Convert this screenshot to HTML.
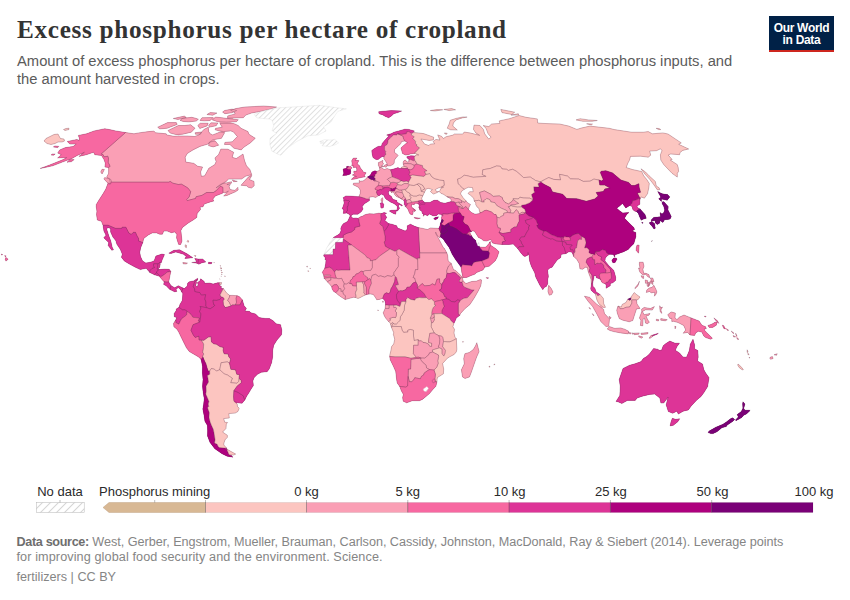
<!DOCTYPE html>
<html><head><meta charset="utf-8">
<style>
html,body{margin:0;padding:0;background:#fff;}
body{width:850px;height:600px;overflow:hidden;position:relative;font-family:"Liberation Sans",sans-serif;}
.title{position:absolute;left:17px;top:16.4px;font-family:"Liberation Serif",serif;font-weight:bold;font-size:25.2px;color:#333;letter-spacing:0.7px;white-space:nowrap;}
.sub{position:absolute;left:17px;top:52px;font-size:14.75px;line-height:18px;color:#5b5b5b;white-space:nowrap;}
.logo{position:absolute;left:769px;top:16px;width:65px;height:36px;background:#002147;border-bottom:2.8px solid #ce261e;box-sizing:border-box;color:#fff;font-weight:bold;font-size:12px;line-height:12.2px;text-align:center;padding-top:5.5px;letter-spacing:-0.3px;}
.lg{position:absolute;font-size:13px;color:#2a2a2a;white-space:nowrap;top:484px;transform:translateX(-50%);}
.foot{position:absolute;left:16.5px;font-size:12.65px;color:#858585;white-space:nowrap;}
.foot b{color:#6e6e6e;}
svg{position:absolute;left:0;top:0;}
</style></head><body>
<div class="title">Excess phosphorus per hectare of cropland</div>
<div class="sub">Amount of excess phosphorus per hectare of cropland. This is the difference between phosphorus inputs, and<br>the amount harvested in crops.</div>
<div class="logo">Our World<br>in Data</div>
<svg width="850" height="600" viewBox="0 0 850 600">
<defs><pattern id="hatch" width="3.75" height="3.75" patternUnits="userSpaceOnUse" patternTransform="rotate(45)"><rect width="3.75" height="3.75" fill="#fff"/><line x1="0.5" y1="0" x2="0.5" y2="3.75" stroke="#dcdcdc" stroke-width="0.9"/></pattern><pattern id="hatch2" width="5.66" height="5.66" patternUnits="userSpaceOnUse" patternTransform="rotate(45)"><rect width="5.66" height="5.66" fill="#fff"/><line x1="0.5" y1="0" x2="0.5" y2="5.66" stroke="#d6d6d6" stroke-width="1"/></pattern></defs>
<defs><clipPath id="land"><path clip-rule="evenodd" d="M777.2,353.7L774.0,354.8L776.6,355.3ZM772.4,356.6L770.2,357.2L769.8,358.5L770.8,359.3L773.1,358.5ZM717.0,431.8L721.9,427.7L726.3,426.6L727.0,425.3L732.6,421.4L734.7,419.6L732.6,417.8L730.5,418.8L726.7,421.7L722.9,424.3L715.8,427.2L709.1,431.1L708.1,432.6L710.7,433.6L713.2,433.6ZM735.5,419.9L736.0,420.7L741.8,417.5L743.7,415.2L746.4,414.1L750.2,410.4L748.9,410.2L744.8,410.2L743.8,408.3L744.9,404.1L743.0,401.7L742.6,403.8L742.9,408.3L741.3,411.5L737.2,414.6L738.3,417.0ZM747.2,349.8L747.1,352.4L747.8,352.2L748.1,352.1ZM747.8,353.2L748.0,354.8L748.5,354.7L749.2,354.5ZM749.3,357.2L749.1,358.0L750.0,358.0ZM739.3,367.7L742.2,369.8L743.4,369.6L740.8,366.4L738.0,364.0L737.7,365.1ZM722.3,325.2L723.8,328.4L727.1,329.7L727.5,330.5L728.7,330.3L724.5,327.2L723.9,325.8ZM731.8,331.8L733.1,333.4L734.0,333.2L731.2,331.0ZM735.6,333.2L735.9,334.6L736.4,337.2L736.3,337.1L737.7,339.5L738.9,339.2L738.2,338.8L737.8,337.9L737.6,337.4L737.2,336.6ZM733.1,335.5L733.8,337.1L735.7,336.8ZM709.2,327.4L712.7,327.4L716.3,325.2L717.2,322.3L715.3,322.1L711.7,324.2L707.9,325.5ZM717.6,322.4L718.7,323.4L717.7,321.0L713.9,317.9L715.4,320.0L717.7,322.4ZM656.3,319.2L656.3,320.5L658.4,321.0L658.9,319.7ZM660.8,318.6L660.7,319.6L660.7,320.1L660.7,320.2L665.3,320.8L667.3,319.7ZM669.9,318.4L671.7,318.4L671.8,321.6L673.5,321.3L678.1,322.6L683.7,325.5L685.7,330.0L683.2,333.2L687.6,332.4L690.0,335.0L694.6,335.5L695.7,332.9L698.4,331.3L701.8,332.1L703.8,336.1L705.7,337.6L710.8,339.2L712.4,338.2L709.2,335.0L706.5,332.4L704.8,330.5L704.2,328.9L706.3,328.7L705.7,326.8L701.9,325.2L699.1,321.0L691.1,317.9L684.0,315.0L679.5,317.1L676.8,319.7L675.0,317.6L675.4,313.1L671.2,311.9L667.7,314.7ZM621.8,403.6L627.4,400.4L635.2,400.4L637.2,398.0L642.4,396.2L649.7,394.4L654.7,394.1L659.8,398.0L660.9,403.1L663.7,403.1L667.9,397.4L666.2,404.9L667.2,408.1L668.3,411.5L672.7,413.3L676.9,411.2L678.3,414.1L683.2,411.2L688.4,409.9L691.2,406.0L696.6,400.2L701.0,396.5L703.8,392.8L707.7,386.4L708.3,382.2L709.1,377.7L705.7,373.0L703.9,369.8L702.5,364.0L697.5,360.9L698.2,357.2L697.9,350.6L694.5,348.7L694.6,344.8L693.0,339.2L690.3,344.2L689.3,350.6L686.5,357.2L682.9,356.9L679.5,352.9L675.3,350.3L677.0,346.6L679.5,343.2L675.1,343.2L669.8,341.1L665.6,343.7L663.2,345.8L661.5,350.3L659.2,350.3L657.7,349.2L653.6,348.5L649.4,354.0L646.6,356.6L643.3,358.5L641.1,361.6L635.0,363.8L629.5,365.3L623.0,368.5L621.0,374.3L619.2,379.6L620.2,386.2L620.0,391.4L619.8,395.4L616.0,401.5L617.9,401.7ZM706.1,316.3L704.2,316.3L705.6,317.1ZM343.1,169.0L343.8,173.3L342.7,175.6L346.7,175.3L350.4,174.0L350.7,171.3L350.4,169.3L352.0,168.0L350.7,166.4L350.7,166.4L348.5,166.9L348.5,166.3L346.6,166.5L346.7,168.3ZM351.8,166.0L353.4,165.5L353.2,167.5L356.3,167.3L356.8,169.8L356.6,171.3L353.8,171.3L353.8,172.5L354.0,172.8L354.9,172.5L355.3,173.4L354.5,173.8L352.3,175.1L355.2,175.8L351.2,179.4L355.6,178.9L358.7,178.1L359.7,177.8L365.3,176.8L364.3,175.8L366.1,172.8L363.3,172.0L362.5,170.5L360.4,168.0L359.6,165.8L357.9,164.5L357.3,163.5L358.9,160.6L355.3,160.3L356.9,158.1L353.3,158.1L351.7,160.8L352.1,163.5ZM367.7,176.8L366.6,178.1L365.9,178.9L363.1,180.9L360.5,181.2L359.1,180.4L359.4,182.9L353.5,183.2L353.1,184.7L358.4,187.3L360.4,190.4L360.2,193.5L358.9,196.7L354.7,196.4L350.5,196.1L345.9,195.9L343.1,197.7L343.8,199.0L343.8,200.6L344.1,202.9L343.6,205.0L342.2,208.7L343.7,209.7L343.3,213.4L346.6,212.9L348.7,213.9L350.2,215.7L349.1,218.2L347.7,221.2L345.9,222.4L343.9,223.2L342.1,225.3L340.8,228.2L341.0,230.8L339.8,233.5L337.8,235.0L333.7,237.3L333.0,238.0L332.2,239.8L330.2,241.6L328.9,244.3L326.6,248.2L325.6,250.6L323.9,254.6L323.7,256.1L325.4,257.7L324.9,259.6L326.0,259.8L325.7,263.5L324.7,268.5L322.3,272.2L323.9,275.7L323.9,276.2L323.9,276.3L323.9,276.4L324.1,278.4L325.0,279.3L325.9,280.1L327.7,282.2L328.9,283.3L330.9,285.7L331.8,287.1L332.0,288.8L333.7,291.5L336.0,292.8L337.6,294.4L341.1,297.0L345.2,299.5L348.7,298.6L353.4,297.3L355.5,297.5L358.0,298.5L360.4,297.5L362.7,296.2L365.5,294.9L366.4,294.6L369.0,294.1L370.6,294.1L373.2,294.4L375.3,297.3L376.7,299.7L379.5,299.4L382.7,298.3L383.4,299.1L383.9,299.7L384.3,298.8L384.8,300.7L385.3,301.2L385.0,301.2L385.5,303.1L385.5,304.9L385.1,308.4L384.4,310.2L383.2,312.8L384.4,316.0L386.0,318.6L388.5,321.4L390.2,323.1L390.6,324.2L391.1,326.4L391.3,327.1L393.8,332.9L393.3,334.2L394.7,339.2L393.7,344.0L391.6,346.6L390.8,351.1L389.9,354.5L389.7,356.5L390.2,359.8L393.3,366.1L395.7,371.4L396.6,379.6L397.2,383.0L399.7,386.4L401.4,390.9L403.4,394.4L402.6,397.5L403.2,401.2L406.7,402.8L412.3,400.7L419.4,400.7L422.4,399.4L425.4,397.0L429.5,393.6L432.8,389.6L435.9,386.2L437.0,381.8L437.1,379.3L437.5,377.5L443.4,373.8L443.7,369.0L442.6,363.5L443.6,362.4L447.4,358.2L450.1,356.6L454.1,354.5L456.3,351.9L456.9,349.2L456.6,344.0L456.4,338.7L455.0,337.4L454.0,332.9L454.5,329.2L452.9,326.8L453.9,323.4L454.9,321.6L456.3,318.1L459.6,315.5L460.6,313.4L465.2,308.4L469.8,304.7L474.4,297.8L478.4,290.7L480.6,286.2L481.2,283.6L481.5,279.9L480.3,279.6L476.2,281.2L471.6,281.5L465.9,283.6L463.0,280.7L462.4,277.7L462.6,277.7L460.4,275.1L457.8,272.5L454.9,269.9L453.7,269.9L452.4,266.7L451.3,263.5L448.2,260.9L447.7,255.6L446.9,253.0L444.1,248.0L443.4,247.7L437.2,235.7L437.3,235.6L439.8,237.8L440.0,236.8L443.2,238.9L445.1,241.9L449.1,247.4L452.2,254.3L455.5,259.6L460.6,266.4L461.2,267.7L461.7,272.0L462.9,277.7L466.8,277.4L470.6,275.7L475.2,274.1L476.0,272.8L483.0,269.9L484.9,267.1L489.2,266.2L492.0,263.8L495.0,261.1L495.2,260.9L497.2,257.2L499.0,251.7L495.9,248.8L490.6,245.2L490.2,243.5L490.4,241.6L489.6,242.1L489.6,242.2L489.6,242.2L489.2,243.2L486.4,246.5L485.3,247.2L482.2,247.2L479.9,247.0L478.9,246.1L479.6,244.3L478.7,242.2L477.2,244.6L476.3,243.2L475.8,240.6L473.1,238.2L471.5,235.8L470.3,233.5L469.8,231.9L471.3,232.0L471.9,230.8L474.5,231.3L476.7,234.8L478.4,237.4L481.2,238.7L483.3,240.6L486.5,241.1L488.6,240.3L490.6,239.6L490.7,239.6L490.7,239.3L490.8,239.5L494.0,238.4L494.4,239.1L491.5,241.0L492.4,242.9L496.3,244.0L502.3,244.5L508.9,244.5L513.3,244.0L514.7,245.6L517.7,248.5L518.6,249.8L520.5,252.4L523.6,256.1L525.0,256.4L528.9,254.8L529.6,260.9L531.3,266.2L534.7,272.8L535.7,277.0L539.7,284.9L542.8,289.7L544.2,287.5L546.3,286.5L547.8,283.8L547.7,283.8L547.7,279.9L548.4,276.4L547.6,270.1L549.9,268.0L552.1,267.2L554.1,264.3L557.4,259.8L560.6,257.7L561.3,254.3L563.8,254.0L566.0,253.5L568.9,251.7L572.0,252.2L573.7,256.4L576.9,259.6L579.2,263.5L579.9,268.8L582.5,269.3L585.5,267.2L587.4,267.5L588.1,271.4L589.6,275.4L591.0,279.3L591.4,284.6L590.7,288.6L591.1,290.2L593.5,292.5L595.4,294.0L596.0,296.5L596.9,299.9L600.4,306.9L596.5,303.9L589.5,297.3L584.4,296.2L588.5,301.8L592.6,306.5L596.6,313.6L600.8,321.6L606.0,326.6L608.8,326.3L609.5,319.5L609.8,319.2L604.5,313.6L603.6,309.4L601.7,307.9L605.5,307.3L603.7,303.6L603.3,298.3L600.1,294.5L597.5,292.8L596.0,291.7L594.9,288.3L593.1,286.5L592.7,283.6L593.3,279.9L594.0,277.0L593.8,275.7L595.9,275.7L596.4,277.8L599.5,278.8L601.0,280.3L601.6,282.0L602.9,283.0L604.9,283.6L606.2,284.9L606.0,288.3L610.3,285.7L610.3,283.6L612.8,282.8L615.6,280.4L615.7,277.2L615.0,274.6L613.8,270.6L611.9,268.5L608.7,265.6L607.3,263.8L605.0,260.9L605.3,258.2L606.6,256.4L608.4,255.1L609.4,254.2L613.4,254.6L614.8,257.5L614.8,254.8L617.6,254.0L621.5,252.4L623.2,251.9L628.2,249.5L630.8,246.6L633.8,243.7L635.9,236.6L635.8,232.4L632.0,231.1L634.6,229.5L633.8,227.4L630.1,224.0L624.5,218.2L626.7,214.5L629.0,212.4L622.7,212.9L619.6,210.8L616.7,208.2L619.6,206.1L622.5,203.4L625.8,207.9L629.8,205.5L632.1,206.6L632.7,209.2L634.3,211.0L636.4,211.4L638.4,213.4L639.2,216.0L640.3,218.2L641.2,220.3L643.0,219.2L646.3,218.2L645.0,214.5L640.3,209.2L637.4,207.6L637.0,206.1L639.9,204.2L639.8,202.9L639.9,199.5L641.1,196.9L644.4,198.2L647.5,193.8L648.8,187.8L649.3,183.5L646.8,179.6L643.7,175.8L641.7,171.5L632.4,169.5L626.2,167.5L627.8,163.3L629.5,160.1L630.5,156.4L640.6,156.2L648.2,157.2L650.7,155.2L649.7,151.1L656.5,150.7L660.5,148.8L662.0,150.7L660.4,154.7L660.8,160.1L663.7,164.5L672.0,173.3L677.3,177.1L677.3,173.3L678.6,171.5L678.2,167.5L677.2,164.5L670.3,160.1L672.2,159.6L668.2,155.0L670.7,154.0L679.6,154.7L680.0,152.6L682.7,150.4L688.7,149.0L678.7,144.3L681.3,142.9L668.0,134.0L662.9,132.9L652.4,133.8L648.2,131.6L643.3,132.2L631.6,132.2L614.4,129.6L609.3,128.3L589.9,126.1L581.1,128.1L576.9,129.4L568.8,126.1L559.7,124.0L552.2,123.8L543.0,123.4L537.7,123.0L537.3,118.9L526.0,117.3L519.1,115.5L509.3,118.7L499.2,120.9L499.9,123.4L491.6,124.0L488.8,126.6L483.1,125.5L486.0,128.3L488.1,133.8L491.1,137.2L488.7,139.0L484.7,133.8L483.4,129.4L479.9,125.5L474.0,125.1L473.5,129.4L476.7,134.6L470.8,133.1L464.2,132.0L462.8,134.0L454.3,134.0L453.1,135.1L446.1,136.7L443.4,138.5L441.6,136.3L437.7,134.9L439.9,140.1L435.9,139.4L435.6,139.7L433.3,141.4L433.1,141.5L434.7,143.8L430.3,144.1L428.9,145.5L424.6,144.1L420.9,139.0L429.2,140.4L433.4,139.9L433.7,137.2L423.6,133.6L418.3,132.9L413.2,132.5L414.4,130.9L409.0,129.4L404.8,129.2L398.6,130.9L393.8,132.2L392.3,133.1L386.6,135.1L389.0,135.7L387.7,137.2L384.6,140.6L382.2,143.4L381.4,146.2L378.0,146.4L374.5,148.5L371.8,150.4L372.0,153.5L373.0,157.6L376.0,159.6L378.2,159.4L380.6,157.6L382.6,156.4L384.1,157.2L383.8,158.4L384.3,159.2L384.4,159.4L385.4,160.8L387.2,164.1L384.4,165.3L384.3,166.4L382.6,166.0L381.1,166.6L383.3,167.0L383.7,166.3L386.1,167.3L387.1,166.1L390.4,165.8L393.3,164.3L394.2,163.0L394.4,160.1L396.4,157.4L398.2,155.5L397.5,154.7L394.4,152.3L394.6,149.5L397.8,146.6L400.6,143.8L401.7,141.5L405.0,141.0L407.3,142.5L403.1,145.9L400.9,148.0L401.6,150.2L402.5,153.5L405.5,155.0L408.3,154.7L410.9,153.8L414.2,153.4L416.7,153.6L415.1,156.1L410.9,155.7L410.9,155.7L406.8,156.7L407.0,157.9L409.0,158.9L408.8,160.0L409.1,161.6L407.1,162.1L405.6,160.2L404.0,160.6L403.1,162.1L403.3,164.3L404.1,166.4L401.6,167.1L401.0,168.4L399.1,168.5L398.2,167.5L394.4,168.8L390.6,169.8L387.1,168.5L384.3,169.5L384.1,169.6L384.2,169.5L379.2,166.4L379.3,166.3L380.8,166.6L381.7,165.7L383.7,163.8L382.7,163.0L382.8,160.3L380.8,161.6L378.4,162.6L378.4,165.5L379.4,167.3L379.8,169.5L379.4,170.5L376.9,171.3L374.9,170.8L372.0,172.0L370.7,174.5L369.5,176.1ZM467.8,202.9L465.8,200.7L463.1,197.7L460.5,193.8L461.6,191.2L464.6,189.1L468.3,187.3L472.5,187.6L473.2,191.7L469.6,191.7L468.0,193.5L470.3,195.1L473.7,198.2L474.2,201.0L475.9,202.9L475.6,204.2L477.1,207.1L478.8,208.2L480.1,213.4L475.0,214.2L471.4,212.4L468.5,209.7L469.1,207.1L470.5,204.5ZM425.0,202.5L422.2,200.3L421.7,198.2L422.9,195.7L424.6,192.0L426.3,188.9L428.5,188.4L432.4,189.6L430.4,191.5L433.3,194.1L436.7,192.8L438.9,191.5L436.7,191.7L435.3,189.6L438.1,188.1L441.4,187.1L439.5,191.4L439.1,191.4L440.9,193.3L443.4,194.3L447.0,196.7L450.3,198.5L451.3,200.0L451.1,201.6L445.0,203.2L440.6,202.4L437.5,200.3L433.9,200.3L429.9,202.4ZM350.7,215.9L353.1,214.2L357.9,214.2L358.6,213.7L361.2,211.8L363.1,208.9L362.1,206.8L364.4,203.7L367.2,202.1L369.5,200.6L369.3,199.3L369.2,197.2L372.8,196.7L375.8,197.4L378.5,195.6L379.7,195.4L381.1,194.1L382.1,194.5L384.1,195.4L384.7,195.6L384.3,196.0L384.9,197.7L386.2,199.3L388.7,200.8L390.4,202.1L392.6,202.9L394.2,203.7L396.2,205.3L397.4,206.8L397.1,208.9L396.8,210.0L391.5,210.3L389.6,210.8L389.6,211.3L393.9,213.7L395.6,214.2L396.3,210.7L397.6,211.0L398.4,209.7L399.6,208.2L398.4,206.3L399.1,204.2L402.0,206.1L402.4,205.3L396.8,201.9L396.9,200.6L392.8,199.3L391.4,196.4L388.7,194.6L388.3,191.7L390.4,190.4L391.8,193.0L392.5,191.7L393.8,192.5L394.6,194.6L396.4,196.4L399.7,198.0L403.3,200.1L403.9,200.6L404.3,202.1L404.3,204.5L404.3,204.5L404.3,204.5L406.8,207.7L406.8,207.8L407.4,208.7L408.4,210.0L408.7,211.3L410.0,213.9L411.1,214.5L412.5,214.7L413.2,212.6L412.6,211.0L414.8,211.6L414.8,211.1L415.8,210.3L413.6,208.8L413.0,208.2L411.4,206.8L411.7,204.2L414.2,204.7L414.9,203.2L418.3,203.4L419.2,205.5L418.8,207.4L418.7,207.4L419.8,209.4L419.6,210.0L421.7,211.0L422.2,213.4L422.8,213.7L423.5,216.3L424.6,214.4L427.6,215.8L429.4,213.9L432.9,215.8L436.4,215.8L438.3,213.9L441.7,214.5L442.0,216.6L441.4,217.6L441.8,219.6L440.4,223.7L440.1,225.3L438.9,228.4L433.9,228.2L430.6,227.9L427.4,229.5L422.8,228.4L418.3,227.6L414.2,226.1L410.5,224.2L407.3,225.8L407.3,229.2L405.2,231.1L399.7,228.7L397.7,228.2L396.7,225.8L391.9,224.2L388.3,223.6L386.8,222.1L384.9,220.5L386.8,217.1L385.9,216.6L384.9,214.2L386.7,213.3L384.1,212.5L381.4,213.5L378.8,213.2L377.7,213.4L373.8,213.9L369.2,213.7L364.9,214.7L362.9,216.0L360.5,216.8L357.9,218.4L356.1,217.9L352.8,218.2ZM518.6,115.1L518.3,113.7L512.7,114.8L511.8,114.9L511.1,115.1L511.1,115.1ZM511.8,114.5L514.7,112.2L500.8,109.4L502.0,112.6ZM591.4,124.9L592.5,124.0L586.6,123.8ZM642.2,170.4L643.2,171.8L643.3,171.9L645.3,174.5L649.9,179.6L653.8,184.7L657.4,189.9L659.9,189.6L659.1,187.8L656.3,186.0L655.3,181.4L649.1,175.8L645.5,172.0L641.0,168.8ZM657.7,191.5L660.9,197.2L658.7,198.7L661.4,201.6L661.5,199.0L667.2,200.3L669.8,196.9L667.6,194.6L662.2,193.8L659.0,192.2L659.0,192.1ZM662.1,202.4L662.2,203.7L663.6,206.1L664.7,210.0L663.8,212.4L662.0,213.9L660.0,212.6L660.6,216.8L657.4,217.1L653.6,217.4L651.2,220.0L651.6,221.3L654.7,220.5L655.4,222.9L657.3,224.5L659.5,223.2L660.5,220.7L662.8,222.6L664.2,220.5L664.1,219.7L667.9,219.5L670.1,218.9L671.3,216.8L669.8,213.4L668.0,210.0L668.2,206.6L664.1,201.9L662.9,201.6ZM651.7,221.5L651.7,221.6L649.5,222.6L649.8,224.0L651.7,225.8L654.0,229.0L655.3,228.2L654.5,223.4ZM610.0,318.9L611.2,317.6L608.9,316.3ZM609.5,326.6L607.2,328.9L609.9,330.5L613.6,331.6L620.5,332.9L628.3,333.9L628.6,332.3L628.6,332.3L628.7,331.3L624.7,329.2L620.3,327.9L614.9,328.4ZM628.6,332.4L630.1,334.2L631.4,332.9ZM632.1,332.9L632.1,332.9L632.2,333.0L632.9,334.5L633.7,333.2ZM633.9,333.2L634.3,334.7L638.7,334.2L639.1,333.3L639.3,332.9ZM640.9,333.2L641.3,334.5L647.8,333.9L648.1,332.6ZM638.8,335.8L638.7,336.8L641.4,338.2L642.9,337.1L641.9,336.8ZM548.7,285.2L548.2,288.6L547.9,291.2L549.2,295.2L551.5,294.6L553.0,292.0L551.3,288.6ZM383.4,301.2L382.5,301.2L383.0,302.6ZM614.8,258.2L613.3,258.2L611.8,260.4L612.9,262.7L615.1,262.5L616.9,259.3L616.5,258.2L615.1,258.2ZM670.1,425.9L673.4,425.3L677.8,421.7L679.7,418.8L675.5,419.3L672.3,418.3L670.9,422.2ZM674.8,326.3L675.1,328.9L676.0,326.6ZM660.2,311.8L661.9,313.4L660.9,309.9L662.5,307.0L660.9,307.8L659.7,305.7L659.8,308.4ZM656.1,128.3L658.6,129.6L660.8,129.6L659.0,128.5ZM652.8,335.0L650.9,335.5L649.1,338.2L650.2,338.2L652.5,336.6L652.6,336.1L657.3,334.2L658.3,333.2ZM638.2,284.1L635.2,287.5L634.9,288.8L637.9,285.9L639.5,281.2ZM641.6,276.8L642.2,278.0L643.6,278.6L643.6,276.2L641.0,275.7L641.3,276.2L641.5,276.6ZM643.6,275.6L643.6,275.0L645.7,274.3L647.8,276.7L649.8,277.8L648.9,274.6L646.0,273.3L643.7,273.3L642.9,269.3L644.0,266.2L643.1,262.2L639.4,262.2L639.4,264.8L640.0,268.3L638.5,268.0L639.8,272.0L641.2,273.5ZM650.3,278.0L650.9,279.1L650.5,280.0L650.3,280.6L649.2,283.4L647.7,281.2L647.8,280.7L645.2,279.9L645.5,283.3L647.8,283.3L646.8,284.9L648.3,287.2L651.2,282.1L651.9,284.1L653.1,284.4L652.5,281.5L653.9,281.7L652.8,278.0ZM653.3,285.8L652.2,287.3L648.9,288.1L649.0,288.2L646.8,289.9L646.3,292.5L649.5,291.5L651.2,292.8L654.9,292.3L654.4,296.2L655.9,294.4L656.9,292.0L656.0,289.4L653.8,285.2ZM621.3,307.0L618.0,306.0L616.7,310.2L617.4,313.4L619.3,318.6L622.8,320.2L629.2,321.8L632.8,320.5L634.1,316.3L636.5,308.9L640.0,308.4L637.0,303.9L636.4,299.9L638.0,299.7L640.0,297.0L636.4,294.4L634.2,292.5L631.2,296.8L631.0,297.8L628.1,298.9L628.0,298.9L627.9,299.0L627.9,299.0L625.8,302.6L622.2,304.4ZM641.6,309.2L641.8,311.3L640.6,314.7L639.4,318.1L640.9,320.2L640.4,325.5L642.8,325.8L643.2,315.5L644.0,315.4L645.5,323.1L647.3,323.7L649.4,322.3L647.7,319.7L646.0,316.0L649.0,315.2L650.0,313.4L644.1,314.7L642.5,311.5L645.6,309.8L652.3,310.1L654.4,306.6L650.4,308.5L644.1,307.4ZM651.4,241.9L651.9,241.1L652.3,240.3ZM643.1,222.6L641.5,222.6L642.8,223.4ZM638.5,253.2L639.0,249.0L639.1,245.1L637.0,245.1L636.3,247.7L636.1,250.3ZM597.3,120.5L588.5,119.9L580.2,118.7L576.0,119.9L582.9,121.3L592.4,121.3ZM589.1,307.3L589.6,308.6L590.8,309.2ZM592.4,313.6L593.1,315.2L594.0,315.7ZM494.9,364.3L494.0,364.0L494.2,365.1ZM489.1,366.1L489.2,367.2L490.2,366.7ZM486.2,277.5L487.0,278.6L488.8,277.9ZM462.5,376.9L465.0,378.5L469.5,376.9L471.5,371.7L476.1,358.5L477.2,355.8L479.1,351.6L476.8,342.7L475.5,345.8L473.3,349.5L469.4,352.4L464.9,353.7L463.7,358.5L464.3,363.8L461.4,369.8ZM463.1,116.9L456.5,118.3L450.2,120.3L449.2,124.0L447.6,127.2L447.4,128.3L450.6,129.8L457.3,130.0L452.8,126.1L453.4,123.0L456.1,119.9L462.4,117.9L467.1,117.1ZM463.4,341.9L462.8,341.1L462.9,342.4ZM430.3,110.5L435.0,111.0L444.3,109.5L449.1,110.6L455.6,109.8L451.7,108.6L441.1,109.7L436.9,109.6ZM444.5,132.9L445.0,134.0L446.8,134.2L447.2,133.3ZM382.6,197.7L380.9,199.3L381.2,201.1L382.3,201.9L382.9,200.0ZM435.1,217.6L433.6,218.7L435.3,219.7L437.4,218.7L438.5,216.8L435.1,217.6ZM420.4,218.2L414.2,217.4L414.3,218.0L417.6,218.9ZM382.3,202.4L380.2,203.2L380.7,204.7L380.8,207.6L381.9,208.2L383.4,207.6L383.7,204.2ZM391.5,110.6L383.0,111.2L378.7,111.7L379.0,113.7L382.9,114.9L385.4,116.5L388.7,117.7L391.4,115.9L393.8,113.7L397.9,112.6L401.7,111.0ZM378.4,310.2L377.8,309.9L378.0,310.9ZM40.1,168.5L45.0,167.5L52.7,165.8L62.4,162.1L70.3,159.1L70.4,159.1L69.6,159.8L77.2,155.5L81.4,153.6L81.8,154.3L78.9,156.4L86.4,154.7L93.6,152.3L94.8,154.7L101.5,155.5L104.0,159.6L105.3,163.3L104.9,167.0L108.6,167.5L108.6,173.3L106.3,178.0L104.7,177.6L103.8,178.9L107.9,183.2L105.8,189.1L103.0,193.8L98.8,200.3L96.3,204.5L96.2,206.8L96.9,211.3L96.5,214.5L97.3,220.0L101.4,221.3L103.0,225.3L103.9,231.1L106.0,235.3L103.8,237.7L105.0,239.0L108.7,242.4L108.2,245.6L111.8,250.3L113.5,249.8L112.2,247.2L110.8,241.1L108.8,235.8L106.7,229.2L107.6,227.4L110.6,228.4L110.6,231.9L112.9,237.1L115.7,240.6L116.9,244.3L120.4,249.5L122.3,254.3L121.4,257.2L124.3,260.9L128.9,263.8L134.9,267.0L140.3,269.6L146.2,268.3L149.9,272.6L154.5,274.7L159.2,276.2L162.4,279.9L164.1,281.7L163.7,284.6L166.2,285.7L168.8,288.6L170.1,289.6L174.5,291.7L176.8,291.5L176.0,289.4L178.2,287.5L180.4,289.4L181.7,292.0L182.8,293.6L182.3,300.4L179.9,304.4L179.1,307.3L176.3,308.9L176.1,310.7L174.2,313.6L174.3,316.8L176.8,317.6L175.7,320.0L173.5,323.4L173.9,326.8L177.0,329.2L178.7,332.1L181.3,337.4L184.0,342.9L186.4,347.7L189.3,351.6L198.6,356.9L201.1,359.4L202.5,366.4L202.4,373.0L203.0,379.6L202.5,386.2L203.0,391.4L204.2,398.8L203.6,404.6L202.8,409.1L204.0,415.2L204.9,421.2L207.4,425.6L207.6,430.8L207.5,436.0L210.0,442.4L214.8,448.7L222.0,453.7L227.1,456.2L232.8,457.2L231.1,454.9L233.4,455.1L235.7,454.1L226.7,449.1L226.7,448.2L223.8,444.9L223.9,443.1L225.1,439.8L227.4,437.3L227.3,435.2L222.6,432.1L226.0,428.5L226.3,424.0L227.6,422.5L224.7,422.2L223.7,418.6L229.3,418.0L228.8,413.6L235.2,413.1L237.9,411.5L239.2,408.3L237.5,406.5L237.0,402.4L239.2,403.1L242.1,403.2L244.8,399.9L246.8,395.9L248.6,393.3L250.8,389.6L253.4,385.6L252.9,380.9L254.0,377.7L257.5,374.3L261.4,372.2L267.1,371.7L269.2,369.0L271.6,362.7L272.6,357.2L272.7,350.6L273.7,345.3L277.0,340.0L281.5,334.7L281.8,330.0L280.6,324.7L276.1,323.7L273.1,320.8L269.5,318.5L264.9,318.4L259.1,317.6L255.5,313.9L250.9,312.8L249.7,311.5L245.0,311.0L246.4,308.4L244.1,305.7L242.4,299.9L239.6,296.8L237.1,295.7L232.7,295.4L229.7,295.4L226.7,293.1L223.4,288.6L221.1,288.6L221.4,286.5L218.1,284.4L221.2,284.4L221.6,282.5L219.2,282.8L217.4,282.8L213.1,284.1L209.7,283.0L204.6,283.3L204.2,281.5L200.7,278.8L199.9,280.9L197.5,282.5L198.0,284.6L197.4,287.0L195.7,285.7L196.5,282.5L196.1,281.2L197.6,279.9L197.7,278.3L193.6,280.9L189.4,281.7L187.7,283.0L187.3,285.9L184.4,288.6L183.0,288.1L178.3,285.7L174.7,287.8L171.1,285.7L168.7,282.0L169.5,278.0L170.8,271.4L169.2,269.3L164.6,269.1L157.2,269.8L159.5,267.5L160.2,264.8L160.1,262.2L161.1,263.0L162.3,259.6L164.5,254.6L161.9,254.0L155.9,256.1L154.1,260.9L150.5,262.2L145.8,263.0L142.6,260.9L140.5,256.4L139.8,252.2L140.7,247.7L142.8,242.6L143.7,238.5L148.3,235.0L152.2,232.9L156.7,232.9L159.7,234.2L162.4,234.2L163.8,231.1L167.2,231.1L171.3,232.7L174.8,231.9L176.9,234.5L176.5,237.7L177.8,241.9L178.7,244.5L180.7,244.5L182.0,241.1L181.6,237.1L180.9,230.6L182.5,227.4L188.0,223.2L193.2,220.0L196.8,217.4L197.2,213.4L200.5,209.5L200.1,207.1L203.0,206.8L204.3,204.0L210.3,201.9L213.7,201.1L212.9,199.0L215.4,195.9L222.5,193.3L222.9,192.2L226.4,193.2L223.7,196.1L227.1,195.4L235.6,191.7L238.2,189.9L237.9,187.3L234.9,190.4L230.0,189.4L229.0,186.0L230.5,184.7L227.6,184.5L227.6,184.3L231.4,183.2L231.5,181.7L224.9,183.2L228.4,179.1L231.4,179.1L231.6,179.1L241.5,179.1L245.5,176.3L250.1,175.0L241.0,185.3L246.6,185.8L248.2,187.3L251.5,188.1L254.2,185.8L254.0,181.4L249.5,179.6L252.0,175.2L249.9,169.5L246.5,165.8L244.6,160.8L243.0,154.0L240.2,155.9L236.2,158.6L232.2,157.2L233.7,152.3L228.0,149.2L220.9,149.0L218.5,154.7L214.9,157.9L216.1,161.6L214.9,164.5L208.8,168.3L204.7,175.8L201.4,176.3L200.6,172.0L202.6,167.0L197.7,166.3L193.7,163.3L185.8,162.1L185.2,157.2L187.3,153.5L193.0,149.9L200.0,146.4L208.9,143.8L208.6,145.7L213.2,146.9L218.7,145.2L214.1,139.6L221.5,138.3L225.3,131.4L230.9,130.9L233.5,132.0L237.3,136.5L232.4,141.7L224.9,142.4L224.5,144.5L229.9,144.5L234.0,148.3L241.3,149.9L243.4,147.6L250.3,142.9L255.3,138.3L248.9,134.2L248.0,131.6L241.1,128.3L238.2,125.5L230.3,122.0L236.5,121.7L238.3,119.7L233.1,119.1L233.2,117.9L243.3,117.7L245.8,115.1L251.6,113.0L257.6,111.9L257.9,113.0L254.0,114.3L256.9,117.9L269.8,119.1L272.1,120.3L273.8,125.5L272.0,130.5L276.5,133.3L270.0,138.3L269.9,144.8L271.9,151.1L279.0,154.7L280.9,155.2L284.7,151.1L288.8,147.1L296.7,141.5L307.9,135.8L318.4,134.9L326.0,130.9L323.6,126.8L331.1,121.9L333.7,117.3L336.0,113.9L338.1,111.2L346.4,108.8L334.8,107.5L321.7,105.6L319.1,105.3L300.5,106.5L275.5,108.0L275.4,107.4L276.6,107.0L263.7,106.0L244.7,107.0L235.6,108.6L233.1,109.4L232.1,109.1L224.6,110.5L222.6,112.1L224.9,113.7L231.9,112.8L234.1,111.8L235.1,113.9L227.7,115.9L227.5,118.5L225.8,118.3L221.9,117.7L215.7,117.1L215.3,117.4L202.0,117.7L201.4,118.5L200.4,120.1L200.4,120.1L200.0,120.5L204.3,120.9L210.2,120.5L211.2,119.4L218.5,122.1L218.8,121.6L219.3,122.4L220.1,122.7L220.0,123.0L219.7,123.0L222.2,127.2L215.6,128.3L215.1,129.8L221.4,131.5L212.7,134.9L210.2,133.8L208.7,131.6L208.3,127.4L216.2,125.7L217.9,123.0L211.0,122.8L208.7,125.1L208.8,125.3L210.5,124.7L211.0,125.9L209.1,126.9L207.9,127.4L206.2,128.3L203.9,129.4L201.6,132.0L195.1,132.7L195.4,134.2L200.0,134.2L200.1,134.6L194.4,136.5L187.9,136.0L178.4,136.0L178.4,136.0L174.0,136.3L166.7,134.9L166.2,133.8L155.5,132.7L153.9,131.1L148.4,131.6L138.4,132.9L134.0,133.8L125.5,132.5L115.8,130.9L110.7,129.8L104.8,128.7L94.1,130.9L86.5,133.8L78.3,135.4L79.4,138.3L79.0,140.6L77.0,139.4L67.2,141.5L70.0,144.1L76.2,144.1L73.2,146.4L65.4,147.6L59.7,149.9L57.7,153.1L61.3,154.7L57.6,157.9L66.7,157.6L63.2,159.6L49.6,165.0ZM233.3,181.3L233.6,181.7L237.3,181.4L232.2,179.9ZM198.4,119.3L195.8,118.3L191.8,117.3L186.7,117.8L184.4,116.1L173.2,118.5L178.0,119.5L182.5,118.4L182.6,118.4L180.0,120.3L183.1,121.5L188.9,121.9L196.2,121.1ZM208.2,123.2L200.2,123.2L197.8,125.5L199.8,128.5L207.1,125.9L207.1,125.9ZM178.6,135.2L191.3,132.2L195.0,128.3L192.3,126.1L190.6,124.7L184.9,125.5L178.2,125.5L178.2,125.6L168.0,130.5L170.2,133.1ZM177.2,124.4L176.3,122.6L167.6,122.6L157.7,127.2L159.8,128.9L167.1,128.3ZM64.0,139.0L60.5,138.5L59.0,136.0L58.0,134.0L54.0,134.5L46.0,138.5L44.0,141.0L47.0,143.5L51.0,144.5L55.0,143.5L58.0,142.0L62.0,142.0L64.5,141.0L64.5,140.9ZM55.2,154.0L52.3,154.0L51.1,155.0L53.6,155.2ZM69.6,159.8L67.0,162.3L71.6,161.6L74.2,159.6ZM319.6,141.7L323.3,141.9L323.3,142.2L320.2,143.1L323.6,144.1L322.0,145.7L325.9,146.2L329.4,146.6L336.0,144.5L338.6,142.9L337.2,141.7L334.8,139.4L331.2,140.1L324.3,139.7ZM309.9,268.3L310.2,268.9L310.4,268.3ZM308.7,271.2L308.1,270.6L308.0,271.7ZM307.5,266.2L306.6,266.4L307.2,267.2ZM224.7,275.9L224.9,276.7L225.4,276.2ZM220.3,266.2L220.8,265.9L220.1,265.6ZM220.9,267.8L220.4,267.7L220.8,268.5L220.9,269.3L221.8,268.0ZM221.0,269.9L221.1,270.9L221.6,270.4ZM221.2,271.8L221.5,273.5L222.4,272.5ZM221.6,274.1L221.8,274.9L222.0,274.3ZM221.2,276.0L221.0,275.9L221.2,276.4L221.4,276.2ZM220.1,279.1L219.7,278.8L219.9,279.3ZM210.2,112.6L206.9,114.5L212.6,115.3L217.0,113.0ZM179.5,249.8L173.8,250.3L168.8,253.2L171.1,253.5L175.8,251.9L183.5,254.3L186.2,256.4L184.8,258.5L192.9,257.7L187.0,253.8ZM195.4,256.7L195.9,255.6L194.3,255.6ZM197.5,258.9L196.5,258.8L194.7,258.5L195.9,260.4L196.4,261.9L191.7,262.5L195.6,263.0L198.1,263.4L198.7,264.3L202.0,262.7L205.8,261.9L202.6,259.0L198.5,259.0ZM187.5,263.1L182.8,262.5L183.1,263.8L186.1,264.0ZM208.5,262.3L208.4,263.7L211.4,263.7L212.1,262.6ZM213.8,262.5L213.8,262.6L213.9,262.7L214.0,262.9L214.4,262.6ZM187.8,240.3L187.1,241.4L188.1,242.4L188.8,241.1ZM185.2,244.8L185.1,246.9L186.4,247.7L186.5,245.3ZM100.7,172.0L102.1,174.0L104.4,169.5L102.0,169.3ZM66.0,128.5L63.5,129.5L65.0,130.5L69.0,129.5L69.0,128.2ZM54.6,145.9L53.4,147.1L57.7,147.6L58.9,146.4ZM-0.8,253.1L-0.5,252.7L-1.6,252.4L-1.2,253.5ZM1.4,254.0L1.6,255.1L2.3,254.7L2.7,254.6ZM4.7,255.6L5.3,256.9L6.2,256.1ZM5.4,257.1L5.7,257.8L5.2,259.3L5.9,261.1L8.2,259.3Z"/></clipPath></defs><g clip-path="url(#land)" stroke-linejoin="round"><path d="M125.5,132.5L101.1,154.0L103.1,154.7L104.1,156.9L107.8,156.2L108.5,158.6L108.1,162.3L109.5,165.0L110.0,166.3L108.6,167.8L108.6,173.3L106.7,177.1L110.9,179.6L111.6,182.2L111.6,182.2L168.9,182.2L170.1,181.4L172.8,183.2L178.3,184.5L181.5,184.2L187.6,187.8L188.7,189.1L190.7,191.7L189.0,197.2L186.6,199.5L187.3,200.6L195.5,198.5L196.2,196.7L201.9,195.4L206.7,192.5L213.4,192.5L216.0,190.9L220.3,186.3L222.8,187.3L222.9,192.2L224.8,192.8L228.5,190.9L223.7,196.1L227.1,195.4L235.6,191.7L238.2,189.9L237.9,187.3L234.9,190.4L230.0,189.4L229.0,186.0L230.5,184.7L226.9,184.5L231.4,183.2L231.5,181.7L222.7,183.7L216.1,187.8L220.3,184.5L226.6,181.2L228.4,179.1L241.5,179.1L245.5,176.3L251.7,174.5L249.9,169.5L246.5,165.8L244.6,160.8L243.0,154.0L240.2,155.9L236.2,158.6L232.2,157.2L233.7,152.3L228.0,149.2L220.9,149.0L218.5,154.7L214.9,157.9L216.1,161.6L214.9,164.5L208.8,168.3L204.7,175.8L201.4,176.3L200.6,172.0L202.6,167.0L197.7,166.3L193.7,163.3L185.8,162.1L185.2,157.2L187.3,153.5L193.0,149.9L200.0,146.4L207.9,144.1L212.6,139.9L221.5,138.3L224.6,132.7L220.0,132.0L212.7,134.9L210.2,133.8L208.7,131.6L208.3,127.2L203.9,129.4L199.1,134.9L194.4,136.5L187.9,136.0L177.6,136.0L174.0,136.3L166.7,134.9L166.2,133.8L155.5,132.7L153.9,131.1L148.4,131.6L138.4,132.9L134.0,133.8L125.5,132.5ZM104.7,177.6L109.5,178.9L110.4,183.5L107.7,182.9L103.8,178.9ZM241.0,185.3L248.3,177.1L251.8,175.6L249.5,179.6L254.0,181.4L254.2,185.8L251.5,188.1L248.2,187.3L246.6,185.8ZM219.9,123.4L233.5,123.4L238.2,125.5L241.1,128.3L248.0,131.6L248.9,134.2L255.3,138.3L250.3,142.9L243.4,147.6L241.3,149.9L234.0,148.3L229.9,144.5L224.5,144.5L224.9,142.4L232.4,141.7L237.3,136.5L233.5,132.0L230.9,130.9L223.7,131.6L219.2,130.9L215.1,129.8L215.6,128.3L222.2,127.2L219.9,123.4ZM209.2,142.2L215.3,141.0L218.7,145.2L213.2,146.9L208.6,145.7L209.2,142.2ZM168.0,130.5L178.4,125.5L184.9,125.5L190.6,124.7L192.3,126.1L195.0,128.3L191.3,132.2L182.7,134.2L175.7,134.5L170.2,133.1L168.0,130.5ZM157.7,127.2L167.6,122.6L176.3,122.6L177.2,124.4L167.1,128.3L159.8,128.9L157.7,127.2ZM200.2,123.2L208.2,123.2L207.1,125.9L199.8,128.5L197.8,125.5ZM211.0,122.8L217.9,123.0L216.2,125.7L209.2,127.2L208.7,125.1ZM195.1,132.7L201.6,132.0L200.5,134.2L195.4,134.2ZM182.7,118.3L191.8,117.3L195.8,118.3L198.4,119.3L196.2,121.1L188.9,121.9L183.1,121.5L180.0,120.3ZM202.0,117.7L212.9,117.5L210.2,120.5L204.3,120.9L200.0,120.5ZM215.7,117.1L221.9,117.7L225.8,118.3L238.3,119.7L236.5,121.7L226.6,122.1L217.6,121.7L212.4,119.9ZM235.6,108.6L244.7,107.0L263.7,106.0L276.6,107.0L270.4,109.1L261.4,111.2L251.6,113.0L245.8,115.1L243.3,117.7L227.6,118.1L227.7,115.9L235.1,113.9L234.3,112.1L230.6,110.3ZM224.6,110.5L232.1,109.1L236.7,110.6L231.9,112.8L224.9,113.7L222.6,112.1ZM173.2,118.5L184.4,116.1L186.2,117.5L178.0,119.5ZM210.2,112.6L217.0,113.0L212.6,115.3L206.9,114.5ZM232.2,179.9L237.3,181.4L233.6,181.7ZM102.0,169.3L104.4,169.5L102.1,174.0L100.7,172.0Z" fill="#fa9fb5" stroke="#fa9fb5" stroke-width="2"/><path d="M107.8,183.7L110.3,184.2L111.6,182.2L111.6,182.2L168.9,182.2L170.1,181.4L172.8,183.2L178.3,184.5L181.5,184.2L187.6,187.8L188.7,189.1L190.7,191.7L189.0,197.2L186.6,199.5L187.3,200.6L195.5,198.5L196.2,196.7L201.9,195.4L206.7,192.5L213.4,192.5L216.0,190.9L220.3,186.3L222.8,187.3L222.9,192.2L222.5,193.3L215.4,195.9L212.9,199.0L213.7,201.1L210.3,201.9L204.3,204.0L203.0,206.8L200.1,207.1L200.5,209.5L197.2,213.4L196.8,217.4L193.2,220.0L188.0,223.2L182.5,227.4L180.9,230.6L181.6,237.1L182.0,241.1L180.7,244.5L178.7,244.5L177.8,241.9L176.5,237.7L176.9,234.5L174.8,231.9L171.3,232.7L167.2,231.1L163.8,231.1L162.4,234.2L159.7,234.2L156.7,232.9L152.2,232.9L148.3,235.0L143.7,238.5L142.8,242.6L138.6,241.1L138.5,238.5L136.9,235.8L135.5,232.4L133.3,232.4L131.2,234.5L128.7,232.9L125.9,227.3L122.1,227.3L121.7,228.4L115.5,228.4L108.1,225.3L103.0,225.3L101.4,221.3L97.3,220.0L96.5,214.5L96.9,211.3L96.2,206.8L96.3,204.5L98.8,200.3L103.0,193.8L105.8,189.1ZM125.5,132.5L101.1,154.0L103.1,154.7L104.1,156.9L107.8,156.2L108.5,158.6L108.1,162.3L109.5,165.0L110.0,166.3L108.4,167.5L104.9,167.0L105.3,163.3L104.0,159.6L101.5,155.5L94.8,154.7L93.6,152.3L86.4,154.7L78.9,156.4L84.4,152.3L77.2,155.5L72.1,158.4L62.4,162.1L52.7,165.8L45.0,167.5L40.1,168.5L49.6,165.0L63.2,159.6L66.7,157.6L57.6,157.9L61.3,154.7L57.7,153.1L59.7,149.9L65.4,147.6L73.2,146.4L76.2,144.1L70.0,144.1L67.2,141.5L77.0,139.4L79.0,140.6L79.4,138.3L78.3,135.4L86.5,133.8L94.1,130.9L104.8,128.7L110.7,129.8L115.8,130.9L125.5,132.5ZM69.6,159.8L74.2,159.6L71.6,161.6L67.0,162.3ZM54.6,145.9L58.9,146.4L57.7,147.6L53.4,147.1ZM52.3,154.0L55.2,154.0L53.6,155.2L51.1,155.0ZM5.9,257.5L8.2,259.3L5.9,261.1L5.2,259.3ZM4.7,255.6L6.2,256.1L5.3,256.9ZM1.4,254.0L2.7,254.6L1.6,255.1ZM-1.6,252.4L-0.5,252.7L-1.2,253.5Z" fill="#f768a1" stroke="#f768a1" stroke-width="2"/><path d="M103.0,225.3L108.1,225.3L115.5,228.4L121.7,228.4L122.1,227.3L125.9,227.3L128.7,232.9L131.2,234.5L133.3,232.4L135.5,232.4L136.9,235.8L138.5,238.5L138.6,241.1L142.8,242.6L140.7,247.7L139.8,252.2L140.5,256.4L142.6,260.9L145.8,263.0L150.5,262.2L154.1,260.9L155.9,256.1L161.9,254.0L164.5,254.6L162.3,259.6L161.1,263.0L160.1,262.2L158.1,263.8L153.7,263.8L153.5,265.5L154.6,267.7L152.0,268.5L150.1,270.6L149.9,272.6L146.2,268.3L140.3,269.6L134.9,267.0L128.9,263.8L124.3,260.9L121.4,257.2L122.3,254.3L120.4,249.5L116.9,244.3L115.7,240.6L112.9,237.1L110.6,231.9L110.6,228.4L107.6,227.4L106.7,229.2L108.8,235.8L110.8,241.1L112.2,247.2L113.5,249.8L111.8,250.3L108.2,245.6L108.7,242.4L105.0,239.0L103.8,237.7L106.0,235.3L103.9,231.1Z" fill="#dd3497" stroke="#dd3497" stroke-width="2"/><path d="M149.9,272.6L150.1,270.6L152.0,268.5L154.6,267.7L153.5,265.5L153.7,263.8L158.1,263.8L157.2,269.1L159.2,269.6L156.9,271.4L156.5,273.0L154.5,274.7Z" fill="#dd3497" stroke="#dd3497" stroke-width="2"/><path d="M158.1,263.8L160.1,262.2L160.2,264.8L159.5,267.5L157.9,269.1L157.2,269.1Z" fill="#dd3497" stroke="#dd3497" stroke-width="2"/><path d="M156.5,273.0L156.9,271.4L159.2,269.6L164.6,269.1L169.2,269.3L170.8,271.4L167.0,272.2L164.7,274.3L162.3,275.9L160.8,276.7L159.8,275.7L158.3,274.3Z" fill="#dd3497" stroke="#dd3497" stroke-width="2"/><path d="M154.5,274.7L156.5,273.0L158.3,274.3L159.8,275.7L159.5,276.3Z" fill="#dd3497" stroke="#dd3497" stroke-width="2"/><path d="M160.8,276.7L162.3,275.9L164.7,274.3L167.0,272.2L170.8,271.4L169.5,278.0L168.7,282.0L166.0,282.0L164.1,281.7L162.4,279.9L159.9,277.0Z" fill="#f768a1" stroke="#f768a1" stroke-width="2"/><path d="M164.1,281.7L166.0,282.0L168.7,282.0L171.1,285.7L170.1,289.6L168.8,288.6L166.2,285.7L163.7,284.6Z" fill="#dd3497" stroke="#dd3497" stroke-width="2"/><path d="M171.1,285.7L174.7,287.8L178.3,285.7L183.0,288.1L181.7,292.0L180.4,289.4L178.2,287.5L176.0,289.4L176.8,291.5L174.5,291.7L170.1,289.6Z" fill="#dd3497" stroke="#dd3497" stroke-width="2"/><path d="M168.8,253.2L173.8,250.3L179.5,249.8L187.0,253.8L192.9,257.7L184.8,258.5L186.2,256.4L183.5,254.3L175.8,251.9L171.1,253.5Z" fill="#dd3497" stroke="#dd3497" stroke-width="2"/><path d="M191.7,262.5L195.6,263.0L198.1,263.4L198.5,259.0L194.7,258.5L195.9,260.4L196.4,261.9Z" fill="#dd3497" stroke="#dd3497" stroke-width="2"/><path d="M198.1,263.4L198.5,259.0L202.6,259.0L205.8,261.9L202.0,262.7L198.7,264.3Z" fill="#dd3497" stroke="#dd3497" stroke-width="2"/><path d="M182.8,262.5L187.5,263.1L186.1,264.0L183.1,263.8Z" fill="#fa9fb5" stroke="#fa9fb5" stroke-width="2"/><path d="M208.5,262.3L212.1,262.6L211.4,263.7L208.4,263.7Z" fill="#dd3497" stroke="#dd3497" stroke-width="2"/><path d="M185.2,244.8L186.5,245.3L186.4,247.7L185.1,246.9ZM187.8,240.3L188.8,241.1L188.1,242.4L187.1,241.4ZM194.3,255.6L195.9,255.6L195.4,256.7Z" fill="#fcc5c0" stroke="#fcc5c0" stroke-width="2"/><path d="M219.2,282.8L221.6,282.5L221.2,284.4L219.1,284.4ZM220.4,267.7L221.8,268.0L221.0,269.1ZM221.0,269.9L221.6,270.4L221.1,270.9ZM221.5,272.0L222.4,272.5L221.9,273.0ZM221.6,274.1L222.0,274.3L221.8,274.9ZM221.0,275.9L221.4,276.2L221.2,276.4ZM224.7,275.9L225.4,276.2L224.9,276.7ZM219.7,278.8L220.1,279.1L219.9,279.3ZM220.1,265.6L220.8,265.9L220.3,266.2ZM213.8,262.5L214.4,262.6L214.0,262.9Z" fill="#fcc5c0" stroke="#fcc5c0" stroke-width="2"/><path d="M183.0,288.1L184.4,288.6L187.3,285.9L187.7,283.0L189.4,281.7L193.6,280.9L197.7,278.3L197.6,279.9L194.7,281.7L193.3,286.5L194.6,288.8L194.9,291.5L199.8,292.5L201.3,294.9L205.7,294.6L204.9,299.1L206.0,302.0L205.9,305.7L206.8,307.8L200.1,306.5L201.0,308.1L199.6,311.5L201.0,313.9L199.9,322.1L198.1,321.0L199.4,318.1L192.9,317.3L191.0,314.4L187.2,311.3L184.9,309.9L182.4,309.9L179.1,307.3L179.9,304.4L182.3,300.4L182.8,293.6L181.7,292.0Z" fill="#dd3497" stroke="#dd3497" stroke-width="2"/><path d="M197.6,279.9L196.1,281.2L196.5,282.5L195.7,285.7L197.4,287.0L198.0,284.6L197.5,282.5L199.9,280.9L200.7,278.8L204.2,281.5L204.6,283.3L209.7,283.0L213.1,284.1L217.4,282.8L219.2,282.8L218.9,284.9L221.4,286.5L221.1,288.6L223.4,288.6L219.9,295.2L220.6,295.4L221.5,297.3L219.6,299.7L216.5,300.4L213.0,300.2L213.6,304.4L215.0,305.2L213.4,306.8L210.1,308.9L206.8,307.8L205.9,305.7L206.0,302.0L204.9,299.1L205.7,294.6L201.3,294.9L199.8,292.5L194.9,291.5L194.6,288.8L193.3,286.5L194.7,281.7Z" fill="#dd3497" stroke="#dd3497" stroke-width="2"/><path d="M223.4,288.6L226.7,293.1L229.7,295.4L229.4,297.3L227.7,300.4L229.3,302.3L231.1,306.0L227.6,307.0L225.2,307.6L223.4,304.9L223.0,300.7L224.2,299.1L222.9,297.3L221.5,297.3L220.6,295.4L219.9,295.2Z" fill="#fcc5c0" stroke="#fcc5c0" stroke-width="2"/><path d="M229.7,295.4L232.7,295.4L237.1,295.7L236.1,298.1L236.5,302.3L235.5,304.9L232.3,304.9L231.1,306.0L229.3,302.3L227.7,300.4L229.4,297.3Z" fill="#fa9fb5" stroke="#fa9fb5" stroke-width="2"/><path d="M237.1,295.7L239.6,296.8L242.4,299.9L240.0,304.9L235.5,304.9L236.5,302.3L236.1,298.1Z" fill="#f768a1" stroke="#f768a1" stroke-width="2"/><path d="M179.1,307.3L182.4,309.9L184.9,309.9L187.2,311.3L186.6,315.0L181.5,318.9L180.2,321.3L178.9,324.2L175.8,322.6L175.7,320.0L176.8,317.6L174.3,316.8L174.2,313.6L176.1,310.7L176.3,308.9Z" fill="#dd3497" stroke="#dd3497" stroke-width="2"/><path d="M175.7,320.0L175.8,322.6L178.9,324.2L180.2,321.3L181.5,318.9L186.6,315.0L187.2,311.3L191.0,314.4L192.9,317.3L199.4,318.1L198.1,321.0L199.9,322.1L193.1,324.7L191.0,330.3L193.5,335.3L195.2,337.4L198.9,336.1L199.1,340.0L201.4,340.0L203.7,344.0L203.4,349.2L202.7,352.1L203.8,354.0L202.7,356.6L203.0,357.2L201.1,359.4L198.6,356.9L189.3,351.6L186.4,347.7L184.0,342.9L181.3,337.4L178.7,332.1L177.0,329.2L173.9,326.8L173.5,323.4Z" fill="#f768a1" stroke="#f768a1" stroke-width="2"/><path d="M201.4,340.0L203.7,344.0L203.4,349.2L202.7,352.1L203.8,354.0L202.7,356.6L203.0,357.2L204.5,361.1L205.9,363.8L207.0,367.7L208.1,371.1L209.7,371.1L211.4,368.5L214.5,369.3L216.3,371.1L219.8,369.8L220.4,366.4L221.2,362.7L227.3,361.9L229.5,363.2L230.2,361.1L230.7,359.0L228.7,356.6L228.2,354.0L224.1,353.7L223.2,350.8L223.4,347.4L219.9,346.6L216.5,344.2L213.7,343.7L211.5,341.9L211.0,336.6L208.2,337.1L203.8,340.3L201.4,340.0Z" fill="#fcc5c0" stroke="#fcc5c0" stroke-width="2"/><path d="M219.8,369.8L220.4,366.4L221.2,362.7L227.3,361.9L229.5,363.2L230.9,369.3L235.5,369.8L236.8,374.3L239.4,374.6L239.1,378.5L238.9,381.2L236.9,383.3L230.6,382.7L232.3,378.3L227.6,375.1L224.1,373.8Z" fill="#fcc5c0" stroke="#fcc5c0" stroke-width="2"/><path d="M201.1,359.4L203.0,357.2L204.5,361.1L205.9,363.8L207.0,367.7L208.1,371.1L209.7,371.1L209.8,374.3L207.5,375.6L208.6,382.0L206.1,386.2L206.3,391.2L205.8,394.1L207.9,398.8L209.0,401.5L208.3,404.1L208.8,406.5L207.6,407.8L209.4,412.8L209.0,417.3L210.2,422.0L211.6,425.6L213.4,429.5L214.5,435.5L215.1,439.8L214.6,443.1L217.2,444.2L218.3,446.7L219.4,447.5L226.7,448.2L226.7,449.1L229.1,454.7L231.7,455.7L232.8,457.2L227.1,456.2L222.0,453.7L214.8,448.7L210.0,442.4L207.5,436.0L207.6,430.8L207.4,425.6L204.9,421.2L204.0,415.2L202.8,409.1L203.6,404.6L204.2,398.8L203.0,391.4L202.5,386.2L203.0,379.6L202.4,373.0L202.5,366.4Z" fill="#ae017e" stroke="#ae017e" stroke-width="2"/><path d="M226.7,448.2L219.4,447.5L218.3,446.7L217.2,444.2L214.6,443.1L215.1,439.8L214.5,435.5L213.4,429.5L211.6,425.6L210.2,422.0L209.0,417.3L209.4,412.8L207.6,407.8L208.8,406.5L208.3,404.1L209.0,401.5L207.9,398.8L205.8,394.1L206.3,391.2L206.1,386.2L208.6,382.0L207.5,375.6L209.8,374.3L209.7,371.1L211.4,368.5L214.5,369.3L216.3,371.1L219.8,369.8L224.1,373.8L227.6,375.1L232.3,378.3L230.6,382.7L236.9,383.3L238.9,381.2L239.1,378.5L241.3,380.4L241.4,382.7L237.3,385.9L233.9,390.7L233.6,396.7L233.9,400.4L234.1,401.5L237.2,404.1L237.5,406.5L239.2,408.3L237.9,411.5L235.2,413.1L228.8,413.6L229.3,418.0L223.7,418.6L224.7,422.2L227.6,422.5L226.3,424.0L226.0,428.5L222.6,432.1L227.3,435.2L227.4,437.3L225.1,439.8L223.9,443.1L223.8,444.9ZM226.7,449.1L235.7,454.1L233.4,455.1L229.1,454.7Z" fill="#fcc5c0" stroke="#fcc5c0" stroke-width="2"/><path d="M233.9,400.4L233.6,396.7L233.9,390.7L237.8,392.2L243.2,395.7L244.8,399.9L242.1,403.2L239.2,403.1L235.5,402.0Z" fill="#dd3497" stroke="#dd3497" stroke-width="2"/><path d="M242.4,299.9L244.1,305.7L246.4,308.4L245.0,311.0L249.7,311.5L250.9,312.8L255.5,313.9L259.1,317.6L264.9,318.4L269.5,318.5L273.1,320.8L276.1,323.7L280.6,324.7L281.8,330.0L281.5,334.7L277.0,340.0L273.7,345.3L272.7,350.6L272.6,357.2L271.6,362.7L269.2,369.0L267.1,371.7L261.4,372.2L257.5,374.3L254.0,377.7L252.9,380.9L253.4,385.6L250.8,389.6L248.6,393.3L246.8,395.9L244.8,399.9L243.2,395.7L237.8,392.2L233.9,390.7L237.3,385.9L241.4,382.7L241.3,380.4L239.1,378.5L239.4,374.6L236.8,374.3L235.5,369.8L230.9,369.3L229.5,363.2L230.2,361.1L230.7,359.0L228.7,356.6L228.2,354.0L224.1,353.7L223.2,350.8L223.4,347.4L219.9,346.6L216.5,344.2L213.7,343.7L211.5,341.9L211.0,336.6L208.2,337.1L203.8,340.3L201.4,340.0L199.1,340.0L198.9,336.1L195.2,337.4L193.5,335.3L191.0,330.3L193.1,324.7L199.9,322.1L201.0,313.9L199.6,311.5L201.0,308.1L200.1,306.5L206.8,307.8L210.1,308.9L213.4,306.8L215.0,305.2L213.6,304.4L213.0,300.2L216.5,300.4L219.6,299.7L221.5,297.3L222.9,297.3L224.2,299.1L223.0,300.7L223.4,304.9L225.2,307.6L227.6,307.0L231.1,306.0L232.3,304.9L235.5,304.9L240.0,304.9Z" fill="#dd3497" stroke="#dd3497" stroke-width="2"/><path d="M254.0,114.3L256.9,117.9L269.8,119.1L272.1,120.3L273.8,125.5L272.0,130.5L276.5,133.3L270.0,138.3L269.9,144.8L271.9,151.1L279.0,154.7L280.9,155.2L284.7,151.1L288.8,147.1L296.7,141.5L307.9,135.8L318.4,134.9L326.0,130.9L323.6,126.8L331.1,121.9L333.7,117.3L336.0,113.9L338.1,111.2L346.4,108.8L334.8,107.5L321.7,105.6L319.1,105.3L300.5,106.5L278.7,107.8L264.6,110.8Z" fill="#fff" stroke="#fff" stroke-width="2"/><path d="M319.6,141.7L324.3,139.7L331.2,140.1L334.8,139.4L337.2,141.7L338.6,142.9L336.0,144.5L329.4,146.6L325.9,146.2L322.0,145.7L323.6,144.1L320.2,143.1L323.9,142.0Z" fill="#fff" stroke="#fff" stroke-width="2"/><path d="M342.7,175.6L343.8,173.3L343.1,169.0L346.7,168.3L346.6,166.5L348.5,166.3L348.5,166.9L346.9,168.5L348.4,169.3L350.4,169.3L350.7,171.3L350.4,174.0L346.7,175.3Z" fill="#ae017e" stroke="#ae017e" stroke-width="2"/><path d="M351.2,179.4L355.6,178.9L359.7,177.8L365.3,176.8L364.3,175.8L366.1,172.8L363.3,172.0L362.5,170.5L360.4,168.0L359.6,165.8L357.9,164.5L357.3,163.5L358.9,160.6L356.0,160.3L355.1,160.6L356.9,158.1L353.3,158.1L351.7,160.8L352.1,163.5L351.8,166.0L353.4,165.5L353.2,167.5L356.3,167.3L356.8,169.8L356.6,171.3L353.8,171.3L353.8,172.5L354.5,173.8L352.3,175.1L356.1,176.1L356.7,176.6L354.1,176.8ZM348.5,166.9L350.7,166.4L352.0,168.0L350.4,169.3L348.4,169.3L346.9,168.5Z" fill="#f768a1" stroke="#f768a1" stroke-width="2"/><path d="M358.9,196.7L360.2,193.5L360.4,190.4L358.4,187.3L353.1,184.7L353.5,183.2L359.4,182.9L359.1,180.4L360.5,181.2L363.1,180.9L365.9,178.9L367.7,176.8L368.5,177.8L371.2,179.6L372.4,179.4L374.5,180.9L375.3,180.9L375.7,180.9L379.4,182.2L378.3,185.8L376.9,186.5L375.3,188.4L375.3,189.4L376.8,189.9L377.2,190.2L376.5,192.2L377.4,194.6L378.5,195.6L375.8,197.4L372.8,196.7L369.2,197.2L369.3,199.3L365.9,199.0L364.2,198.2ZM380.9,199.3L382.6,197.7L382.9,200.0L382.3,201.9L381.2,201.1Z" fill="#fa9fb5" stroke="#fa9fb5" stroke-width="2"/><path d="M358.9,196.7L364.2,198.2L365.9,199.0L369.3,199.3L369.5,200.6L367.2,202.1L364.4,203.7L362.1,206.8L363.1,208.9L361.2,211.8L358.6,213.7L357.9,214.2L353.1,214.2L350.5,216.0L348.7,213.9L346.6,212.9L346.4,211.8L347.5,210.3L347.0,206.8L347.9,206.3L348.2,202.9L349.5,201.3L348.7,200.6L345.3,200.3L343.8,200.6L343.8,199.0L343.1,197.7L345.9,195.9L350.5,196.1L354.7,196.4Z" fill="#dd3497" stroke="#dd3497" stroke-width="2"/><path d="M343.8,200.6L345.3,200.3L348.7,200.6L349.5,201.3L348.2,202.9L347.9,206.3L347.0,206.8L347.5,210.3L346.4,211.8L346.6,212.9L343.3,213.4L343.7,209.7L342.2,208.7L343.6,205.0L344.1,202.9Z" fill="#dd3497" stroke="#dd3497" stroke-width="2"/><path d="M367.7,176.8L369.5,176.1L371.3,176.1L372.7,175.8L374.5,176.8L374.2,177.6L375.4,178.4L375.0,179.4L374.5,180.9L372.4,179.4L371.2,179.6L368.5,177.8Z" fill="#7a0177" stroke="#7a0177" stroke-width="2"/><path d="M369.5,176.1L370.7,174.5L372.0,172.0L374.9,170.8L376.9,171.3L376.6,173.5L374.9,174.8L375.1,176.1L374.5,176.8L372.7,175.8L371.3,176.1Z" fill="#ae017e" stroke="#ae017e" stroke-width="2"/><path d="M374.5,180.9L375.0,179.4L375.9,180.1L375.7,180.9L375.3,180.9Z" fill="#fa9fb5" stroke="#fa9fb5" stroke-width="2"/><path d="M376.9,171.3L379.4,170.5L379.8,169.5L379.4,167.3L381.2,167.5L382.2,168.3L384.3,169.5L387.1,168.5L390.6,169.8L391.1,171.3L391.7,173.0L392.0,175.1L392.8,177.1L391.4,177.1L387.9,178.9L387.4,179.4L390.8,182.7L389.4,186.0L387.8,185.8L384.3,186.0L382.4,186.0L380.4,185.5L378.3,185.8L379.4,182.2L375.7,180.9L375.9,180.1L375.0,179.4L375.4,178.4L374.2,177.6L374.5,176.8L375.1,176.1L374.9,174.8L376.6,173.5Z" fill="#fa9fb5" stroke="#fa9fb5" stroke-width="2"/><path d="M375.3,189.4L375.3,188.4L376.9,186.5L378.3,185.8L380.4,185.5L382.4,186.0L382.3,187.1L384.2,187.6L384.0,188.6L382.0,188.9L381.4,190.2L380.1,189.1L379.1,190.2L377.2,190.2L376.8,189.9Z" fill="#f768a1" stroke="#f768a1" stroke-width="2"/><path d="M382.4,186.0L384.3,186.0L387.8,185.8L389.4,186.0L390.8,182.7L393.2,182.2L397.2,182.9L397.7,184.7L396.6,186.0L395.9,187.6L392.7,188.9L391.0,188.6L387.9,187.3L384.2,187.6L382.3,187.1Z" fill="#f768a1" stroke="#f768a1" stroke-width="2"/><path d="M378.5,195.6L377.4,194.6L376.5,192.2L377.2,190.2L379.1,190.2L380.1,189.1L381.4,190.2L382.0,188.9L384.0,188.6L384.2,187.6L387.9,187.3L391.0,188.6L391.0,190.4L391.4,190.9L389.9,190.7L388.3,191.7L388.7,194.6L391.4,196.4L392.8,199.3L396.9,200.6L396.8,201.9L402.4,205.3L402.0,206.1L399.1,204.2L398.4,206.3L399.6,208.2L398.4,209.7L397.6,211.0L396.6,210.8L397.1,208.9L397.4,206.8L396.2,205.3L394.2,203.7L392.6,202.9L390.4,202.1L388.7,200.8L386.2,199.3L384.9,197.7L384.1,195.4L381.1,194.1L379.7,195.4ZM389.6,210.8L391.5,210.3L396.5,210.0L395.6,214.2L393.9,213.7L389.6,211.3ZM380.2,203.2L382.3,202.4L383.7,204.2L383.4,207.6L381.9,208.2L380.8,207.6L380.7,204.7Z" fill="#dd3497" stroke="#dd3497" stroke-width="2"/><path d="M379.4,167.3L378.4,165.5L378.4,162.6L380.8,161.6L382.8,160.3L382.7,163.0L383.7,163.8L382.4,165.0L381.5,166.3L381.2,167.5ZM384.4,165.3L386.8,164.3L387.1,166.0L386.1,167.3L384.3,166.5ZM381.9,165.8L383.7,166.3L383.3,167.0L381.9,166.8Z" fill="#fa9fb5" stroke="#fa9fb5" stroke-width="2"/><path d="M376.0,159.6L373.0,157.6L372.0,153.5L371.8,150.4L374.5,148.5L378.0,146.4L381.4,146.2L382.2,143.4L384.6,140.6L387.7,137.2L389.9,134.7L393.8,132.2L398.6,130.9L404.8,129.2L409.0,129.4L414.4,130.9L413.2,132.5L411.8,133.6L411.8,133.6L408.7,131.6L406.4,132.2L406.4,133.8L401.0,134.5L397.6,133.7L397.6,133.7L396.8,135.1L393.7,134.9L390.4,137.8L388.1,140.4L387.8,142.9L387.1,144.5L384.6,146.2L384.6,149.9L385.9,151.6L385.4,152.6L385.9,154.5L384.7,155.5L384.1,157.2L382.6,156.4L380.6,157.6L378.2,159.4ZM378.7,111.7L383.0,111.2L391.5,110.6L401.7,111.0L397.9,112.6L393.8,113.7L391.4,115.9L388.7,117.7L385.4,116.5L382.9,114.9L379.0,113.7ZM386.6,135.1L389.8,134.0L388.7,135.6Z" fill="#dd3497" stroke="#dd3497" stroke-width="2"/><path d="M384.1,157.2L384.7,155.5L385.9,154.5L385.4,152.6L385.9,151.6L384.6,149.9L384.6,146.2L387.1,144.5L387.8,142.9L388.1,140.4L390.4,137.8L393.7,134.9L396.8,135.1L397.6,133.7L397.6,133.7L403.2,136.3L403.4,138.3L405.0,141.0L401.7,141.5L400.6,143.8L397.8,146.6L394.6,149.5L394.4,152.3L397.5,154.7L398.2,155.5L396.4,157.4L394.4,160.1L394.2,163.0L393.3,164.3L390.4,165.8L387.7,166.0L387.2,164.0L385.4,160.8L383.8,158.4Z" fill="#fa9fb5" stroke="#fa9fb5" stroke-width="2"/><path d="M397.6,133.7L401.0,134.5L406.4,133.8L406.4,132.2L408.7,131.6L411.8,133.6L411.8,133.6L411.3,134.9L414.3,136.7L413.0,138.5L415.6,141.3L415.4,143.4L417.1,144.8L416.5,145.9L419.7,147.8L416.0,151.9L414.2,153.4L410.9,153.8L408.3,154.7L405.5,155.0L402.5,153.5L401.6,150.2L400.9,148.0L403.1,145.9L406.5,143.1L407.6,142.7L405.0,141.0L403.4,138.3L403.2,136.3Z" fill="#f768a1" stroke="#f768a1" stroke-width="2"/><path d="M406.8,156.7L410.9,155.7L415.1,156.1L414.3,157.6L414.8,160.6L413.2,160.8L410.7,159.6L408.8,160.0L409.0,158.9L407.0,157.9Z" fill="#dd3497" stroke="#dd3497" stroke-width="2"/><path d="M403.3,164.3L403.1,162.1L404.0,160.6L405.6,160.2L407.1,162.1L409.1,161.6L408.8,160.0L410.7,159.6L413.2,160.8L414.8,160.6L415.7,161.3L417.0,164.0L414.1,165.3L410.8,163.8L405.2,163.5Z" fill="#fa9fb5" stroke="#fa9fb5" stroke-width="2"/><path d="M403.3,164.3L405.2,163.5L410.8,163.8L414.1,165.3L414.2,166.8L413.0,168.8L410.6,169.8L408.8,169.6L407.3,168.5L407.1,167.3L404.1,166.4Z" fill="#fa9fb5" stroke="#fa9fb5" stroke-width="2"/><path d="M401.0,168.4L401.6,167.1L404.1,166.4L407.1,167.3L407.3,168.5Z" fill="#fcc5c0" stroke="#fcc5c0" stroke-width="2"/><path d="M390.6,169.8L394.4,168.8L398.2,167.5L399.1,168.5L401.0,168.4L407.3,168.5L408.8,169.6L410.1,172.8L408.9,174.0L409.9,175.8L411.2,177.6L408.6,182.0L406.4,181.2L403.4,181.7L401.7,180.9L400.9,180.9L399.1,179.6L396.8,178.6L395.3,178.1L392.8,177.1L392.0,175.1L391.7,173.0L391.1,171.3Z" fill="#dd3497" stroke="#dd3497" stroke-width="2"/><path d="M387.4,179.4L387.9,178.9L391.4,177.1L392.8,177.1L395.3,178.1L396.8,178.6L399.1,179.6L400.9,180.9L399.4,182.4L397.2,182.9L393.2,182.2L390.8,182.7Z" fill="#fa9fb5" stroke="#fa9fb5" stroke-width="2"/><path d="M397.2,182.9L399.4,182.4L400.9,180.9L401.7,180.9L403.4,181.7L406.4,181.2L408.6,182.0L408.1,183.7L404.6,183.5L401.3,185.3L397.7,184.7Z" fill="#fcc5c0" stroke="#fcc5c0" stroke-width="2"/><path d="M395.9,187.6L396.6,186.0L397.7,184.7L401.3,185.3L404.6,183.5L408.1,183.7L409.6,184.7L406.6,189.1L404.8,189.6L401.7,190.2L399.0,190.2L396.8,188.6Z" fill="#fa9fb5" stroke="#fa9fb5" stroke-width="2"/><path d="M391.0,188.6L392.7,188.9L395.9,187.6L396.8,188.6L395.2,189.4L394.6,191.2L391.0,191.2L391.0,190.4Z" fill="#ae017e" stroke="#ae017e" stroke-width="2"/><path d="M391.0,191.2L394.6,191.2L395.2,189.4L396.8,188.6L399.0,190.2L401.7,190.2L402.5,192.0L402.4,192.8L397.9,192.0L395.7,192.0L395.8,193.3L396.7,194.6L399.9,197.7L401.9,199.3L399.7,198.0L396.4,196.4L394.6,194.6L393.8,192.5L392.5,191.7L391.8,193.0L390.8,191.2Z" fill="#fa9fb5" stroke="#fa9fb5" stroke-width="2"/><path d="M395.7,192.0L397.9,192.0L402.4,192.8L403.4,194.6L403.8,196.1L401.9,198.7L399.9,197.7L396.7,194.6L395.8,193.3Z" fill="#fa9fb5" stroke="#fa9fb5" stroke-width="2"/><path d="M401.9,199.0L401.9,198.7L403.8,196.1L405.6,198.2L405.3,198.7L403.9,200.6Z" fill="#fa9fb5" stroke="#fa9fb5" stroke-width="2"/><path d="M402.4,192.8L402.5,192.0L401.7,190.2L404.8,189.6L407.5,192.0L409.8,193.3L410.3,194.6L409.9,196.4L411.3,197.4L410.2,199.5L408.5,199.7L406.5,200.6L405.3,198.7L405.6,198.2L403.8,196.1L403.4,194.6Z" fill="#fcc5c0" stroke="#fcc5c0" stroke-width="2"/><path d="M403.9,200.6L405.3,198.7L406.5,200.6L406.4,202.4L407.6,203.4L407.1,205.3L405.7,206.3L404.3,204.5L404.3,202.1Z" fill="#dd3497" stroke="#dd3497" stroke-width="2"/><path d="M406.5,200.6L408.5,199.7L410.2,199.5L411.7,201.9L411.4,202.7L407.6,203.4L406.4,202.4Z" fill="#fa9fb5" stroke="#fa9fb5" stroke-width="2"/><path d="M405.7,206.3L407.1,205.3L407.6,203.4L411.4,202.7L411.7,201.9L414.9,201.6L418.2,201.1L419.4,202.1L418.3,203.4L414.9,203.2L414.2,204.7L411.7,204.2L411.4,206.8L413.0,208.2L414.9,210.3L414.8,211.6L412.6,211.0L413.2,212.6L412.5,214.7L411.1,214.5L410.0,213.9L408.7,211.3L408.4,210.0L407.4,208.7ZM414.2,217.4L420.4,218.2L417.6,218.9L414.3,218.0ZM423.2,215.0L424.3,215.0L423.5,216.3ZM418.7,207.4L420.1,207.9L419.3,208.4ZM413.0,208.4L415.8,210.3L415.2,210.8ZM405.0,206.1L405.8,206.8L405.6,207.1Z" fill="#f768a1" stroke="#f768a1" stroke-width="2"/><path d="M410.3,194.6L413.2,195.9L416.4,196.0L419.4,194.8L422.9,195.7L421.7,198.2L422.2,200.3L418.2,201.1L414.9,201.6L411.7,201.9L410.2,199.5L411.3,197.4L409.9,196.4Z" fill="#fcc5c0" stroke="#fcc5c0" stroke-width="2"/><path d="M404.8,189.6L406.6,189.1L409.6,184.7L413.8,185.5L417.1,184.1L418.5,185.3L420.7,187.8L421.4,191.3L424.6,192.0L422.9,195.7L419.4,194.8L416.4,196.0L413.2,195.9L410.3,194.6L409.8,193.3L407.5,192.0Z" fill="#fcc5c0" stroke="#fcc5c0" stroke-width="2"/><path d="M417.1,184.1L418.9,183.5L422.4,185.0L425.0,188.9L422.7,189.9L421.4,191.3L420.7,187.8L418.5,185.3Z" fill="#fcc5c0" stroke="#fcc5c0" stroke-width="2"/><path d="M408.1,183.7L408.6,182.0L411.2,177.6L409.9,175.8L412.6,174.8L417.7,175.6L423.8,176.3L426.0,174.3L426.0,174.3L429.8,173.5L431.7,176.6L434.5,178.6L439.6,179.9L444.0,180.6L444.4,185.3L441.4,187.1L438.1,188.1L435.3,189.6L436.7,191.7L438.9,191.5L436.7,192.8L433.3,194.1L430.4,191.5L432.4,189.6L428.5,188.4L426.3,188.9L424.6,192.0L421.4,191.3L422.7,189.9L425.0,188.9L422.4,185.0L418.9,183.5L417.1,184.1L413.8,185.5L409.6,184.7Z" fill="#fcc5c0" stroke="#fcc5c0" stroke-width="2"/><path d="M408.8,169.6L410.6,169.8L413.0,168.8L414.2,166.8L414.1,165.3L417.0,164.0L422.5,165.5L422.7,167.5L427.1,170.8L424.7,171.5L426.0,174.3L423.8,176.3L417.7,175.6L412.6,174.8L409.9,175.8L408.9,174.0L410.1,172.8Z" fill="#f768a1" stroke="#f768a1" stroke-width="2"/><path d="M418.2,201.1L422.2,200.3L424.8,202.4L421.5,203.0L418.9,204.7L418.3,203.4L419.4,202.1ZM419.2,205.5L421.6,204.5L424.8,204.2L425.2,202.5L429.9,202.4L433.9,200.3L437.5,200.3L440.6,202.4L445.0,203.2L451.1,201.6L453.9,201.6L455.6,202.7L456.5,205.3L459.0,206.3L458.3,207.1L458.5,210.8L460.2,212.9L455.0,213.2L451.5,213.2L447.3,214.2L442.7,213.9L442.9,215.5L442.0,216.6L441.7,214.5L438.3,213.9L436.4,215.8L432.9,215.8L429.4,213.9L427.6,215.8L424.2,214.2L422.2,213.4L421.7,211.0L419.6,210.0L420.2,207.4L418.9,206.8Z" fill="#dd3497" stroke="#dd3497" stroke-width="2"/><path d="M433.6,218.7L435.1,217.6L438.5,216.8L437.4,218.7L435.3,219.7Z" fill="#ae017e" stroke="#ae017e" stroke-width="2"/><path d="M418.3,227.6L422.8,228.4L427.4,229.5L430.6,227.9L433.9,228.2L438.9,228.4L440.9,233.2L439.8,237.8L437.3,235.6L435.6,232.0L435.8,233.7L438.6,238.5L443.4,247.7L444.1,248.0L446.9,253.0L419.7,253.0Z" fill="#fa9fb5" stroke="#fa9fb5" stroke-width="2"/><path d="M418.3,227.6L419.7,253.0L419.9,258.2L417.6,258.2L417.7,259.6L399.1,249.1L396.8,250.3L395.1,251.4L389.9,249.0L385.4,246.4L384.0,241.9L385.1,241.1L385.0,236.4L383.9,231.3L385.7,229.5L388.2,225.5L388.3,223.6L391.9,224.2L396.7,225.8L397.7,228.2L399.7,228.7L405.2,231.1L407.3,229.2L407.3,225.8L410.5,224.2L414.2,226.1Z" fill="#dd3497" stroke="#dd3497" stroke-width="2"/><path d="M388.3,223.6L388.2,225.5L385.7,229.5L383.9,231.3L382.7,226.3L381.1,225.3L379.5,223.4L381.0,219.7L380.6,214.7L381.4,213.5L384.1,212.5L386.7,213.3L384.9,214.2L385.9,216.6L386.8,217.1L384.9,220.5L386.8,222.1Z" fill="#dd3497" stroke="#dd3497" stroke-width="2"/><path d="M381.4,213.5L380.6,214.7L381.0,219.7L379.5,223.4L381.1,225.3L382.7,226.3L383.9,231.3L383.9,231.3L385.0,236.4L385.1,241.1L384.0,241.9L385.4,246.4L389.9,249.0L379.8,255.9L376.0,259.7L372.4,260.5L370.3,260.9L370.0,258.8L366.8,257.5L365.4,255.3L351.7,245.1L343.2,239.0L343.2,238.0L343.2,235.3L347.0,233.2L351.5,231.9L354.7,229.5L354.7,227.4L360.0,226.1L358.9,221.8L358.7,219.5L357.9,218.4L360.5,216.8L362.9,216.0L364.9,214.7L369.2,213.7L373.8,213.9L377.7,213.4L378.8,213.2Z" fill="#f768a1" stroke="#f768a1" stroke-width="2"/><path d="M357.9,218.4L358.7,219.5L358.9,221.8L360.0,226.1L354.7,227.4L354.7,229.5L351.5,231.9L347.0,233.2L343.2,235.3L343.2,238.0L333.0,238.0L333.7,237.3L337.8,235.0L339.8,233.5L341.0,230.8L340.8,228.2L342.1,225.3L343.9,223.2L345.9,222.4L347.7,221.2L349.1,218.2L349.8,216.6L351.1,216.3L352.8,218.2L356.1,217.9Z" fill="#dd3497" stroke="#dd3497" stroke-width="2"/><path d="M343.2,238.0L343.2,239.0L343.1,242.4L335.6,242.4L335.4,249.1L333.1,249.1L333.0,254.7L324.0,254.7L323.7,256.1L323.9,254.6L325.6,250.6L326.6,248.2L328.9,244.3L330.2,241.6L332.2,239.8L333.0,238.0Z" fill="#fff" stroke="#fff" stroke-width="2"/><path d="M323.7,256.1L324.0,254.7L333.0,254.7L333.1,249.1L335.4,249.1L335.6,242.4L343.1,242.4L343.2,239.0L351.7,245.1L348.0,245.1L350.0,270.1L341.3,270.1L338.0,270.4L336.2,269.9L334.6,272.0L331.8,268.5L329.3,267.2L324.7,268.5L325.7,263.5L326.0,259.8L324.9,259.6L325.4,257.7Z" fill="#dd3497" stroke="#dd3497" stroke-width="2"/><path d="M334.6,272.0L336.2,269.9L338.0,270.4L341.3,270.1L350.0,270.1L348.0,245.1L351.7,245.1L365.4,255.3L366.8,257.5L370.0,258.8L370.3,260.9L372.4,260.5L372.4,267.7L370.8,270.4L365.7,270.6L363.2,271.6L361.1,271.2L358.1,273.5L356.0,274.1L354.8,276.2L353.0,276.7L352.5,278.6L350.4,280.4L349.9,283.6L348.3,282.8L346.7,284.1L344.2,284.1L343.5,282.0L342.6,280.7L341.6,278.3L338.9,278.8L336.3,278.3L335.0,274.6Z" fill="#fa9fb5" stroke="#fa9fb5" stroke-width="2"/><path d="M324.7,268.5L329.3,267.2L331.8,268.5L334.6,272.0L335.0,274.6L336.3,278.3L334.0,278.3L331.0,277.6L324.1,278.4L323.9,276.4L323.9,275.7L322.3,272.2Z" fill="#f768a1" stroke="#f768a1" stroke-width="2"/><path d="M323.9,275.3L327.8,274.6L330.8,275.3L330.8,276.1L327.6,275.7L323.9,276.3Z" fill="#fa9fb5" stroke="#fa9fb5" stroke-width="2"/><path d="M324.1,278.4L331.0,277.6L331.0,280.1L328.7,280.7L327.7,282.2L325.9,280.1L325.0,279.3Z" fill="#fa9fb5" stroke="#fa9fb5" stroke-width="2"/><path d="M327.7,282.2L328.9,283.3L330.9,285.7L331.8,287.1L333.7,284.9L336.7,284.6L338.1,286.5L338.8,288.6L340.9,288.8L340.9,291.5L342.9,291.1L344.8,288.8L343.7,286.2L344.2,284.1L343.5,282.0L342.6,280.7L341.6,278.3L338.9,278.8L336.3,278.3L334.0,278.3L331.0,277.6L331.0,280.1L328.7,280.7Z" fill="#fa9fb5" stroke="#fa9fb5" stroke-width="2"/><path d="M331.8,287.1L332.0,288.8L333.7,291.5L336.0,292.8L338.1,290.4L338.8,288.6L338.1,286.5L336.7,284.6L333.7,284.9L331.8,287.1Z" fill="#f768a1" stroke="#f768a1" stroke-width="2"/><path d="M336.0,292.8L337.6,294.4L341.1,297.0L345.2,299.5L345.5,295.7L343.4,294.1L342.9,291.1L342.9,291.1L340.9,291.5L340.9,288.8L338.8,288.6L338.1,290.4Z" fill="#fa9fb5" stroke="#fa9fb5" stroke-width="2"/><path d="M345.2,299.5L348.7,298.6L353.4,297.3L355.5,297.5L356.2,296.2L355.3,293.1L356.9,289.4L356.4,285.9L352.7,285.7L351.8,283.6L349.9,283.6L348.3,282.8L346.7,284.1L344.2,284.1L344.2,284.1L343.7,286.2L344.8,288.8L342.9,291.1L343.4,294.1L345.5,295.7L345.2,299.5Z" fill="#fa9fb5" stroke="#fa9fb5" stroke-width="2"/><path d="M355.5,297.5L358.0,298.5L360.4,297.5L362.7,296.2L365.5,294.9L363.9,292.8L364.1,291.2L363.9,288.6L363.6,284.6L362.7,283.0L362.4,281.7L356.2,282.0L356.4,285.9L356.9,289.4L355.3,293.1L356.2,296.2L355.5,297.5Z" fill="#fcc5c0" stroke="#fcc5c0" stroke-width="2"/><path d="M349.9,283.6L350.4,280.4L352.5,278.6L353.0,276.7L354.8,276.2L356.0,274.1L358.1,273.5L361.1,271.2L363.2,271.6L363.6,274.1L365.0,275.7L367.6,277.5L368.3,279.6L365.9,280.9L364.8,282.0L362.4,281.7L356.2,282.0L356.4,285.9L352.7,285.7L351.8,283.6Z" fill="#f768a1" stroke="#f768a1" stroke-width="2"/><path d="M365.5,294.9L363.9,292.8L364.1,291.2L363.9,288.6L363.6,284.6L362.7,283.0L362.4,281.7L364.8,282.0L364.8,282.0L364.6,283.6L365.9,285.9L366.4,287.3L366.4,294.6Z" fill="#fa9fb5" stroke="#fa9fb5" stroke-width="2"/><path d="M366.4,294.6L366.4,287.3L365.9,285.9L364.6,283.6L364.8,282.0L365.9,280.9L368.3,279.6L369.2,278.3L371.0,280.1L371.0,280.1L371.5,283.3L369.9,287.0L369.0,289.9L369.0,294.1Z" fill="#f768a1" stroke="#f768a1" stroke-width="2"/><path d="M394.1,274.9L393.9,272.8L398.4,266.4L398.4,258.5L399.3,257.2L397.0,254.8L396.8,250.3L395.1,251.4L389.9,249.0L379.8,255.9L376.0,259.7L372.4,260.5L372.4,267.7L370.8,270.4L365.7,270.6L363.2,271.6L363.6,274.1L365.0,275.7L367.6,277.5L368.3,279.6L369.2,278.3L371.0,280.1L371.3,278.0L372.2,275.4L375.4,274.3L378.4,276.4L380.7,275.9L384.7,277.2L387.4,275.7L391.6,276.4L394.1,274.9Z" fill="#fa9fb5" stroke="#fa9fb5" stroke-width="2"/><path d="M369.0,294.1L369.0,289.9L369.9,287.0L371.5,283.3L371.0,280.1L371.3,278.0L372.2,275.4L375.4,274.3L378.4,276.4L380.7,275.9L384.7,277.2L387.4,275.7L391.6,276.4L394.1,274.9L395.3,276.6L394.7,281.5L392.6,286.2L391.0,288.8L390.1,292.5L388.5,293.6L386.4,292.8L384.3,294.1L382.7,298.3L379.5,299.4L376.7,299.7L375.3,297.3L373.2,294.4L370.6,294.1Z" fill="#fa9fb5" stroke="#fa9fb5" stroke-width="2"/><path d="M385.5,304.9L389.0,305.2L393.7,305.2L396.5,305.2L400.0,306.5L400.4,305.2L399.7,303.1L397.6,300.7L396.7,297.8L396.4,294.9L398.7,291.2L395.2,285.4L398.6,284.6L397.4,280.7L396.5,277.5L395.3,276.6L394.7,281.5L392.6,286.2L391.0,288.8L390.1,292.5L388.5,293.6L386.4,292.8L384.3,294.1L382.7,298.3L383.4,299.1L384.8,300.7L385.5,303.1Z" fill="#dd3497" stroke="#dd3497" stroke-width="2"/><path d="M394.1,274.9L393.9,272.8L398.4,266.4L398.4,258.5L399.3,257.2L397.0,254.8L396.8,250.3L399.1,249.1L417.7,259.6L418.0,269.6L415.5,269.6L414.7,273.8L413.1,277.5L414.8,278.0L415.8,282.0L413.0,283.0L410.0,287.0L407.0,287.3L405.9,289.6L402.2,291.0L400.8,290.7L398.7,291.2L395.2,285.4L398.6,284.6L397.4,280.7L396.5,277.5L395.3,276.6Z" fill="#fa9fb5" stroke="#fa9fb5" stroke-width="2"/><path d="M419.7,253.0L446.9,253.0L447.7,255.6L448.2,260.9L451.3,263.5L448.7,265.9L447.7,268.0L446.7,271.2L447.0,273.3L446.2,277.5L444.0,279.9L443.6,282.2L442.2,283.0L441.8,285.9L441.3,284.1L439.7,282.8L439.5,278.8L437.0,279.3L435.1,285.2L432.3,283.8L430.0,285.4L424.4,285.9L422.5,283.6L420.2,285.2L417.3,288.1L417.4,284.9L415.8,282.0L414.8,278.0L413.1,277.5L414.7,273.8L415.5,269.6L418.0,269.6L417.7,259.6L417.6,258.2L419.9,258.2Z" fill="#fa9fb5" stroke="#fa9fb5" stroke-width="2"/><path d="M398.7,291.2L400.8,290.7L402.2,291.0L405.9,289.6L407.0,287.3L410.0,287.0L413.0,283.0L415.8,282.0L417.4,284.9L417.3,288.1L418.9,289.1L421.2,290.7L424.1,293.6L426.6,297.7L421.6,297.8L419.5,297.5L416.0,298.3L414.8,300.2L410.6,299.4L407.8,297.5L406.0,299.7L406.0,301.8L403.4,301.5L401.3,301.8L400.4,305.2L399.7,303.1L397.6,300.7L396.7,297.8L396.4,294.9L398.7,291.2Z" fill="#dd3497" stroke="#dd3497" stroke-width="2"/><path d="M441.8,285.9L441.3,284.1L439.7,282.8L439.5,278.8L437.0,279.3L435.1,285.2L432.3,283.8L430.0,285.4L424.4,285.9L422.5,283.6L420.2,285.2L417.3,288.1L418.9,289.1L421.2,290.7L424.1,293.6L426.6,297.7L428.8,299.7L431.4,298.9L434.4,301.8L436.7,301.2L439.5,300.7L441.8,299.9L446.2,298.9L446.2,297.0L444.8,296.8L443.4,293.3L439.4,290.2L441.4,288.8L441.8,285.9Z" fill="#f768a1" stroke="#f768a1" stroke-width="2"/><path d="M451.3,263.5L448.7,265.9L447.7,268.0L446.7,271.2L447.0,273.3L449.5,273.5L451.3,273.0L452.9,272.5L455.3,272.8L457.9,275.4L460.8,278.0L462.4,277.5L460.4,275.1L457.8,272.5L454.9,269.9L453.7,269.9L452.4,266.7Z" fill="#fa9fb5" stroke="#fa9fb5" stroke-width="2"/><path d="M447.0,273.3L449.5,273.5L451.3,273.0L452.9,272.5L455.3,272.8L457.9,275.4L460.8,278.0L459.5,280.4L459.6,282.0L462.1,282.1L463.2,285.7L464.8,287.3L471.9,289.9L474.2,289.9L467.4,297.8L463.9,298.3L460.5,300.2L460.2,300.6L457.7,299.9L454.7,302.0L451.4,301.5L448.6,299.4L446.2,298.9L446.2,297.0L444.8,296.8L443.4,293.3L439.4,290.2L441.4,288.8L441.8,285.9L442.2,283.0L443.6,282.2L444.0,279.9L446.2,277.5L447.0,273.3Z" fill="#dd3497" stroke="#dd3497" stroke-width="2"/><path d="M460.8,278.0L459.5,280.4L459.6,282.0L462.1,282.1L463.0,280.7L462.4,277.5Z" fill="#fa9fb5" stroke="#fa9fb5" stroke-width="2"/><path d="M463.0,280.7L465.9,283.6L471.6,281.5L476.2,281.2L480.3,279.6L481.5,279.9L481.2,283.6L480.6,286.2L478.4,290.7L474.4,297.8L469.8,304.7L465.2,308.4L460.6,313.4L459.6,315.5L458.2,313.4L458.2,303.6L460.2,300.6L460.2,300.6L460.5,300.2L463.9,298.3L467.4,297.8L474.2,289.9L471.9,289.9L464.8,287.3L463.2,285.7L462.1,282.1Z" fill="#fa9fb5" stroke="#fa9fb5" stroke-width="2"/><path d="M459.6,315.5L458.2,313.4L458.2,303.6L460.2,300.6L457.7,299.9L454.7,302.0L451.4,301.5L448.6,299.4L446.2,298.9L441.8,299.9L442.8,301.2L443.0,302.8L444.2,306.5L443.1,308.1L441.9,310.5L441.7,313.6L450.3,318.9L450.5,320.2L453.9,323.4L454.9,321.6L456.3,318.1Z" fill="#dd3497" stroke="#dd3497" stroke-width="2"/><path d="M434.4,301.8L436.7,301.2L439.5,300.7L441.8,299.9L442.8,301.2L443.0,302.8L444.2,306.5L443.1,308.1L441.9,310.5L441.7,313.6L433.8,313.8L431.7,314.7L431.7,312.3L432.4,309.4L433.1,307.8L435.6,305.2L434.4,304.7L434.4,301.8Z" fill="#f768a1" stroke="#f768a1" stroke-width="2"/><path d="M441.7,313.6L450.3,318.9L450.5,320.2L453.9,323.4L452.9,326.8L454.5,329.2L454.0,332.9L455.0,337.4L456.4,338.7L451.9,341.1L449.5,341.9L447.2,341.9L444.9,341.6L443.5,341.6L442.7,337.4L441.6,336.1L439.0,335.8L435.1,333.7L434.2,332.9L431.1,326.8L431.4,322.6L432.8,322.6L434.4,319.7L433.7,317.3L434.4,317.3L433.8,313.8Z" fill="#fcc5c0" stroke="#fcc5c0" stroke-width="2"/><path d="M430.2,318.1L431.7,314.7L433.8,313.8L434.4,317.3L433.7,317.3L432.3,318.4Z" fill="#fa9fb5" stroke="#fa9fb5" stroke-width="2"/><path d="M430.2,318.1L432.3,318.4L433.7,317.3L434.4,319.7L432.8,322.6L431.4,322.6L430.7,319.7Z" fill="#fa9fb5" stroke="#fa9fb5" stroke-width="2"/><path d="M391.3,327.1L393.4,326.4L401.3,326.6L402.0,330.0L403.6,332.4L407.8,332.1L407.8,330.3L410.3,329.5L413.4,330.3L413.5,336.1L414.1,340.5L418.1,339.8L418.3,339.8L419.2,341.1L421.3,340.8L422.9,342.4L425.2,342.7L428.4,344.0L429.7,346.3L431.6,346.5L431.7,343.2L428.5,342.4L428.8,339.2L429.3,336.8L429.8,333.4L434.2,332.9L431.1,326.8L431.4,322.6L430.7,319.7L430.2,318.1L431.7,314.7L431.7,312.3L432.4,309.4L433.1,307.8L435.6,305.2L434.4,304.7L434.4,301.8L431.4,298.9L428.8,299.7L426.6,297.7L421.6,297.8L419.5,297.5L416.0,298.3L414.8,300.2L410.6,299.4L407.8,297.5L406.0,299.7L406.0,301.8L404.6,304.9L404.2,310.2L402.3,313.9L400.4,316.8L400.0,320.2L398.1,322.3L396.4,323.9L393.9,323.9L393.2,323.1L392.5,324.2L391.8,326.0L391.1,326.4Z" fill="#fcc5c0" stroke="#fcc5c0" stroke-width="2"/><path d="M388.5,321.4L390.2,323.1L390.6,324.2L392.5,322.6L393.2,323.1L393.9,323.9L396.4,323.9L398.1,322.3L400.0,320.2L400.4,316.8L402.3,313.9L404.2,310.2L404.6,304.9L406.0,301.8L403.4,301.5L401.3,301.8L400.4,305.2L400.0,306.5L396.5,305.2L393.7,305.2L393.7,307.6L395.8,307.3L396.5,308.6L395.1,311.0L396.5,312.6L396.2,316.0L395.5,317.6L393.0,317.3L389.7,318.4L390.4,320.2L388.5,321.4Z" fill="#fcc5c0" stroke="#fcc5c0" stroke-width="2"/><path d="M388.5,321.4L386.0,318.6L384.4,316.0L383.2,312.8L384.4,310.2L385.1,308.4L389.0,308.4L389.0,305.2L393.7,305.2L393.7,307.6L395.8,307.3L396.5,308.6L395.1,311.0L396.5,312.6L396.2,316.0L395.5,317.6L393.0,317.3L389.7,318.4L390.4,320.2L388.5,321.4Z" fill="#fa9fb5" stroke="#fa9fb5" stroke-width="2"/><path d="M385.1,308.4L389.0,308.4L389.0,305.2L385.5,304.9ZM382.5,301.2L383.4,301.2L383.0,302.6Z" fill="#fa9fb5" stroke="#fa9fb5" stroke-width="2"/><path d="M390.6,324.2L392.5,322.6L393.2,323.1L392.5,324.2L391.8,326.0L391.1,326.4Z" fill="#fcc5c0" stroke="#fcc5c0" stroke-width="2"/><path d="M391.3,327.1L393.8,332.9L393.3,334.2L394.7,339.2L393.7,344.0L391.6,346.6L390.8,351.1L389.9,354.5L389.7,356.5L394.9,356.9L405.0,356.9L410.9,358.3L416.5,357.4L413.4,353.7L413.6,345.3L418.2,345.3L418.3,339.8L418.1,339.8L414.1,340.5L413.5,336.1L413.4,330.3L410.3,329.5L407.8,330.3L407.8,332.1L403.6,332.4L402.0,330.0L401.3,326.6L393.4,326.4L391.3,327.1Z" fill="#fcc5c0" stroke="#fcc5c0" stroke-width="2"/><path d="M416.5,357.4L413.4,353.7L413.6,345.3L418.2,345.3L418.3,339.8L419.2,341.1L421.3,340.8L422.9,342.4L425.2,342.7L428.4,344.0L429.7,346.3L431.6,346.5L431.7,343.2L428.5,342.4L428.8,339.2L429.3,336.8L429.8,333.4L434.2,332.9L435.1,333.7L439.0,335.8L439.9,339.5L439.5,344.0L438.3,346.9L439.4,347.9L432.4,350.0L432.8,352.1L429.5,352.9L429.0,354.5L424.7,358.2L420.8,358.0L418.3,357.2Z" fill="#fa9fb5" stroke="#fa9fb5" stroke-width="2"/><path d="M439.0,335.8L441.6,336.1L442.7,337.4L443.5,341.6L442.7,346.6L445.5,350.3L445.2,353.2L443.9,356.1L441.9,353.7L441.9,349.0L439.4,347.9L438.3,346.9L439.5,344.0L439.9,339.5L439.0,335.8Z" fill="#fa9fb5" stroke="#fa9fb5" stroke-width="2"/><path d="M456.4,338.7L456.6,344.0L456.9,349.2L456.3,351.9L454.1,354.5L450.1,356.6L447.4,358.2L443.6,362.4L442.6,363.5L443.7,369.0L443.4,373.8L437.5,377.5L437.1,379.3L437.0,381.8L435.1,381.8L435.1,379.6L434.9,379.3L435.4,374.3L434.0,370.1L436.7,367.2L438.2,363.2L437.7,360.9L438.6,356.6L438.4,355.0L434.8,353.2L432.8,352.1L432.4,350.0L439.4,347.9L441.9,349.0L441.9,353.7L443.9,356.1L445.2,353.2L445.5,350.3L442.7,346.6L443.5,341.6L444.9,341.6L447.2,341.9L449.5,341.9L451.9,341.1L456.4,338.7Z" fill="#fcc5c0" stroke="#fcc5c0" stroke-width="2"/><path d="M420.8,358.0L424.7,358.2L429.0,354.5L429.5,352.9L432.8,352.1L434.8,353.2L438.4,355.0L438.6,356.6L437.7,360.9L438.2,363.2L436.7,367.2L434.0,370.1L429.6,369.6L426.6,368.0L426.0,365.1L422.7,362.4L420.7,359.8L420.8,358.0Z" fill="#fa9fb5" stroke="#fa9fb5" stroke-width="2"/><path d="M420.8,358.0L420.7,359.8L422.7,362.4L426.0,365.1L426.6,368.0L429.6,369.6L427.2,370.9L424.1,373.2L423.6,375.1L421.5,376.2L420.4,378.8L414.8,377.7L413.8,379.8L411.7,381.7L409.4,381.7L408.1,376.4L408.3,369.0L410.6,369.0L410.9,359.3L416.2,358.5L418.3,358.5L420.8,358.0Z" fill="#fa9fb5" stroke="#fa9fb5" stroke-width="2"/><path d="M389.7,356.5L394.9,356.9L405.0,356.9L410.9,358.3L416.5,357.4L418.3,357.2L420.8,358.0L418.3,358.5L416.2,358.5L410.9,359.3L410.6,369.0L408.3,369.0L408.1,376.4L407.7,385.9L405.8,387.2L401.8,386.7L399.7,386.4L397.2,383.0L396.6,379.6L395.7,371.4L393.3,366.1L390.2,359.8Z" fill="#f768a1" stroke="#f768a1" stroke-width="2"/><path d="M399.7,386.4L401.8,386.7L405.8,387.2L407.7,385.9L408.1,376.4L409.4,381.7L411.7,381.7L413.8,379.8L414.8,377.7L420.4,378.8L421.5,376.2L423.6,375.1L424.1,373.2L427.2,370.9L429.6,369.6L434.0,370.1L435.4,374.3L434.9,379.3L435.1,379.6L435.1,381.8L437.0,381.8L435.9,386.2L432.8,389.6L429.5,393.6L425.4,397.0L422.4,399.4L419.4,400.7L412.3,400.7L406.7,402.8L403.2,401.2L402.6,397.5L403.4,394.4L401.4,390.9Z" fill="#f768a1" stroke="#f768a1" stroke-width="2"/><path d="M432.3,380.4L433.8,378.8L435.1,379.6L435.1,381.8L433.3,383.0L432.4,381.7Z" fill="#f768a1" stroke="#f768a1" stroke-width="2"/><path d="M423.2,389.1L426.9,386.4L428.6,388.5L426.1,391.7L423.9,390.9Z" fill="#fff" stroke="#fff" stroke-width="2"/><path d="M476.8,342.7L479.1,351.6L477.2,355.8L476.1,358.5L471.5,371.7L469.5,376.9L465.0,378.5L462.5,376.9L461.4,369.8L464.3,363.8L463.7,358.5L464.9,353.7L469.4,352.4L473.3,349.5L475.5,345.8Z" fill="#fa9fb5" stroke="#fa9fb5" stroke-width="2"/><path d="M306.6,266.4L307.5,266.2L307.2,267.2ZM308.1,270.6L308.7,271.2L308.0,271.7ZM309.9,268.3L310.4,268.3L310.2,268.9ZM377.8,309.9L378.4,310.2L378.0,310.9ZM462.8,341.1L463.4,341.9L462.9,342.4ZM494.0,364.0L494.9,364.3L494.2,365.1ZM489.1,366.1L490.2,366.7L489.2,367.2Z" fill="#fcc5c0" stroke="#fcc5c0" stroke-width="2"/><path d="M413.2,132.5L418.3,132.9L423.6,133.6L433.7,137.2L433.4,139.9L429.2,140.4L420.9,139.0L424.6,144.1L428.9,145.5L430.3,144.1L434.7,143.8L433.1,141.5L435.9,139.4L439.9,140.1L437.7,134.9L441.6,136.3L443.4,138.5L446.1,136.7L453.1,135.1L454.3,134.0L462.8,134.0L464.2,132.0L470.8,133.1L479.7,135.4L475.6,132.7L473.5,129.4L474.0,125.1L479.9,125.5L483.4,129.4L484.7,133.8L488.7,139.0L491.1,137.2L488.1,133.8L486.0,128.3L483.1,125.5L488.8,126.6L491.6,124.0L499.9,123.4L499.2,120.9L509.3,118.7L519.1,115.5L526.0,117.3L537.3,118.9L537.7,123.0L543.0,123.4L552.2,123.8L559.7,124.0L568.8,126.1L576.9,129.4L581.1,128.1L589.9,126.1L609.3,128.3L614.4,129.6L631.6,132.2L643.3,132.2L648.2,131.6L652.4,133.8L662.9,132.9L668.0,134.0L681.3,142.9L678.7,144.3L688.7,149.0L682.7,150.4L680.0,152.6L679.6,154.7L670.7,154.0L668.2,155.0L672.2,159.6L670.3,160.1L677.2,164.5L678.2,167.5L678.6,171.5L677.3,173.3L677.3,177.1L672.0,173.3L663.7,164.5L660.8,160.1L660.4,154.7L662.0,150.7L660.5,148.8L656.5,150.7L649.7,151.1L650.7,155.2L648.2,157.2L640.6,156.2L630.5,156.4L629.5,160.1L627.8,163.3L626.2,167.5L632.4,169.5L641.7,171.5L643.7,175.8L646.8,179.6L649.3,183.5L648.8,187.8L647.5,193.8L644.4,198.2L641.1,196.9L639.9,199.5L639.9,199.5L639.7,197.7L637.2,193.0L640.5,192.2L639.1,187.3L638.9,183.7L634.8,185.5L631.5,185.5L628.6,182.4L620.9,180.1L612.6,173.0L605.9,170.8L601.2,171.3L600.4,172.5L603.3,179.6L601.7,180.9L599.0,180.1L599.0,180.1L593.9,179.1L590.1,181.2L583.2,181.4L578.8,179.1L570.5,178.9L567.5,176.1L559.6,174.3L560.6,179.9L553.7,179.4L548.7,177.6L544.7,179.6L540.5,181.9L540.5,181.9L535.7,180.6L530.3,177.1L523.6,177.6L516.4,171.3L512.6,169.3L508.3,170.5L506.6,169.3L502.1,169.0L500.3,166.3L496.5,166.0L490.2,168.5L484.3,169.5L482.8,169.8L482.3,174.5L486.1,176.3L480.3,176.8L473.2,177.3L466.6,175.6L464.2,175.3L460.6,178.1L457.6,179.1L458.3,183.5L459.8,185.3L463.0,188.4L464.6,189.1L461.6,191.2L460.5,193.8L463.1,197.7L465.8,200.7L464.7,202.4L461.3,200.6L459.1,199.0L456.9,198.5L455.5,198.7L452.4,197.2L450.3,197.2L447.0,196.7L443.4,194.3L440.9,193.3L439.4,191.7L440.9,188.4L443.7,187.1L441.4,187.1L444.4,185.3L444.0,180.6L439.6,179.9L434.5,178.6L431.7,176.6L429.8,173.5L426.0,174.3L424.7,171.5L427.1,170.8L422.7,167.5L422.5,165.5L417.0,164.0L415.7,161.3L414.8,160.6L414.3,157.6L415.1,156.1L415.8,155.0L418.9,155.0L415.5,153.5L414.2,153.4L416.0,151.9L419.7,147.8L416.5,145.9L417.1,144.8L415.4,143.4L415.6,141.3L413.0,138.5L414.3,136.7L411.3,134.9L411.8,133.6ZM641.0,168.8L645.5,172.0L649.1,175.8L655.3,181.4L656.3,186.0L659.1,187.8L659.9,189.6L657.4,189.9L653.8,184.7L649.9,179.6L645.3,174.5ZM447.4,128.3L450.6,129.8L457.3,130.0L452.8,126.1L453.4,123.0L456.1,119.9L462.4,117.9L467.1,117.1L463.1,116.9L456.5,118.3L450.2,120.3L449.2,124.0L447.6,127.2ZM502.0,112.6L500.8,109.4L514.7,112.2L511.8,114.5ZM511.1,115.1L518.3,113.7L518.6,115.1ZM576.0,119.9L580.2,118.7L588.5,119.9L597.3,120.5L592.4,121.3L582.9,121.3ZM586.6,123.8L592.5,124.0L591.4,124.9ZM430.3,110.5L436.9,109.6L442.7,109.8L435.0,111.0ZM443.9,109.4L451.7,108.6L455.6,109.8L449.1,110.6ZM444.5,132.9L447.2,133.3L446.8,134.2L445.0,134.0ZM656.1,128.3L659.0,128.5L660.8,129.6L658.6,129.6ZM44.0,141.0L46.0,138.5L50.0,136.5L54.0,134.5L58.0,134.0L59.0,136.0L60.5,138.5L64.0,139.0L64.5,141.0L62.0,142.0L58.0,142.0L55.0,143.5L51.0,144.5L47.0,143.5ZM63.5,129.5L66.0,128.5L69.0,128.2L69.0,129.5L65.0,130.5Z" fill="#fcc5c0" stroke="#fcc5c0" stroke-width="2"/><path d="M540.5,181.9L544.7,179.6L548.7,177.6L553.7,179.4L560.6,179.9L559.6,174.3L567.5,176.1L570.5,178.9L578.8,179.1L583.2,181.4L590.1,181.2L593.9,179.1L599.0,180.1L599.0,180.1L599.8,185.0L604.7,185.0L610.1,188.1L604.9,188.9L603.3,191.5L596.2,192.5L598.2,195.9L594.7,199.0L586.3,201.3L576.6,198.7L566.7,198.5L562.7,194.3L552.5,192.0L550.3,187.6L543.9,184.2L540.5,181.9Z" fill="#fcc5c0" stroke="#fcc5c0" stroke-width="2"/><path d="M629.8,205.5L625.8,207.9L622.5,203.4L619.6,206.1L616.7,208.2L619.6,210.8L622.7,212.9L629.0,212.4L626.7,214.5L624.5,218.2L630.1,224.0L633.8,227.4L634.6,229.5L632.0,231.1L635.8,232.4L635.9,236.6L633.8,243.7L630.8,246.6L628.2,249.5L623.2,251.9L621.5,252.4L617.6,254.0L614.8,254.8L614.8,257.5L613.4,254.6L609.4,254.2L606.8,253.2L605.6,250.6L602.3,249.5L599.4,251.4L595.5,251.8L595.0,255.1L593.6,254.2L590.9,254.0L588.9,252.7L589.2,250.1L586.9,247.7L584.5,248.0L586.0,242.7L584.8,238.2L581.6,236.5L578.5,233.5L575.7,234.0L572.7,235.3L569.8,237.7L568.8,237.1L566.3,236.9L564.2,236.6L563.1,239.0L562.5,237.0L561.0,237.4L557.3,237.1L554.1,235.6L551.7,234.8L545.9,231.1L543.8,231.3L539.3,229.2L537.9,227.9L536.6,225.3L538.4,224.7L537.1,222.9L536.2,220.3L533.2,217.4L528.9,216.0L526.0,213.4L525.6,212.8L524.9,209.5L521.4,207.0L521.5,205.3L525.6,204.5L529.7,202.7L532.9,199.8L532.4,197.7L531.4,194.6L534.8,192.0L534.0,191.2L533.7,186.8L539.0,187.1L537.9,183.7L540.5,181.9L543.9,184.2L550.3,187.6L552.5,192.0L562.7,194.3L566.7,198.5L576.6,198.7L586.3,201.3L594.7,199.0L598.2,195.9L596.2,192.5L603.3,191.5L604.9,188.9L610.1,188.1L604.7,185.0L599.8,185.0L599.0,180.1L601.7,180.9L603.3,179.6L600.4,172.5L601.2,171.3L605.9,170.8L612.6,173.0L620.9,180.1L628.6,182.4L631.5,185.5L634.8,185.5L638.9,183.7L639.1,187.3L640.5,192.2L637.2,193.0L639.7,197.7L639.9,199.5L639.9,199.5L639.6,199.3L637.9,198.0L637.7,199.3L634.9,200.3L632.6,200.8L632.0,203.2L629.8,205.5ZM611.8,260.4L613.3,258.2L616.5,258.2L616.9,259.3L615.1,262.5L612.9,262.7Z" fill="#ae017e" stroke="#ae017e" stroke-width="2"/><path d="M637.0,245.1L639.1,245.1L639.0,249.0L638.5,253.2L636.1,250.3L636.3,247.7Z" fill="#f768a1" stroke="#f768a1" stroke-width="2"/><path d="M629.8,205.5L632.0,203.2L632.6,200.8L634.9,200.3L637.7,199.3L637.9,198.0L639.6,199.3L639.9,199.5L639.8,202.9L639.9,204.2L637.0,206.1L637.4,207.6L640.3,209.2L637.7,210.0L636.4,211.4L634.3,211.0L632.7,209.2L632.1,206.6Z" fill="#dd3497" stroke="#dd3497" stroke-width="2"/><path d="M641.2,220.3L643.0,219.2L646.3,218.2L645.0,214.5L640.3,209.2L637.7,210.0L636.4,211.4L638.4,213.4L639.2,216.0L640.3,218.2ZM641.5,222.6L643.1,222.6L642.8,223.4Z" fill="#7a0177" stroke="#7a0177" stroke-width="2"/><path d="M661.4,201.6L658.7,198.7L660.9,197.2L657.7,191.5L662.2,193.8L667.6,194.6L669.8,196.9L667.2,200.3L661.5,199.0ZM662.9,201.6L664.1,201.9L668.2,206.6L668.0,210.0L669.8,213.4L671.3,216.8L670.1,218.9L667.9,219.5L664.1,219.7L664.2,220.5L662.8,222.6L660.3,220.5L657.5,219.7L654.6,220.5L651.6,221.3L651.2,220.0L653.6,217.4L657.4,217.1L660.6,216.8L660.0,212.6L662.0,213.9L663.8,212.4L664.7,210.0L663.6,206.1L662.2,203.7L662.1,202.4ZM655.0,221.6L658.3,220.5L660.0,221.8L659.5,223.2L657.3,224.5L655.4,222.9ZM649.5,222.6L651.7,221.6L654.5,223.4L655.3,228.2L654.0,229.0L651.7,225.8L649.8,224.0ZM651.4,241.9L652.3,240.3L651.9,241.1Z" fill="#7a0177" stroke="#7a0177" stroke-width="2"/><path d="M464.6,189.1L463.0,188.4L459.8,185.3L458.3,183.5L457.6,179.1L460.6,178.1L464.2,175.3L466.6,175.6L473.2,177.3L480.3,176.8L486.1,176.3L482.3,174.5L482.8,169.8L484.3,169.5L490.2,168.5L496.5,166.0L500.3,166.3L502.1,169.0L506.6,169.3L508.3,170.5L512.6,169.3L516.4,171.3L523.6,177.6L530.3,177.1L535.7,180.6L540.5,181.9L540.5,181.9L537.9,183.7L539.0,187.1L533.7,186.8L534.0,191.2L534.8,192.0L531.4,194.6L532.4,197.7L532.9,199.8L532.9,199.8L529.8,198.2L523.4,198.0L519.9,197.2L518.4,199.0L513.1,198.7L513.3,199.5L513.3,199.5L512.2,201.3L508.5,204.0L505.0,202.4L502.6,199.3L502.4,197.7L499.3,195.9L493.3,196.4L490.5,194.1L484.4,190.9L479.6,192.5L482.1,202.1L478.9,200.3L474.2,201.0L473.7,198.2L470.3,195.1L468.0,193.5L469.6,191.7L473.2,191.7L472.5,187.6L468.3,187.3Z" fill="#fcc5c0" stroke="#fcc5c0" stroke-width="2"/><path d="M479.6,192.5L484.4,190.9L490.5,194.1L493.3,196.4L499.3,195.9L502.4,197.7L502.6,199.3L505.0,202.4L508.5,204.0L512.2,201.3L513.3,199.5L518.8,203.4L514.1,205.0L510.7,205.0L509.9,206.8L508.4,206.6L510.9,210.3L510.2,212.9L507.3,212.5L507.1,210.8L501.2,208.2L496.7,205.5L494.9,202.7L490.8,201.9L490.0,199.8L486.7,198.5L485.4,199.8L483.7,200.6L484.3,202.1L482.1,202.1Z" fill="#fa9fb5" stroke="#fa9fb5" stroke-width="2"/><path d="M474.2,201.0L478.9,200.3L482.1,202.1L482.1,202.1L484.3,202.1L483.7,200.6L485.4,199.8L486.7,198.5L490.0,199.8L490.8,201.9L494.9,202.7L496.7,205.5L501.2,208.2L507.1,210.8L507.3,212.5L503.8,213.2L503.6,215.3L500.8,216.6L499.4,217.9L496.8,217.1L496.0,214.5L494.3,214.5L491.6,212.1L486.8,210.3L484.7,210.5L481.8,212.4L479.9,212.5L478.8,208.2L477.1,207.1L475.6,204.2L475.9,202.9Z" fill="#fcc5c0" stroke="#fcc5c0" stroke-width="2"/><path d="M513.3,199.5L513.1,198.7L518.4,199.0L519.9,197.2L523.4,198.0L529.8,198.2L532.9,199.8L532.9,199.8L529.7,202.7L525.6,204.5L521.5,205.3L521.4,207.0L517.3,207.1L514.4,206.6L511.7,206.1L510.7,205.0L514.1,205.0L518.8,203.4Z" fill="#fcc5c0" stroke="#fcc5c0" stroke-width="2"/><path d="M510.2,212.9L510.9,210.3L508.4,206.6L509.9,206.8L510.7,205.0L511.7,206.1L514.4,206.6L517.3,207.1L521.4,207.0L524.9,209.5L525.6,212.8L522.0,212.2L519.1,214.2L517.8,211.0L516.1,209.7L513.6,213.2Z" fill="#fcc5c0" stroke="#fcc5c0" stroke-width="2"/><path d="M496.8,217.1L499.4,217.9L500.8,216.6L503.6,215.3L503.8,213.2L507.3,212.5L510.2,212.9L513.6,213.2L516.1,209.7L517.8,211.0L519.1,214.2L522.0,212.2L525.6,212.8L524.0,213.9L519.1,215.0L519.4,221.1L518.2,223.2L516.7,226.9L514.3,227.1L510.8,229.5L511.0,232.1L502.8,233.5L499.0,232.3L500.4,229.8L500.3,228.2L498.1,227.9L496.8,223.7L497.0,220.0L496.8,217.1Z" fill="#fa9fb5" stroke="#fa9fb5" stroke-width="2"/><path d="M459.0,206.3L460.7,208.2L462.2,208.4L463.1,208.4L465.9,206.3L468.5,209.7L471.4,212.4L475.0,214.2L480.1,213.4L479.9,212.5L481.8,212.4L484.7,210.5L486.8,210.3L491.6,212.1L494.3,214.5L496.0,214.5L496.8,217.1L497.0,220.0L496.8,223.7L498.1,227.9L500.3,228.2L500.4,229.8L499.0,232.3L501.7,235.6L503.9,236.6L504.3,239.3L505.7,240.8L502.4,241.9L502.3,244.5L496.3,244.0L492.4,242.9L490.8,239.5L486.5,241.1L483.3,240.6L481.2,238.7L478.4,237.4L476.7,234.8L474.5,231.3L471.9,230.8L471.3,232.0L469.7,229.2L468.7,226.9L467.6,225.3L464.8,224.0L462.8,221.3L464.1,216.6L462.0,216.0L460.2,212.9L458.5,210.8L458.3,207.1Z" fill="#f768a1" stroke="#f768a1" stroke-width="2"/><path d="M455.0,213.2L460.2,212.9L460.2,212.9L462.0,216.0L464.1,216.6L462.8,221.3L464.8,224.0L467.6,225.3L468.7,226.9L469.7,229.2L471.3,232.0L469.8,231.9L469.4,231.6L467.0,234.2L462.9,234.0L456.5,229.0L452.5,226.9L449.7,226.2L448.5,222.9L453.0,220.3L453.0,217.1L453.1,214.7Z" fill="#ae017e" stroke="#ae017e" stroke-width="2"/><path d="M442.0,216.6L442.9,215.5L442.7,213.9L447.3,214.2L451.5,213.2L455.0,213.2L453.1,214.7L453.0,217.1L453.0,220.3L448.5,222.9L444.4,225.8L441.8,224.7L441.4,223.3L442.1,222.9L443.4,220.8L442.8,219.7L441.8,219.6L441.4,217.6Z" fill="#f768a1" stroke="#f768a1" stroke-width="2"/><path d="M440.4,223.7L441.8,219.6L442.8,219.7L443.4,220.8L442.1,222.9L441.4,223.3Z" fill="#7a0177" stroke="#7a0177" stroke-width="2"/><path d="M438.9,228.4L440.9,233.2L441.7,228.2L441.6,225.5L441.8,224.7L441.4,223.3L440.4,223.7L440.1,225.3Z" fill="#ae017e" stroke="#ae017e" stroke-width="2"/><path d="M441.0,233.6L443.6,234.0L446.6,231.9L447.6,230.6L445.1,227.9L449.4,226.6L449.7,226.2L448.5,222.9L444.4,225.8L441.8,224.7L441.6,225.5L441.7,228.2L440.9,233.2Z" fill="#7a0177" stroke="#7a0177" stroke-width="2"/><path d="M441.0,233.6L443.6,234.0L446.6,231.9L447.6,230.6L445.1,227.9L449.4,226.6L449.7,226.2L449.7,226.2L452.5,226.9L456.5,229.0L462.9,234.0L467.0,234.2L469.2,234.5L469.9,235.8L471.5,235.8L473.1,238.2L475.8,240.6L476.3,243.2L477.9,245.7L478.9,246.1L479.9,247.0L479.9,247.4L482.5,250.6L488.4,251.1L489.7,253.0L488.6,258.2L481.9,260.9L475.3,261.9L473.3,263.0L471.9,265.9L470.1,265.4L465.0,265.1L462.4,264.8L461.2,267.7L460.6,266.4L455.5,259.6L452.2,254.3L449.1,247.4L445.1,241.9L443.2,238.9L440.6,237.1Z" fill="#7a0177" stroke="#7a0177" stroke-width="2"/><path d="M461.2,267.7L462.4,264.8L465.0,265.1L470.1,265.4L471.9,265.9L473.3,263.0L475.3,261.9L481.9,260.9L484.9,267.1L483.0,269.9L476.0,272.8L475.2,274.1L470.6,275.7L466.8,277.4L463.3,277.6L462.6,275.9L461.7,272.0ZM486.2,277.5L488.8,277.9L487.0,278.6Z" fill="#f768a1" stroke="#f768a1" stroke-width="2"/><path d="M484.9,267.1L481.9,260.9L488.6,258.2L489.7,253.0L488.4,251.1L489.4,247.2L490.6,245.2L495.9,248.8L499.0,251.7L497.2,257.2L495.2,260.9L495.0,261.1L492.0,263.8L489.2,266.2ZM489.6,242.2L490.4,241.6L490.2,243.5Z" fill="#f768a1" stroke="#f768a1" stroke-width="2"/><path d="M479.9,247.0L479.9,247.4L482.5,250.6L488.4,251.1L489.4,247.2L490.6,245.2L490.2,243.5L489.6,242.3L489.2,243.2L486.4,246.5L485.3,247.2L482.2,247.2Z" fill="#f768a1" stroke="#f768a1" stroke-width="2"/><path d="M477.9,245.7L478.9,246.1L479.6,244.3L478.7,242.2L477.7,243.7Z" fill="#fff" stroke="#fff" stroke-width="2"/><path d="M467.0,234.2L469.2,234.5L469.9,235.8L471.5,235.8L470.3,233.5L469.8,231.9L469.4,231.6Z" fill="#f768a1" stroke="#f768a1" stroke-width="2"/><path d="M447.0,196.7L450.3,197.2L452.4,197.2L455.5,198.7L456.9,198.5L459.1,199.0L461.3,200.6L462.0,202.7L458.7,202.1L455.6,202.7L453.9,201.6L451.1,201.6L451.3,200.0L450.3,198.5Z" fill="#fa9fb5" stroke="#fa9fb5" stroke-width="2"/><path d="M455.6,202.7L458.7,202.1L460.4,204.5L462.8,206.8L463.1,208.4L462.2,208.4L461.3,207.1L459.0,206.3L456.5,205.3Z" fill="#fa9fb5" stroke="#fa9fb5" stroke-width="2"/><path d="M458.7,202.1L462.0,202.7L461.3,200.6L464.7,202.4L465.8,200.7L467.8,202.9L470.5,204.5L469.1,207.1L468.5,209.7L465.9,206.3L463.1,208.4L462.8,206.8L460.4,204.5ZM459.0,206.3L461.3,207.1L462.2,208.4L460.7,208.2Z" fill="#fa9fb5" stroke="#fa9fb5" stroke-width="2"/><path d="M502.3,244.5L508.9,244.5L513.3,244.0L514.7,245.6L517.7,248.5L518.9,246.9L523.9,246.6L521.6,243.2L521.1,241.1L519.5,239.8L521.1,237.1L524.4,236.9L526.9,232.1L528.8,229.2L528.5,226.9L530.0,225.8L526.4,223.4L525.3,220.5L527.7,219.7L531.8,218.7L533.2,217.4L528.9,216.0L526.0,213.4L525.6,212.8L524.0,213.9L519.1,215.0L519.4,221.1L518.2,223.2L516.7,226.9L514.3,227.1L510.8,229.5L511.0,232.1L502.8,233.5L499.0,232.3L501.7,235.6L503.9,236.6L504.3,239.3L505.7,240.8L502.4,241.9L502.3,244.5Z" fill="#dd3497" stroke="#dd3497" stroke-width="2"/><path d="M517.7,248.5L518.6,249.8L520.5,252.4L523.6,256.1L525.0,256.4L527.6,255.3L528.0,252.4L529.0,255.6L529.6,260.9L531.3,266.2L534.7,272.8L535.7,277.0L539.7,284.9L542.8,289.7L544.2,287.5L546.3,286.5L547.7,283.8L547.7,279.9L548.4,276.4L547.6,270.1L549.9,268.0L552.1,267.2L554.1,264.3L557.4,259.8L560.6,257.7L561.3,254.3L563.8,254.0L566.0,253.5L564.1,247.2L562.5,245.3L562.4,241.4L565.8,242.4L566.1,244.3L572.2,245.1L569.9,247.4L570.7,250.1L572.7,249.8L573.9,253.0L575.1,252.2L575.0,248.5L576.5,248.0L577.2,244.3L577.7,240.8L579.6,239.3L581.7,239.5L581.6,236.5L578.5,233.5L575.7,234.0L572.7,235.3L569.8,237.7L570.6,240.2L565.5,240.6L563.1,239.0L562.5,237.0L561.0,237.4L561.8,241.4L556.5,240.8L552.5,238.7L550.5,238.9L546.8,237.4L542.5,235.0L543.8,231.3L539.3,229.2L537.9,227.9L536.6,225.3L538.4,224.7L537.1,222.9L536.2,220.3L533.2,217.4L531.8,218.7L527.7,219.7L525.3,220.5L526.4,223.4L530.0,225.8L528.5,226.9L528.8,229.2L526.9,232.1L524.4,236.9L521.1,237.1L519.5,239.8L521.1,241.1L521.6,243.2L523.9,246.6L518.9,246.9L517.7,248.5Z" fill="#dd3497" stroke="#dd3497" stroke-width="2"/><path d="M566.0,253.5L564.1,247.2L562.5,245.3L562.4,241.4L565.8,242.4L566.1,244.3L572.2,245.1L569.9,247.4L570.7,250.1L572.7,249.8L573.9,253.0L573.7,256.4L572.0,252.2L568.9,251.7Z" fill="#dd3497" stroke="#dd3497" stroke-width="2"/><path d="M542.5,235.0L543.8,231.3L545.9,231.1L551.7,234.8L554.1,235.6L557.3,237.1L561.0,237.4L561.8,241.4L556.5,240.8L552.5,238.7L550.5,238.9L546.8,237.4Z" fill="#dd3497" stroke="#dd3497" stroke-width="2"/><path d="M563.1,239.0L564.2,236.6L566.3,236.9L568.8,237.1L569.8,237.7L570.6,240.2L565.5,240.6Z" fill="#f768a1" stroke="#f768a1" stroke-width="2"/><path d="M548.7,285.2L551.3,288.6L553.0,292.0L551.5,294.6L549.2,295.2L547.9,291.2L548.2,288.6Z" fill="#fa9fb5" stroke="#fa9fb5" stroke-width="2"/><path d="M573.7,256.4L576.9,259.6L579.2,263.5L579.9,268.8L582.5,269.3L585.5,267.2L587.4,267.5L588.1,271.4L589.6,275.4L591.0,279.3L591.4,284.6L592.1,282.5L592.5,280.7L592.0,277.8L591.9,274.9L589.2,271.4L590.0,268.0L586.2,262.2L587.1,259.0L590.3,257.3L591.6,257.3L593.6,254.2L590.9,254.0L588.9,252.7L589.2,250.1L586.9,247.7L584.5,248.0L586.0,242.7L584.8,238.2L581.6,236.5L581.6,236.5L581.7,239.5L579.6,239.3L577.7,240.8L577.2,244.3L576.5,248.0L575.0,248.5L575.1,252.2L573.9,253.0Z" fill="#fa9fb5" stroke="#fa9fb5" stroke-width="2"/><path d="M591.4,284.6L590.7,288.6L591.1,290.2L593.5,292.5L595.4,294.0L595.9,293.3L597.9,296.0L600.1,294.5L597.5,292.8L596.0,291.7L594.9,288.3L593.1,286.5L592.7,283.6L593.3,279.9L594.0,277.0L593.8,275.7L595.9,275.7L596.4,277.8L599.5,278.8L601.0,280.3L599.8,277.5L599.3,275.1L600.5,273.3L603.9,273.0L605.6,273.1L606.1,270.1L604.0,267.7L603.6,265.1L601.2,262.7L599.2,263.5L597.1,263.0L595.0,264.8L594.7,259.6L592.9,259.6L592.8,257.7L591.6,257.3L591.6,257.3L590.3,257.3L587.1,259.0L586.2,262.2L590.0,268.0L589.2,271.4L591.9,274.9L592.0,277.8L592.5,280.7L592.1,282.5L591.4,284.6Z" fill="#dd3497" stroke="#dd3497" stroke-width="2"/><path d="M591.6,257.3L593.6,254.2L595.0,255.1L595.5,251.8L598.0,255.3L601.6,256.9L600.9,259.6L604.0,261.9L607.9,266.4L610.4,269.1L610.9,272.2L607.4,273.0L605.6,273.1L606.1,270.1L604.0,267.7L603.6,265.1L601.2,262.7L599.2,263.5L597.1,263.0L595.0,264.8L594.7,259.6L592.9,259.6L592.8,257.7L591.6,257.3Z" fill="#f768a1" stroke="#f768a1" stroke-width="2"/><path d="M609.4,254.2L606.8,253.2L605.6,250.6L602.3,249.5L599.4,251.4L595.5,251.8L598.0,255.3L601.6,256.9L600.9,259.6L604.0,261.9L607.9,266.4L610.4,269.1L610.9,272.2L611.4,278.3L609.1,279.9L608.1,282.0L606.3,282.2L604.9,283.6L606.2,284.9L606.0,288.3L610.3,285.7L610.3,283.6L612.8,282.8L615.6,280.4L615.7,277.2L615.0,274.6L613.8,270.6L611.9,268.5L608.7,265.6L607.3,263.8L605.0,260.9L605.3,258.2L606.6,256.4L608.4,255.1Z" fill="#dd3497" stroke="#dd3497" stroke-width="2"/><path d="M601.0,280.3L599.8,277.5L599.3,275.1L600.5,273.3L603.9,273.0L605.6,273.1L607.4,273.0L610.9,272.2L611.4,278.3L609.1,279.9L608.1,282.0L606.3,282.2L604.9,283.6L602.9,283.0L601.6,282.0Z" fill="#f768a1" stroke="#f768a1" stroke-width="2"/><path d="M595.4,294.0L595.9,293.3L597.9,296.0L600.1,294.5L603.3,298.3L603.7,303.6L605.5,307.3L603.8,307.6L600.3,304.9L598.6,303.4L596.9,299.9L596.0,296.5ZM618.0,306.0L621.3,307.0L622.2,304.4L625.8,302.6L628.0,298.9L629.2,300.2L630.6,299.7L631.0,297.8L631.2,296.8L634.2,292.5L636.4,294.4L640.0,297.0L638.0,299.7L636.4,299.9L631.8,299.9L631.9,303.1L629.7,307.0L626.0,307.3L623.2,308.6L620.2,308.8Z" fill="#fcc5c0" stroke="#fcc5c0" stroke-width="2"/><path d="M628.2,298.9L631.0,297.8L630.6,299.7L629.2,300.2Z" fill="#7a0177" stroke="#7a0177" stroke-width="2"/><path d="M584.4,296.2L589.5,297.3L596.5,303.9L603.6,309.4L604.5,313.6L609.5,318.9L608.8,326.3L606.0,326.6L600.8,321.6L596.6,313.6L592.6,306.5L588.5,301.8ZM607.2,328.9L609.5,326.6L614.9,328.4L620.3,327.9L624.7,329.2L628.7,331.3L628.3,333.9L620.5,332.9L613.6,331.6L609.9,330.5ZM628.6,332.4L631.4,332.9L630.1,334.2ZM632.1,332.9L633.7,333.2L632.9,334.5ZM633.9,333.2L639.3,332.9L638.7,334.2L634.3,334.7ZM640.9,333.2L648.1,332.6L647.8,333.9L641.3,334.5ZM638.8,335.8L642.9,337.1L641.4,338.2L638.7,336.8ZM649.1,338.2L650.9,335.5L652.8,335.0L652.5,336.6L650.2,338.2ZM618.0,306.0L616.7,310.2L617.4,313.4L619.3,318.6L622.8,320.2L629.2,321.8L632.8,320.5L634.1,316.3L636.5,308.9L640.0,308.4L637.0,303.9L636.4,299.9L631.8,299.9L631.9,303.1L629.7,307.0L626.0,307.3L623.2,308.6L620.2,308.8ZM641.6,309.2L644.1,307.4L650.4,308.5L654.4,306.6L652.3,310.1L645.6,309.8L642.5,311.5L644.1,314.7L650.0,313.4L649.0,315.2L646.0,316.0L647.7,319.7L649.4,322.3L647.3,323.7L645.5,323.1L644.5,318.1L643.1,318.9L642.8,325.8L640.4,325.5L640.9,320.2L639.4,318.1L640.6,314.7L641.8,311.3ZM659.7,305.7L660.9,307.8L662.5,307.0L660.9,309.9L661.9,313.4L660.2,311.8L659.8,308.4ZM660.8,318.6L667.3,319.7L665.3,320.8L660.7,320.2ZM656.3,319.2L658.9,319.7L658.4,321.0L656.3,320.5ZM667.7,314.7L671.2,311.9L675.4,313.1L675.0,317.6L676.8,319.7L679.5,317.1L684.0,315.0L691.1,317.9L690.0,335.0L687.6,332.4L683.2,333.2L685.7,330.0L683.7,325.5L678.1,322.6L673.5,321.3L671.8,321.6L671.7,318.4L669.9,318.4ZM674.8,326.3L676.0,326.6L675.1,328.9ZM608.9,316.3L611.2,317.6L610.0,318.9ZM589.1,307.3L590.8,309.2L589.6,308.6ZM592.4,313.6L594.0,315.7L593.1,315.2Z" fill="#fa9fb5" stroke="#fa9fb5" stroke-width="2"/><path d="M652.8,335.0L658.3,333.2L657.3,334.2L652.7,336.1Z" fill="#dd3497" stroke="#dd3497" stroke-width="2"/><path d="M639.4,262.2L643.1,262.2L644.0,266.2L642.9,269.3L643.7,273.3L646.0,273.3L648.9,274.6L649.8,277.8L647.8,276.7L645.7,274.3L643.0,275.1L641.2,273.5L639.8,272.0L638.5,268.0L640.0,268.3L639.4,264.8ZM641.0,275.7L643.6,276.2L643.6,278.6L642.2,278.0ZM634.9,288.8L637.9,285.9L639.5,281.2L638.2,284.1L635.2,287.5ZM645.2,279.9L647.8,280.7L647.4,283.3L645.5,283.3ZM646.8,284.9L648.4,282.2L649.0,283.0L648.2,287.0ZM650.3,278.0L652.8,278.0L653.9,281.7L652.3,281.5ZM650.8,280.9L652.6,282.0L653.1,284.4L651.9,284.1ZM646.3,292.5L646.8,289.9L649.2,288.1L652.2,287.3L653.8,285.2L656.0,289.4L656.9,292.0L655.9,294.4L654.4,296.2L654.9,292.3L651.2,292.8L649.5,291.5ZM648.9,284.4L650.0,281.5L650.2,283.8L649.0,285.9Z" fill="#fa9fb5" stroke="#fa9fb5" stroke-width="2"/><path d="M623.0,368.5L629.5,365.3L635.0,363.8L641.1,361.6L643.3,358.5L646.6,356.6L649.4,354.0L653.6,348.5L657.7,349.2L659.2,350.3L661.5,350.3L663.2,345.8L665.6,343.7L669.8,341.1L675.1,343.2L679.5,343.2L677.0,346.6L675.3,350.3L679.5,352.9L682.9,356.9L686.5,357.2L689.3,350.6L690.3,344.2L693.0,339.2L694.6,344.8L694.5,348.7L697.9,350.6L698.2,357.2L697.5,360.9L702.5,364.0L703.9,369.8L705.7,373.0L709.1,377.7L708.3,382.2L707.7,386.4L703.8,392.8L701.0,396.5L696.6,400.2L691.2,406.0L688.4,409.9L683.2,411.2L678.3,414.1L676.9,411.2L672.7,413.3L668.3,411.5L667.2,408.1L666.2,404.9L667.0,401.2L668.2,397.0L663.7,403.1L660.9,403.1L659.8,398.0L654.7,394.1L649.7,394.4L642.4,396.2L637.2,398.0L635.2,400.4L627.4,400.4L621.8,403.6L617.9,401.7L616.0,401.5L619.8,395.4L620.0,391.4L620.2,386.2L619.2,379.6L621.0,374.3ZM672.3,418.3L675.5,419.3L679.7,418.8L677.8,421.7L673.4,425.3L670.1,425.9L670.9,422.2Z" fill="#dd3497" stroke="#dd3497" stroke-width="2"/><path d="M743.0,401.7L744.9,404.1L743.8,408.3L744.8,410.2L748.9,410.2L750.2,410.4L746.4,414.1L743.7,415.2L741.8,417.5L736.0,420.7L735.5,419.9L738.3,417.0L737.2,414.6L741.3,411.5L742.9,408.3L742.6,403.8ZM732.6,417.8L734.7,419.6L732.6,421.4L727.0,425.3L726.3,426.6L721.9,427.7L717.0,431.8L713.2,433.6L710.7,433.6L708.1,432.6L709.1,431.1L715.8,427.2L722.9,424.3L726.7,421.7L730.5,418.8Z" fill="#7a0177" stroke="#7a0177" stroke-width="2"/><path d="M691.1,317.9L699.1,321.0L701.9,325.2L705.7,326.8L706.3,328.7L704.2,328.9L704.8,330.5L706.5,332.4L709.2,335.0L712.4,338.2L710.8,339.2L705.7,337.6L703.8,336.1L701.8,332.1L698.4,331.3L695.7,332.9L694.6,335.5L690.0,335.0ZM707.9,325.5L711.7,324.2L715.3,322.1L717.2,322.3L716.3,325.2L712.7,327.4L709.2,327.4ZM713.9,317.9L717.7,321.0L718.7,323.4L717.9,322.6L715.4,320.0ZM722.3,325.2L723.9,325.8L725.1,328.9L723.8,328.4ZM704.2,316.3L706.1,316.3L705.6,317.1Z" fill="#f768a1" stroke="#f768a1" stroke-width="2"/><path d="M726.5,328.7L728.7,330.3L727.5,330.5ZM731.2,331.0L734.0,333.2L733.1,333.4ZM733.1,335.5L735.7,336.8L733.8,337.1ZM735.6,333.2L737.0,336.1L736.1,335.5ZM736.7,337.9L738.9,339.2L737.7,339.5Z" fill="#fa9fb5" stroke="#fa9fb5" stroke-width="2"/><path d="M747.2,349.8L748.1,352.1L747.1,352.4ZM747.8,353.2L749.2,354.5L748.0,354.8ZM749.3,357.2L750.0,358.0L749.1,358.0Z" fill="#fcc5c0" stroke="#fcc5c0" stroke-width="2"/><path d="M738.0,364.0L740.8,366.4L743.4,369.6L742.2,369.8L739.3,367.7L737.7,365.1Z" fill="#fcc5c0" stroke="#fcc5c0" stroke-width="2"/><path d="M770.2,357.2L772.4,356.6L773.1,358.5L770.8,359.3L769.8,358.5ZM774.0,354.8L777.2,353.7L776.6,355.3Z" fill="#fa9fb5" stroke="#fa9fb5" stroke-width="2"/></g><g stroke-linejoin="round"><path d="M125.5,132.5L101.1,154.0L103.1,154.7L104.1,156.9L107.8,156.2L108.5,158.6L108.1,162.3L109.5,165.0L110.0,166.3L108.6,167.8L108.6,173.3L106.7,177.1L110.9,179.6L111.6,182.2L111.6,182.2L168.9,182.2L170.1,181.4L172.8,183.2L178.3,184.5L181.5,184.2L187.6,187.8L188.7,189.1L190.7,191.7L189.0,197.2L186.6,199.5L187.3,200.6L195.5,198.5L196.2,196.7L201.9,195.4L206.7,192.5L213.4,192.5L216.0,190.9L220.3,186.3L222.8,187.3L222.9,192.2L224.8,192.8L228.5,190.9L223.7,196.1L227.1,195.4L235.6,191.7L238.2,189.9L237.9,187.3L234.9,190.4L230.0,189.4L229.0,186.0L230.5,184.7L226.9,184.5L231.4,183.2L231.5,181.7L222.7,183.7L216.1,187.8L220.3,184.5L226.6,181.2L228.4,179.1L241.5,179.1L245.5,176.3L251.7,174.5L249.9,169.5L246.5,165.8L244.6,160.8L243.0,154.0L240.2,155.9L236.2,158.6L232.2,157.2L233.7,152.3L228.0,149.2L220.9,149.0L218.5,154.7L214.9,157.9L216.1,161.6L214.9,164.5L208.8,168.3L204.7,175.8L201.4,176.3L200.6,172.0L202.6,167.0L197.7,166.3L193.7,163.3L185.8,162.1L185.2,157.2L187.3,153.5L193.0,149.9L200.0,146.4L207.9,144.1L212.6,139.9L221.5,138.3L224.6,132.7L220.0,132.0L212.7,134.9L210.2,133.8L208.7,131.6L208.3,127.2L203.9,129.4L199.1,134.9L194.4,136.5L187.9,136.0L177.6,136.0L174.0,136.3L166.7,134.9L166.2,133.8L155.5,132.7L153.9,131.1L148.4,131.6L138.4,132.9L134.0,133.8L125.5,132.5ZM104.7,177.6L109.5,178.9L110.4,183.5L107.7,182.9L103.8,178.9ZM241.0,185.3L248.3,177.1L251.8,175.6L249.5,179.6L254.0,181.4L254.2,185.8L251.5,188.1L248.2,187.3L246.6,185.8ZM219.9,123.4L233.5,123.4L238.2,125.5L241.1,128.3L248.0,131.6L248.9,134.2L255.3,138.3L250.3,142.9L243.4,147.6L241.3,149.9L234.0,148.3L229.9,144.5L224.5,144.5L224.9,142.4L232.4,141.7L237.3,136.5L233.5,132.0L230.9,130.9L223.7,131.6L219.2,130.9L215.1,129.8L215.6,128.3L222.2,127.2L219.9,123.4ZM209.2,142.2L215.3,141.0L218.7,145.2L213.2,146.9L208.6,145.7L209.2,142.2ZM168.0,130.5L178.4,125.5L184.9,125.5L190.6,124.7L192.3,126.1L195.0,128.3L191.3,132.2L182.7,134.2L175.7,134.5L170.2,133.1L168.0,130.5ZM157.7,127.2L167.6,122.6L176.3,122.6L177.2,124.4L167.1,128.3L159.8,128.9L157.7,127.2ZM200.2,123.2L208.2,123.2L207.1,125.9L199.8,128.5L197.8,125.5ZM211.0,122.8L217.9,123.0L216.2,125.7L209.2,127.2L208.7,125.1ZM195.1,132.7L201.6,132.0L200.5,134.2L195.4,134.2ZM182.7,118.3L191.8,117.3L195.8,118.3L198.4,119.3L196.2,121.1L188.9,121.9L183.1,121.5L180.0,120.3ZM202.0,117.7L212.9,117.5L210.2,120.5L204.3,120.9L200.0,120.5ZM215.7,117.1L221.9,117.7L225.8,118.3L238.3,119.7L236.5,121.7L226.6,122.1L217.6,121.7L212.4,119.9ZM235.6,108.6L244.7,107.0L263.7,106.0L276.6,107.0L270.4,109.1L261.4,111.2L251.6,113.0L245.8,115.1L243.3,117.7L227.6,118.1L227.7,115.9L235.1,113.9L234.3,112.1L230.6,110.3ZM224.6,110.5L232.1,109.1L236.7,110.6L231.9,112.8L224.9,113.7L222.6,112.1ZM173.2,118.5L184.4,116.1L186.2,117.5L178.0,119.5ZM210.2,112.6L217.0,113.0L212.6,115.3L206.9,114.5ZM232.2,179.9L237.3,181.4L233.6,181.7ZM102.0,169.3L104.4,169.5L102.1,174.0L100.7,172.0Z" fill="#fa9fb5" stroke="#5a3048" stroke-width="0.35" stroke-opacity="0.8"/><path d="M107.8,183.7L110.3,184.2L111.6,182.2L111.6,182.2L168.9,182.2L170.1,181.4L172.8,183.2L178.3,184.5L181.5,184.2L187.6,187.8L188.7,189.1L190.7,191.7L189.0,197.2L186.6,199.5L187.3,200.6L195.5,198.5L196.2,196.7L201.9,195.4L206.7,192.5L213.4,192.5L216.0,190.9L220.3,186.3L222.8,187.3L222.9,192.2L222.5,193.3L215.4,195.9L212.9,199.0L213.7,201.1L210.3,201.9L204.3,204.0L203.0,206.8L200.1,207.1L200.5,209.5L197.2,213.4L196.8,217.4L193.2,220.0L188.0,223.2L182.5,227.4L180.9,230.6L181.6,237.1L182.0,241.1L180.7,244.5L178.7,244.5L177.8,241.9L176.5,237.7L176.9,234.5L174.8,231.9L171.3,232.7L167.2,231.1L163.8,231.1L162.4,234.2L159.7,234.2L156.7,232.9L152.2,232.9L148.3,235.0L143.7,238.5L142.8,242.6L138.6,241.1L138.5,238.5L136.9,235.8L135.5,232.4L133.3,232.4L131.2,234.5L128.7,232.9L125.9,227.3L122.1,227.3L121.7,228.4L115.5,228.4L108.1,225.3L103.0,225.3L101.4,221.3L97.3,220.0L96.5,214.5L96.9,211.3L96.2,206.8L96.3,204.5L98.8,200.3L103.0,193.8L105.8,189.1ZM125.5,132.5L101.1,154.0L103.1,154.7L104.1,156.9L107.8,156.2L108.5,158.6L108.1,162.3L109.5,165.0L110.0,166.3L108.4,167.5L104.9,167.0L105.3,163.3L104.0,159.6L101.5,155.5L94.8,154.7L93.6,152.3L86.4,154.7L78.9,156.4L84.4,152.3L77.2,155.5L72.1,158.4L62.4,162.1L52.7,165.8L45.0,167.5L40.1,168.5L49.6,165.0L63.2,159.6L66.7,157.6L57.6,157.9L61.3,154.7L57.7,153.1L59.7,149.9L65.4,147.6L73.2,146.4L76.2,144.1L70.0,144.1L67.2,141.5L77.0,139.4L79.0,140.6L79.4,138.3L78.3,135.4L86.5,133.8L94.1,130.9L104.8,128.7L110.7,129.8L115.8,130.9L125.5,132.5ZM69.6,159.8L74.2,159.6L71.6,161.6L67.0,162.3ZM54.6,145.9L58.9,146.4L57.7,147.6L53.4,147.1ZM52.3,154.0L55.2,154.0L53.6,155.2L51.1,155.0ZM5.9,257.5L8.2,259.3L5.9,261.1L5.2,259.3ZM4.7,255.6L6.2,256.1L5.3,256.9ZM1.4,254.0L2.7,254.6L1.6,255.1ZM-1.6,252.4L-0.5,252.7L-1.2,253.5Z" fill="#f768a1" stroke="#5a3048" stroke-width="0.35" stroke-opacity="0.8"/><path d="M103.0,225.3L108.1,225.3L115.5,228.4L121.7,228.4L122.1,227.3L125.9,227.3L128.7,232.9L131.2,234.5L133.3,232.4L135.5,232.4L136.9,235.8L138.5,238.5L138.6,241.1L142.8,242.6L140.7,247.7L139.8,252.2L140.5,256.4L142.6,260.9L145.8,263.0L150.5,262.2L154.1,260.9L155.9,256.1L161.9,254.0L164.5,254.6L162.3,259.6L161.1,263.0L160.1,262.2L158.1,263.8L153.7,263.8L153.5,265.5L154.6,267.7L152.0,268.5L150.1,270.6L149.9,272.6L146.2,268.3L140.3,269.6L134.9,267.0L128.9,263.8L124.3,260.9L121.4,257.2L122.3,254.3L120.4,249.5L116.9,244.3L115.7,240.6L112.9,237.1L110.6,231.9L110.6,228.4L107.6,227.4L106.7,229.2L108.8,235.8L110.8,241.1L112.2,247.2L113.5,249.8L111.8,250.3L108.2,245.6L108.7,242.4L105.0,239.0L103.8,237.7L106.0,235.3L103.9,231.1Z" fill="#dd3497" stroke="#5a3048" stroke-width="0.35" stroke-opacity="0.8"/><path d="M149.9,272.6L150.1,270.6L152.0,268.5L154.6,267.7L153.5,265.5L153.7,263.8L158.1,263.8L157.2,269.1L159.2,269.6L156.9,271.4L156.5,273.0L154.5,274.7Z" fill="#dd3497" stroke="#5a3048" stroke-width="0.35" stroke-opacity="0.8"/><path d="M158.1,263.8L160.1,262.2L160.2,264.8L159.5,267.5L157.9,269.1L157.2,269.1Z" fill="#dd3497" stroke="#5a3048" stroke-width="0.35" stroke-opacity="0.8"/><path d="M156.5,273.0L156.9,271.4L159.2,269.6L164.6,269.1L169.2,269.3L170.8,271.4L167.0,272.2L164.7,274.3L162.3,275.9L160.8,276.7L159.8,275.7L158.3,274.3Z" fill="#dd3497" stroke="#5a3048" stroke-width="0.35" stroke-opacity="0.8"/><path d="M154.5,274.7L156.5,273.0L158.3,274.3L159.8,275.7L159.5,276.3Z" fill="#dd3497" stroke="#5a3048" stroke-width="0.35" stroke-opacity="0.8"/><path d="M160.8,276.7L162.3,275.9L164.7,274.3L167.0,272.2L170.8,271.4L169.5,278.0L168.7,282.0L166.0,282.0L164.1,281.7L162.4,279.9L159.9,277.0Z" fill="#f768a1" stroke="#5a3048" stroke-width="0.35" stroke-opacity="0.8"/><path d="M164.1,281.7L166.0,282.0L168.7,282.0L171.1,285.7L170.1,289.6L168.8,288.6L166.2,285.7L163.7,284.6Z" fill="#dd3497" stroke="#5a3048" stroke-width="0.35" stroke-opacity="0.8"/><path d="M171.1,285.7L174.7,287.8L178.3,285.7L183.0,288.1L181.7,292.0L180.4,289.4L178.2,287.5L176.0,289.4L176.8,291.5L174.5,291.7L170.1,289.6Z" fill="#dd3497" stroke="#5a3048" stroke-width="0.35" stroke-opacity="0.8"/><path d="M168.8,253.2L173.8,250.3L179.5,249.8L187.0,253.8L192.9,257.7L184.8,258.5L186.2,256.4L183.5,254.3L175.8,251.9L171.1,253.5Z" fill="#dd3497" stroke="#5a3048" stroke-width="0.35" stroke-opacity="0.8"/><path d="M191.7,262.5L195.6,263.0L198.1,263.4L198.5,259.0L194.7,258.5L195.9,260.4L196.4,261.9Z" fill="#dd3497" stroke="#5a3048" stroke-width="0.35" stroke-opacity="0.8"/><path d="M198.1,263.4L198.5,259.0L202.6,259.0L205.8,261.9L202.0,262.7L198.7,264.3Z" fill="#dd3497" stroke="#5a3048" stroke-width="0.35" stroke-opacity="0.8"/><path d="M182.8,262.5L187.5,263.1L186.1,264.0L183.1,263.8Z" fill="#fa9fb5" stroke="#5a3048" stroke-width="0.35" stroke-opacity="0.8"/><path d="M208.5,262.3L212.1,262.6L211.4,263.7L208.4,263.7Z" fill="#dd3497" stroke="#5a3048" stroke-width="0.35" stroke-opacity="0.8"/><path d="M185.2,244.8L186.5,245.3L186.4,247.7L185.1,246.9ZM187.8,240.3L188.8,241.1L188.1,242.4L187.1,241.4ZM194.3,255.6L195.9,255.6L195.4,256.7Z" fill="#fcc5c0" stroke="#5a3048" stroke-width="0.35" stroke-opacity="0.8"/><path d="M219.2,282.8L221.6,282.5L221.2,284.4L219.1,284.4ZM220.4,267.7L221.8,268.0L221.0,269.1ZM221.0,269.9L221.6,270.4L221.1,270.9ZM221.5,272.0L222.4,272.5L221.9,273.0ZM221.6,274.1L222.0,274.3L221.8,274.9ZM221.0,275.9L221.4,276.2L221.2,276.4ZM224.7,275.9L225.4,276.2L224.9,276.7ZM219.7,278.8L220.1,279.1L219.9,279.3ZM220.1,265.6L220.8,265.9L220.3,266.2ZM213.8,262.5L214.4,262.6L214.0,262.9Z" fill="#fcc5c0" stroke="#5a3048" stroke-width="0.35" stroke-opacity="0.8"/><path d="M183.0,288.1L184.4,288.6L187.3,285.9L187.7,283.0L189.4,281.7L193.6,280.9L197.7,278.3L197.6,279.9L194.7,281.7L193.3,286.5L194.6,288.8L194.9,291.5L199.8,292.5L201.3,294.9L205.7,294.6L204.9,299.1L206.0,302.0L205.9,305.7L206.8,307.8L200.1,306.5L201.0,308.1L199.6,311.5L201.0,313.9L199.9,322.1L198.1,321.0L199.4,318.1L192.9,317.3L191.0,314.4L187.2,311.3L184.9,309.9L182.4,309.9L179.1,307.3L179.9,304.4L182.3,300.4L182.8,293.6L181.7,292.0Z" fill="#dd3497" stroke="#5a3048" stroke-width="0.35" stroke-opacity="0.8"/><path d="M197.6,279.9L196.1,281.2L196.5,282.5L195.7,285.7L197.4,287.0L198.0,284.6L197.5,282.5L199.9,280.9L200.7,278.8L204.2,281.5L204.6,283.3L209.7,283.0L213.1,284.1L217.4,282.8L219.2,282.8L218.9,284.9L221.4,286.5L221.1,288.6L223.4,288.6L219.9,295.2L220.6,295.4L221.5,297.3L219.6,299.7L216.5,300.4L213.0,300.2L213.6,304.4L215.0,305.2L213.4,306.8L210.1,308.9L206.8,307.8L205.9,305.7L206.0,302.0L204.9,299.1L205.7,294.6L201.3,294.9L199.8,292.5L194.9,291.5L194.6,288.8L193.3,286.5L194.7,281.7Z" fill="#dd3497" stroke="#5a3048" stroke-width="0.35" stroke-opacity="0.8"/><path d="M223.4,288.6L226.7,293.1L229.7,295.4L229.4,297.3L227.7,300.4L229.3,302.3L231.1,306.0L227.6,307.0L225.2,307.6L223.4,304.9L223.0,300.7L224.2,299.1L222.9,297.3L221.5,297.3L220.6,295.4L219.9,295.2Z" fill="#fcc5c0" stroke="#5a3048" stroke-width="0.35" stroke-opacity="0.8"/><path d="M229.7,295.4L232.7,295.4L237.1,295.7L236.1,298.1L236.5,302.3L235.5,304.9L232.3,304.9L231.1,306.0L229.3,302.3L227.7,300.4L229.4,297.3Z" fill="#fa9fb5" stroke="#5a3048" stroke-width="0.35" stroke-opacity="0.8"/><path d="M237.1,295.7L239.6,296.8L242.4,299.9L240.0,304.9L235.5,304.9L236.5,302.3L236.1,298.1Z" fill="#f768a1" stroke="#5a3048" stroke-width="0.35" stroke-opacity="0.8"/><path d="M179.1,307.3L182.4,309.9L184.9,309.9L187.2,311.3L186.6,315.0L181.5,318.9L180.2,321.3L178.9,324.2L175.8,322.6L175.7,320.0L176.8,317.6L174.3,316.8L174.2,313.6L176.1,310.7L176.3,308.9Z" fill="#dd3497" stroke="#5a3048" stroke-width="0.35" stroke-opacity="0.8"/><path d="M175.7,320.0L175.8,322.6L178.9,324.2L180.2,321.3L181.5,318.9L186.6,315.0L187.2,311.3L191.0,314.4L192.9,317.3L199.4,318.1L198.1,321.0L199.9,322.1L193.1,324.7L191.0,330.3L193.5,335.3L195.2,337.4L198.9,336.1L199.1,340.0L201.4,340.0L203.7,344.0L203.4,349.2L202.7,352.1L203.8,354.0L202.7,356.6L203.0,357.2L201.1,359.4L198.6,356.9L189.3,351.6L186.4,347.7L184.0,342.9L181.3,337.4L178.7,332.1L177.0,329.2L173.9,326.8L173.5,323.4Z" fill="#f768a1" stroke="#5a3048" stroke-width="0.35" stroke-opacity="0.8"/><path d="M201.4,340.0L203.7,344.0L203.4,349.2L202.7,352.1L203.8,354.0L202.7,356.6L203.0,357.2L204.5,361.1L205.9,363.8L207.0,367.7L208.1,371.1L209.7,371.1L211.4,368.5L214.5,369.3L216.3,371.1L219.8,369.8L220.4,366.4L221.2,362.7L227.3,361.9L229.5,363.2L230.2,361.1L230.7,359.0L228.7,356.6L228.2,354.0L224.1,353.7L223.2,350.8L223.4,347.4L219.9,346.6L216.5,344.2L213.7,343.7L211.5,341.9L211.0,336.6L208.2,337.1L203.8,340.3L201.4,340.0Z" fill="#fcc5c0" stroke="#5a3048" stroke-width="0.35" stroke-opacity="0.8"/><path d="M219.8,369.8L220.4,366.4L221.2,362.7L227.3,361.9L229.5,363.2L230.9,369.3L235.5,369.8L236.8,374.3L239.4,374.6L239.1,378.5L238.9,381.2L236.9,383.3L230.6,382.7L232.3,378.3L227.6,375.1L224.1,373.8Z" fill="#fcc5c0" stroke="#5a3048" stroke-width="0.35" stroke-opacity="0.8"/><path d="M201.1,359.4L203.0,357.2L204.5,361.1L205.9,363.8L207.0,367.7L208.1,371.1L209.7,371.1L209.8,374.3L207.5,375.6L208.6,382.0L206.1,386.2L206.3,391.2L205.8,394.1L207.9,398.8L209.0,401.5L208.3,404.1L208.8,406.5L207.6,407.8L209.4,412.8L209.0,417.3L210.2,422.0L211.6,425.6L213.4,429.5L214.5,435.5L215.1,439.8L214.6,443.1L217.2,444.2L218.3,446.7L219.4,447.5L226.7,448.2L226.7,449.1L229.1,454.7L231.7,455.7L232.8,457.2L227.1,456.2L222.0,453.7L214.8,448.7L210.0,442.4L207.5,436.0L207.6,430.8L207.4,425.6L204.9,421.2L204.0,415.2L202.8,409.1L203.6,404.6L204.2,398.8L203.0,391.4L202.5,386.2L203.0,379.6L202.4,373.0L202.5,366.4Z" fill="#ae017e" stroke="#5a3048" stroke-width="0.35" stroke-opacity="0.8"/><path d="M226.7,448.2L219.4,447.5L218.3,446.7L217.2,444.2L214.6,443.1L215.1,439.8L214.5,435.5L213.4,429.5L211.6,425.6L210.2,422.0L209.0,417.3L209.4,412.8L207.6,407.8L208.8,406.5L208.3,404.1L209.0,401.5L207.9,398.8L205.8,394.1L206.3,391.2L206.1,386.2L208.6,382.0L207.5,375.6L209.8,374.3L209.7,371.1L211.4,368.5L214.5,369.3L216.3,371.1L219.8,369.8L224.1,373.8L227.6,375.1L232.3,378.3L230.6,382.7L236.9,383.3L238.9,381.2L239.1,378.5L241.3,380.4L241.4,382.7L237.3,385.9L233.9,390.7L233.6,396.7L233.9,400.4L234.1,401.5L237.2,404.1L237.5,406.5L239.2,408.3L237.9,411.5L235.2,413.1L228.8,413.6L229.3,418.0L223.7,418.6L224.7,422.2L227.6,422.5L226.3,424.0L226.0,428.5L222.6,432.1L227.3,435.2L227.4,437.3L225.1,439.8L223.9,443.1L223.8,444.9ZM226.7,449.1L235.7,454.1L233.4,455.1L229.1,454.7Z" fill="#fcc5c0" stroke="#5a3048" stroke-width="0.35" stroke-opacity="0.8"/><path d="M233.9,400.4L233.6,396.7L233.9,390.7L237.8,392.2L243.2,395.7L244.8,399.9L242.1,403.2L239.2,403.1L235.5,402.0Z" fill="#dd3497" stroke="#5a3048" stroke-width="0.35" stroke-opacity="0.8"/><path d="M242.4,299.9L244.1,305.7L246.4,308.4L245.0,311.0L249.7,311.5L250.9,312.8L255.5,313.9L259.1,317.6L264.9,318.4L269.5,318.5L273.1,320.8L276.1,323.7L280.6,324.7L281.8,330.0L281.5,334.7L277.0,340.0L273.7,345.3L272.7,350.6L272.6,357.2L271.6,362.7L269.2,369.0L267.1,371.7L261.4,372.2L257.5,374.3L254.0,377.7L252.9,380.9L253.4,385.6L250.8,389.6L248.6,393.3L246.8,395.9L244.8,399.9L243.2,395.7L237.8,392.2L233.9,390.7L237.3,385.9L241.4,382.7L241.3,380.4L239.1,378.5L239.4,374.6L236.8,374.3L235.5,369.8L230.9,369.3L229.5,363.2L230.2,361.1L230.7,359.0L228.7,356.6L228.2,354.0L224.1,353.7L223.2,350.8L223.4,347.4L219.9,346.6L216.5,344.2L213.7,343.7L211.5,341.9L211.0,336.6L208.2,337.1L203.8,340.3L201.4,340.0L199.1,340.0L198.9,336.1L195.2,337.4L193.5,335.3L191.0,330.3L193.1,324.7L199.9,322.1L201.0,313.9L199.6,311.5L201.0,308.1L200.1,306.5L206.8,307.8L210.1,308.9L213.4,306.8L215.0,305.2L213.6,304.4L213.0,300.2L216.5,300.4L219.6,299.7L221.5,297.3L222.9,297.3L224.2,299.1L223.0,300.7L223.4,304.9L225.2,307.6L227.6,307.0L231.1,306.0L232.3,304.9L235.5,304.9L240.0,304.9Z" fill="#dd3497" stroke="#5a3048" stroke-width="0.35" stroke-opacity="0.8"/><path d="M254.0,114.3L256.9,117.9L269.8,119.1L272.1,120.3L273.8,125.5L272.0,130.5L276.5,133.3L270.0,138.3L269.9,144.8L271.9,151.1L279.0,154.7L280.9,155.2L284.7,151.1L288.8,147.1L296.7,141.5L307.9,135.8L318.4,134.9L326.0,130.9L323.6,126.8L331.1,121.9L333.7,117.3L336.0,113.9L338.1,111.2L346.4,108.8L334.8,107.5L321.7,105.6L319.1,105.3L300.5,106.5L278.7,107.8L264.6,110.8Z" fill="url(#hatch)" stroke="#cfcfcf" stroke-width="0.35" stroke-opacity="0.8"/><path d="M319.6,141.7L324.3,139.7L331.2,140.1L334.8,139.4L337.2,141.7L338.6,142.9L336.0,144.5L329.4,146.6L325.9,146.2L322.0,145.7L323.6,144.1L320.2,143.1L323.9,142.0Z" fill="url(#hatch)" stroke="#cfcfcf" stroke-width="0.35" stroke-opacity="0.8"/><path d="M342.7,175.6L343.8,173.3L343.1,169.0L346.7,168.3L346.6,166.5L348.5,166.3L348.5,166.9L346.9,168.5L348.4,169.3L350.4,169.3L350.7,171.3L350.4,174.0L346.7,175.3Z" fill="#ae017e" stroke="#5a3048" stroke-width="0.35" stroke-opacity="0.8"/><path d="M351.2,179.4L355.6,178.9L359.7,177.8L365.3,176.8L364.3,175.8L366.1,172.8L363.3,172.0L362.5,170.5L360.4,168.0L359.6,165.8L357.9,164.5L357.3,163.5L358.9,160.6L356.0,160.3L355.1,160.6L356.9,158.1L353.3,158.1L351.7,160.8L352.1,163.5L351.8,166.0L353.4,165.5L353.2,167.5L356.3,167.3L356.8,169.8L356.6,171.3L353.8,171.3L353.8,172.5L354.5,173.8L352.3,175.1L356.1,176.1L356.7,176.6L354.1,176.8ZM348.5,166.9L350.7,166.4L352.0,168.0L350.4,169.3L348.4,169.3L346.9,168.5Z" fill="#f768a1" stroke="#5a3048" stroke-width="0.35" stroke-opacity="0.8"/><path d="M358.9,196.7L360.2,193.5L360.4,190.4L358.4,187.3L353.1,184.7L353.5,183.2L359.4,182.9L359.1,180.4L360.5,181.2L363.1,180.9L365.9,178.9L367.7,176.8L368.5,177.8L371.2,179.6L372.4,179.4L374.5,180.9L375.3,180.9L375.7,180.9L379.4,182.2L378.3,185.8L376.9,186.5L375.3,188.4L375.3,189.4L376.8,189.9L377.2,190.2L376.5,192.2L377.4,194.6L378.5,195.6L375.8,197.4L372.8,196.7L369.2,197.2L369.3,199.3L365.9,199.0L364.2,198.2ZM380.9,199.3L382.6,197.7L382.9,200.0L382.3,201.9L381.2,201.1Z" fill="#fa9fb5" stroke="#5a3048" stroke-width="0.35" stroke-opacity="0.8"/><path d="M358.9,196.7L364.2,198.2L365.9,199.0L369.3,199.3L369.5,200.6L367.2,202.1L364.4,203.7L362.1,206.8L363.1,208.9L361.2,211.8L358.6,213.7L357.9,214.2L353.1,214.2L350.5,216.0L348.7,213.9L346.6,212.9L346.4,211.8L347.5,210.3L347.0,206.8L347.9,206.3L348.2,202.9L349.5,201.3L348.7,200.6L345.3,200.3L343.8,200.6L343.8,199.0L343.1,197.7L345.9,195.9L350.5,196.1L354.7,196.4Z" fill="#dd3497" stroke="#5a3048" stroke-width="0.35" stroke-opacity="0.8"/><path d="M343.8,200.6L345.3,200.3L348.7,200.6L349.5,201.3L348.2,202.9L347.9,206.3L347.0,206.8L347.5,210.3L346.4,211.8L346.6,212.9L343.3,213.4L343.7,209.7L342.2,208.7L343.6,205.0L344.1,202.9Z" fill="#dd3497" stroke="#5a3048" stroke-width="0.35" stroke-opacity="0.8"/><path d="M367.7,176.8L369.5,176.1L371.3,176.1L372.7,175.8L374.5,176.8L374.2,177.6L375.4,178.4L375.0,179.4L374.5,180.9L372.4,179.4L371.2,179.6L368.5,177.8Z" fill="#7a0177" stroke="#5a3048" stroke-width="0.35" stroke-opacity="0.8"/><path d="M369.5,176.1L370.7,174.5L372.0,172.0L374.9,170.8L376.9,171.3L376.6,173.5L374.9,174.8L375.1,176.1L374.5,176.8L372.7,175.8L371.3,176.1Z" fill="#ae017e" stroke="#5a3048" stroke-width="0.35" stroke-opacity="0.8"/><path d="M374.5,180.9L375.0,179.4L375.9,180.1L375.7,180.9L375.3,180.9Z" fill="#fa9fb5" stroke="#5a3048" stroke-width="0.35" stroke-opacity="0.8"/><path d="M376.9,171.3L379.4,170.5L379.8,169.5L379.4,167.3L381.2,167.5L382.2,168.3L384.3,169.5L387.1,168.5L390.6,169.8L391.1,171.3L391.7,173.0L392.0,175.1L392.8,177.1L391.4,177.1L387.9,178.9L387.4,179.4L390.8,182.7L389.4,186.0L387.8,185.8L384.3,186.0L382.4,186.0L380.4,185.5L378.3,185.8L379.4,182.2L375.7,180.9L375.9,180.1L375.0,179.4L375.4,178.4L374.2,177.6L374.5,176.8L375.1,176.1L374.9,174.8L376.6,173.5Z" fill="#fa9fb5" stroke="#5a3048" stroke-width="0.35" stroke-opacity="0.8"/><path d="M375.3,189.4L375.3,188.4L376.9,186.5L378.3,185.8L380.4,185.5L382.4,186.0L382.3,187.1L384.2,187.6L384.0,188.6L382.0,188.9L381.4,190.2L380.1,189.1L379.1,190.2L377.2,190.2L376.8,189.9Z" fill="#f768a1" stroke="#5a3048" stroke-width="0.35" stroke-opacity="0.8"/><path d="M382.4,186.0L384.3,186.0L387.8,185.8L389.4,186.0L390.8,182.7L393.2,182.2L397.2,182.9L397.7,184.7L396.6,186.0L395.9,187.6L392.7,188.9L391.0,188.6L387.9,187.3L384.2,187.6L382.3,187.1Z" fill="#f768a1" stroke="#5a3048" stroke-width="0.35" stroke-opacity="0.8"/><path d="M378.5,195.6L377.4,194.6L376.5,192.2L377.2,190.2L379.1,190.2L380.1,189.1L381.4,190.2L382.0,188.9L384.0,188.6L384.2,187.6L387.9,187.3L391.0,188.6L391.0,190.4L391.4,190.9L389.9,190.7L388.3,191.7L388.7,194.6L391.4,196.4L392.8,199.3L396.9,200.6L396.8,201.9L402.4,205.3L402.0,206.1L399.1,204.2L398.4,206.3L399.6,208.2L398.4,209.7L397.6,211.0L396.6,210.8L397.1,208.9L397.4,206.8L396.2,205.3L394.2,203.7L392.6,202.9L390.4,202.1L388.7,200.8L386.2,199.3L384.9,197.7L384.1,195.4L381.1,194.1L379.7,195.4ZM389.6,210.8L391.5,210.3L396.5,210.0L395.6,214.2L393.9,213.7L389.6,211.3ZM380.2,203.2L382.3,202.4L383.7,204.2L383.4,207.6L381.9,208.2L380.8,207.6L380.7,204.7Z" fill="#dd3497" stroke="#5a3048" stroke-width="0.35" stroke-opacity="0.8"/><path d="M379.4,167.3L378.4,165.5L378.4,162.6L380.8,161.6L382.8,160.3L382.7,163.0L383.7,163.8L382.4,165.0L381.5,166.3L381.2,167.5ZM384.4,165.3L386.8,164.3L387.1,166.0L386.1,167.3L384.3,166.5ZM381.9,165.8L383.7,166.3L383.3,167.0L381.9,166.8Z" fill="#fa9fb5" stroke="#5a3048" stroke-width="0.35" stroke-opacity="0.8"/><path d="M376.0,159.6L373.0,157.6L372.0,153.5L371.8,150.4L374.5,148.5L378.0,146.4L381.4,146.2L382.2,143.4L384.6,140.6L387.7,137.2L389.9,134.7L393.8,132.2L398.6,130.9L404.8,129.2L409.0,129.4L414.4,130.9L413.2,132.5L411.8,133.6L411.8,133.6L408.7,131.6L406.4,132.2L406.4,133.8L401.0,134.5L397.6,133.7L397.6,133.7L396.8,135.1L393.7,134.9L390.4,137.8L388.1,140.4L387.8,142.9L387.1,144.5L384.6,146.2L384.6,149.9L385.9,151.6L385.4,152.6L385.9,154.5L384.7,155.5L384.1,157.2L382.6,156.4L380.6,157.6L378.2,159.4ZM378.7,111.7L383.0,111.2L391.5,110.6L401.7,111.0L397.9,112.6L393.8,113.7L391.4,115.9L388.7,117.7L385.4,116.5L382.9,114.9L379.0,113.7ZM386.6,135.1L389.8,134.0L388.7,135.6Z" fill="#dd3497" stroke="#5a3048" stroke-width="0.35" stroke-opacity="0.8"/><path d="M384.1,157.2L384.7,155.5L385.9,154.5L385.4,152.6L385.9,151.6L384.6,149.9L384.6,146.2L387.1,144.5L387.8,142.9L388.1,140.4L390.4,137.8L393.7,134.9L396.8,135.1L397.6,133.7L397.6,133.7L403.2,136.3L403.4,138.3L405.0,141.0L401.7,141.5L400.6,143.8L397.8,146.6L394.6,149.5L394.4,152.3L397.5,154.7L398.2,155.5L396.4,157.4L394.4,160.1L394.2,163.0L393.3,164.3L390.4,165.8L387.7,166.0L387.2,164.0L385.4,160.8L383.8,158.4Z" fill="#fa9fb5" stroke="#5a3048" stroke-width="0.35" stroke-opacity="0.8"/><path d="M397.6,133.7L401.0,134.5L406.4,133.8L406.4,132.2L408.7,131.6L411.8,133.6L411.8,133.6L411.3,134.9L414.3,136.7L413.0,138.5L415.6,141.3L415.4,143.4L417.1,144.8L416.5,145.9L419.7,147.8L416.0,151.9L414.2,153.4L410.9,153.8L408.3,154.7L405.5,155.0L402.5,153.5L401.6,150.2L400.9,148.0L403.1,145.9L406.5,143.1L407.6,142.7L405.0,141.0L403.4,138.3L403.2,136.3Z" fill="#f768a1" stroke="#5a3048" stroke-width="0.35" stroke-opacity="0.8"/><path d="M406.8,156.7L410.9,155.7L415.1,156.1L414.3,157.6L414.8,160.6L413.2,160.8L410.7,159.6L408.8,160.0L409.0,158.9L407.0,157.9Z" fill="#dd3497" stroke="#5a3048" stroke-width="0.35" stroke-opacity="0.8"/><path d="M403.3,164.3L403.1,162.1L404.0,160.6L405.6,160.2L407.1,162.1L409.1,161.6L408.8,160.0L410.7,159.6L413.2,160.8L414.8,160.6L415.7,161.3L417.0,164.0L414.1,165.3L410.8,163.8L405.2,163.5Z" fill="#fa9fb5" stroke="#5a3048" stroke-width="0.35" stroke-opacity="0.8"/><path d="M403.3,164.3L405.2,163.5L410.8,163.8L414.1,165.3L414.2,166.8L413.0,168.8L410.6,169.8L408.8,169.6L407.3,168.5L407.1,167.3L404.1,166.4Z" fill="#fa9fb5" stroke="#5a3048" stroke-width="0.35" stroke-opacity="0.8"/><path d="M401.0,168.4L401.6,167.1L404.1,166.4L407.1,167.3L407.3,168.5Z" fill="#fcc5c0" stroke="#5a3048" stroke-width="0.35" stroke-opacity="0.8"/><path d="M390.6,169.8L394.4,168.8L398.2,167.5L399.1,168.5L401.0,168.4L407.3,168.5L408.8,169.6L410.1,172.8L408.9,174.0L409.9,175.8L411.2,177.6L408.6,182.0L406.4,181.2L403.4,181.7L401.7,180.9L400.9,180.9L399.1,179.6L396.8,178.6L395.3,178.1L392.8,177.1L392.0,175.1L391.7,173.0L391.1,171.3Z" fill="#dd3497" stroke="#5a3048" stroke-width="0.35" stroke-opacity="0.8"/><path d="M387.4,179.4L387.9,178.9L391.4,177.1L392.8,177.1L395.3,178.1L396.8,178.6L399.1,179.6L400.9,180.9L399.4,182.4L397.2,182.9L393.2,182.2L390.8,182.7Z" fill="#fa9fb5" stroke="#5a3048" stroke-width="0.35" stroke-opacity="0.8"/><path d="M397.2,182.9L399.4,182.4L400.9,180.9L401.7,180.9L403.4,181.7L406.4,181.2L408.6,182.0L408.1,183.7L404.6,183.5L401.3,185.3L397.7,184.7Z" fill="#fcc5c0" stroke="#5a3048" stroke-width="0.35" stroke-opacity="0.8"/><path d="M395.9,187.6L396.6,186.0L397.7,184.7L401.3,185.3L404.6,183.5L408.1,183.7L409.6,184.7L406.6,189.1L404.8,189.6L401.7,190.2L399.0,190.2L396.8,188.6Z" fill="#fa9fb5" stroke="#5a3048" stroke-width="0.35" stroke-opacity="0.8"/><path d="M391.0,188.6L392.7,188.9L395.9,187.6L396.8,188.6L395.2,189.4L394.6,191.2L391.0,191.2L391.0,190.4Z" fill="#ae017e" stroke="#5a3048" stroke-width="0.35" stroke-opacity="0.8"/><path d="M391.0,191.2L394.6,191.2L395.2,189.4L396.8,188.6L399.0,190.2L401.7,190.2L402.5,192.0L402.4,192.8L397.9,192.0L395.7,192.0L395.8,193.3L396.7,194.6L399.9,197.7L401.9,199.3L399.7,198.0L396.4,196.4L394.6,194.6L393.8,192.5L392.5,191.7L391.8,193.0L390.8,191.2Z" fill="#fa9fb5" stroke="#5a3048" stroke-width="0.35" stroke-opacity="0.8"/><path d="M395.7,192.0L397.9,192.0L402.4,192.8L403.4,194.6L403.8,196.1L401.9,198.7L399.9,197.7L396.7,194.6L395.8,193.3Z" fill="#fa9fb5" stroke="#5a3048" stroke-width="0.35" stroke-opacity="0.8"/><path d="M401.9,199.0L401.9,198.7L403.8,196.1L405.6,198.2L405.3,198.7L403.9,200.6Z" fill="#fa9fb5" stroke="#5a3048" stroke-width="0.35" stroke-opacity="0.8"/><path d="M402.4,192.8L402.5,192.0L401.7,190.2L404.8,189.6L407.5,192.0L409.8,193.3L410.3,194.6L409.9,196.4L411.3,197.4L410.2,199.5L408.5,199.7L406.5,200.6L405.3,198.7L405.6,198.2L403.8,196.1L403.4,194.6Z" fill="#fcc5c0" stroke="#5a3048" stroke-width="0.35" stroke-opacity="0.8"/><path d="M403.9,200.6L405.3,198.7L406.5,200.6L406.4,202.4L407.6,203.4L407.1,205.3L405.7,206.3L404.3,204.5L404.3,202.1Z" fill="#dd3497" stroke="#5a3048" stroke-width="0.35" stroke-opacity="0.8"/><path d="M406.5,200.6L408.5,199.7L410.2,199.5L411.7,201.9L411.4,202.7L407.6,203.4L406.4,202.4Z" fill="#fa9fb5" stroke="#5a3048" stroke-width="0.35" stroke-opacity="0.8"/><path d="M405.7,206.3L407.1,205.3L407.6,203.4L411.4,202.7L411.7,201.9L414.9,201.6L418.2,201.1L419.4,202.1L418.3,203.4L414.9,203.2L414.2,204.7L411.7,204.2L411.4,206.8L413.0,208.2L414.9,210.3L414.8,211.6L412.6,211.0L413.2,212.6L412.5,214.7L411.1,214.5L410.0,213.9L408.7,211.3L408.4,210.0L407.4,208.7ZM414.2,217.4L420.4,218.2L417.6,218.9L414.3,218.0ZM423.2,215.0L424.3,215.0L423.5,216.3ZM418.7,207.4L420.1,207.9L419.3,208.4ZM413.0,208.4L415.8,210.3L415.2,210.8ZM405.0,206.1L405.8,206.8L405.6,207.1Z" fill="#f768a1" stroke="#5a3048" stroke-width="0.35" stroke-opacity="0.8"/><path d="M410.3,194.6L413.2,195.9L416.4,196.0L419.4,194.8L422.9,195.7L421.7,198.2L422.2,200.3L418.2,201.1L414.9,201.6L411.7,201.9L410.2,199.5L411.3,197.4L409.9,196.4Z" fill="#fcc5c0" stroke="#5a3048" stroke-width="0.35" stroke-opacity="0.8"/><path d="M404.8,189.6L406.6,189.1L409.6,184.7L413.8,185.5L417.1,184.1L418.5,185.3L420.7,187.8L421.4,191.3L424.6,192.0L422.9,195.7L419.4,194.8L416.4,196.0L413.2,195.9L410.3,194.6L409.8,193.3L407.5,192.0Z" fill="#fcc5c0" stroke="#5a3048" stroke-width="0.35" stroke-opacity="0.8"/><path d="M417.1,184.1L418.9,183.5L422.4,185.0L425.0,188.9L422.7,189.9L421.4,191.3L420.7,187.8L418.5,185.3Z" fill="#fcc5c0" stroke="#5a3048" stroke-width="0.35" stroke-opacity="0.8"/><path d="M408.1,183.7L408.6,182.0L411.2,177.6L409.9,175.8L412.6,174.8L417.7,175.6L423.8,176.3L426.0,174.3L426.0,174.3L429.8,173.5L431.7,176.6L434.5,178.6L439.6,179.9L444.0,180.6L444.4,185.3L441.4,187.1L438.1,188.1L435.3,189.6L436.7,191.7L438.9,191.5L436.7,192.8L433.3,194.1L430.4,191.5L432.4,189.6L428.5,188.4L426.3,188.9L424.6,192.0L421.4,191.3L422.7,189.9L425.0,188.9L422.4,185.0L418.9,183.5L417.1,184.1L413.8,185.5L409.6,184.7Z" fill="#fcc5c0" stroke="#5a3048" stroke-width="0.35" stroke-opacity="0.8"/><path d="M408.8,169.6L410.6,169.8L413.0,168.8L414.2,166.8L414.1,165.3L417.0,164.0L422.5,165.5L422.7,167.5L427.1,170.8L424.7,171.5L426.0,174.3L423.8,176.3L417.7,175.6L412.6,174.8L409.9,175.8L408.9,174.0L410.1,172.8Z" fill="#f768a1" stroke="#5a3048" stroke-width="0.35" stroke-opacity="0.8"/><path d="M418.2,201.1L422.2,200.3L424.8,202.4L421.5,203.0L418.9,204.7L418.3,203.4L419.4,202.1ZM419.2,205.5L421.6,204.5L424.8,204.2L425.2,202.5L429.9,202.4L433.9,200.3L437.5,200.3L440.6,202.4L445.0,203.2L451.1,201.6L453.9,201.6L455.6,202.7L456.5,205.3L459.0,206.3L458.3,207.1L458.5,210.8L460.2,212.9L455.0,213.2L451.5,213.2L447.3,214.2L442.7,213.9L442.9,215.5L442.0,216.6L441.7,214.5L438.3,213.9L436.4,215.8L432.9,215.8L429.4,213.9L427.6,215.8L424.2,214.2L422.2,213.4L421.7,211.0L419.6,210.0L420.2,207.4L418.9,206.8Z" fill="#dd3497" stroke="#5a3048" stroke-width="0.35" stroke-opacity="0.8"/><path d="M433.6,218.7L435.1,217.6L438.5,216.8L437.4,218.7L435.3,219.7Z" fill="#ae017e" stroke="#5a3048" stroke-width="0.35" stroke-opacity="0.8"/><path d="M418.3,227.6L422.8,228.4L427.4,229.5L430.6,227.9L433.9,228.2L438.9,228.4L440.9,233.2L439.8,237.8L437.3,235.6L435.6,232.0L435.8,233.7L438.6,238.5L443.4,247.7L444.1,248.0L446.9,253.0L419.7,253.0Z" fill="#fa9fb5" stroke="#5a3048" stroke-width="0.35" stroke-opacity="0.8"/><path d="M418.3,227.6L419.7,253.0L419.9,258.2L417.6,258.2L417.7,259.6L399.1,249.1L396.8,250.3L395.1,251.4L389.9,249.0L385.4,246.4L384.0,241.9L385.1,241.1L385.0,236.4L383.9,231.3L385.7,229.5L388.2,225.5L388.3,223.6L391.9,224.2L396.7,225.8L397.7,228.2L399.7,228.7L405.2,231.1L407.3,229.2L407.3,225.8L410.5,224.2L414.2,226.1Z" fill="#dd3497" stroke="#5a3048" stroke-width="0.35" stroke-opacity="0.8"/><path d="M388.3,223.6L388.2,225.5L385.7,229.5L383.9,231.3L382.7,226.3L381.1,225.3L379.5,223.4L381.0,219.7L380.6,214.7L381.4,213.5L384.1,212.5L386.7,213.3L384.9,214.2L385.9,216.6L386.8,217.1L384.9,220.5L386.8,222.1Z" fill="#dd3497" stroke="#5a3048" stroke-width="0.35" stroke-opacity="0.8"/><path d="M381.4,213.5L380.6,214.7L381.0,219.7L379.5,223.4L381.1,225.3L382.7,226.3L383.9,231.3L383.9,231.3L385.0,236.4L385.1,241.1L384.0,241.9L385.4,246.4L389.9,249.0L379.8,255.9L376.0,259.7L372.4,260.5L370.3,260.9L370.0,258.8L366.8,257.5L365.4,255.3L351.7,245.1L343.2,239.0L343.2,238.0L343.2,235.3L347.0,233.2L351.5,231.9L354.7,229.5L354.7,227.4L360.0,226.1L358.9,221.8L358.7,219.5L357.9,218.4L360.5,216.8L362.9,216.0L364.9,214.7L369.2,213.7L373.8,213.9L377.7,213.4L378.8,213.2Z" fill="#f768a1" stroke="#5a3048" stroke-width="0.35" stroke-opacity="0.8"/><path d="M357.9,218.4L358.7,219.5L358.9,221.8L360.0,226.1L354.7,227.4L354.7,229.5L351.5,231.9L347.0,233.2L343.2,235.3L343.2,238.0L333.0,238.0L333.7,237.3L337.8,235.0L339.8,233.5L341.0,230.8L340.8,228.2L342.1,225.3L343.9,223.2L345.9,222.4L347.7,221.2L349.1,218.2L349.8,216.6L351.1,216.3L352.8,218.2L356.1,217.9Z" fill="#dd3497" stroke="#5a3048" stroke-width="0.35" stroke-opacity="0.8"/><path d="M343.2,238.0L343.2,239.0L343.1,242.4L335.6,242.4L335.4,249.1L333.1,249.1L333.0,254.7L324.0,254.7L323.7,256.1L323.9,254.6L325.6,250.6L326.6,248.2L328.9,244.3L330.2,241.6L332.2,239.8L333.0,238.0Z" fill="url(#hatch)" stroke="#cfcfcf" stroke-width="0.35" stroke-opacity="0.8"/><path d="M323.7,256.1L324.0,254.7L333.0,254.7L333.1,249.1L335.4,249.1L335.6,242.4L343.1,242.4L343.2,239.0L351.7,245.1L348.0,245.1L350.0,270.1L341.3,270.1L338.0,270.4L336.2,269.9L334.6,272.0L331.8,268.5L329.3,267.2L324.7,268.5L325.7,263.5L326.0,259.8L324.9,259.6L325.4,257.7Z" fill="#dd3497" stroke="#5a3048" stroke-width="0.35" stroke-opacity="0.8"/><path d="M334.6,272.0L336.2,269.9L338.0,270.4L341.3,270.1L350.0,270.1L348.0,245.1L351.7,245.1L365.4,255.3L366.8,257.5L370.0,258.8L370.3,260.9L372.4,260.5L372.4,267.7L370.8,270.4L365.7,270.6L363.2,271.6L361.1,271.2L358.1,273.5L356.0,274.1L354.8,276.2L353.0,276.7L352.5,278.6L350.4,280.4L349.9,283.6L348.3,282.8L346.7,284.1L344.2,284.1L343.5,282.0L342.6,280.7L341.6,278.3L338.9,278.8L336.3,278.3L335.0,274.6Z" fill="#fa9fb5" stroke="#5a3048" stroke-width="0.35" stroke-opacity="0.8"/><path d="M324.7,268.5L329.3,267.2L331.8,268.5L334.6,272.0L335.0,274.6L336.3,278.3L334.0,278.3L331.0,277.6L324.1,278.4L323.9,276.4L323.9,275.7L322.3,272.2Z" fill="#f768a1" stroke="#5a3048" stroke-width="0.35" stroke-opacity="0.8"/><path d="M323.9,275.3L327.8,274.6L330.8,275.3L330.8,276.1L327.6,275.7L323.9,276.3Z" fill="#fa9fb5" stroke="#5a3048" stroke-width="0.35" stroke-opacity="0.8"/><path d="M324.1,278.4L331.0,277.6L331.0,280.1L328.7,280.7L327.7,282.2L325.9,280.1L325.0,279.3Z" fill="#fa9fb5" stroke="#5a3048" stroke-width="0.35" stroke-opacity="0.8"/><path d="M327.7,282.2L328.9,283.3L330.9,285.7L331.8,287.1L333.7,284.9L336.7,284.6L338.1,286.5L338.8,288.6L340.9,288.8L340.9,291.5L342.9,291.1L344.8,288.8L343.7,286.2L344.2,284.1L343.5,282.0L342.6,280.7L341.6,278.3L338.9,278.8L336.3,278.3L334.0,278.3L331.0,277.6L331.0,280.1L328.7,280.7Z" fill="#fa9fb5" stroke="#5a3048" stroke-width="0.35" stroke-opacity="0.8"/><path d="M331.8,287.1L332.0,288.8L333.7,291.5L336.0,292.8L338.1,290.4L338.8,288.6L338.1,286.5L336.7,284.6L333.7,284.9L331.8,287.1Z" fill="#f768a1" stroke="#5a3048" stroke-width="0.35" stroke-opacity="0.8"/><path d="M336.0,292.8L337.6,294.4L341.1,297.0L345.2,299.5L345.5,295.7L343.4,294.1L342.9,291.1L342.9,291.1L340.9,291.5L340.9,288.8L338.8,288.6L338.1,290.4Z" fill="#fa9fb5" stroke="#5a3048" stroke-width="0.35" stroke-opacity="0.8"/><path d="M345.2,299.5L348.7,298.6L353.4,297.3L355.5,297.5L356.2,296.2L355.3,293.1L356.9,289.4L356.4,285.9L352.7,285.7L351.8,283.6L349.9,283.6L348.3,282.8L346.7,284.1L344.2,284.1L344.2,284.1L343.7,286.2L344.8,288.8L342.9,291.1L343.4,294.1L345.5,295.7L345.2,299.5Z" fill="#fa9fb5" stroke="#5a3048" stroke-width="0.35" stroke-opacity="0.8"/><path d="M355.5,297.5L358.0,298.5L360.4,297.5L362.7,296.2L365.5,294.9L363.9,292.8L364.1,291.2L363.9,288.6L363.6,284.6L362.7,283.0L362.4,281.7L356.2,282.0L356.4,285.9L356.9,289.4L355.3,293.1L356.2,296.2L355.5,297.5Z" fill="#fcc5c0" stroke="#5a3048" stroke-width="0.35" stroke-opacity="0.8"/><path d="M349.9,283.6L350.4,280.4L352.5,278.6L353.0,276.7L354.8,276.2L356.0,274.1L358.1,273.5L361.1,271.2L363.2,271.6L363.6,274.1L365.0,275.7L367.6,277.5L368.3,279.6L365.9,280.9L364.8,282.0L362.4,281.7L356.2,282.0L356.4,285.9L352.7,285.7L351.8,283.6Z" fill="#f768a1" stroke="#5a3048" stroke-width="0.35" stroke-opacity="0.8"/><path d="M365.5,294.9L363.9,292.8L364.1,291.2L363.9,288.6L363.6,284.6L362.7,283.0L362.4,281.7L364.8,282.0L364.8,282.0L364.6,283.6L365.9,285.9L366.4,287.3L366.4,294.6Z" fill="#fa9fb5" stroke="#5a3048" stroke-width="0.35" stroke-opacity="0.8"/><path d="M366.4,294.6L366.4,287.3L365.9,285.9L364.6,283.6L364.8,282.0L365.9,280.9L368.3,279.6L369.2,278.3L371.0,280.1L371.0,280.1L371.5,283.3L369.9,287.0L369.0,289.9L369.0,294.1Z" fill="#f768a1" stroke="#5a3048" stroke-width="0.35" stroke-opacity="0.8"/><path d="M394.1,274.9L393.9,272.8L398.4,266.4L398.4,258.5L399.3,257.2L397.0,254.8L396.8,250.3L395.1,251.4L389.9,249.0L379.8,255.9L376.0,259.7L372.4,260.5L372.4,267.7L370.8,270.4L365.7,270.6L363.2,271.6L363.6,274.1L365.0,275.7L367.6,277.5L368.3,279.6L369.2,278.3L371.0,280.1L371.3,278.0L372.2,275.4L375.4,274.3L378.4,276.4L380.7,275.9L384.7,277.2L387.4,275.7L391.6,276.4L394.1,274.9Z" fill="#fa9fb5" stroke="#5a3048" stroke-width="0.35" stroke-opacity="0.8"/><path d="M369.0,294.1L369.0,289.9L369.9,287.0L371.5,283.3L371.0,280.1L371.3,278.0L372.2,275.4L375.4,274.3L378.4,276.4L380.7,275.9L384.7,277.2L387.4,275.7L391.6,276.4L394.1,274.9L395.3,276.6L394.7,281.5L392.6,286.2L391.0,288.8L390.1,292.5L388.5,293.6L386.4,292.8L384.3,294.1L382.7,298.3L379.5,299.4L376.7,299.7L375.3,297.3L373.2,294.4L370.6,294.1Z" fill="#fa9fb5" stroke="#5a3048" stroke-width="0.35" stroke-opacity="0.8"/><path d="M385.5,304.9L389.0,305.2L393.7,305.2L396.5,305.2L400.0,306.5L400.4,305.2L399.7,303.1L397.6,300.7L396.7,297.8L396.4,294.9L398.7,291.2L395.2,285.4L398.6,284.6L397.4,280.7L396.5,277.5L395.3,276.6L394.7,281.5L392.6,286.2L391.0,288.8L390.1,292.5L388.5,293.6L386.4,292.8L384.3,294.1L382.7,298.3L383.4,299.1L384.8,300.7L385.5,303.1Z" fill="#dd3497" stroke="#5a3048" stroke-width="0.35" stroke-opacity="0.8"/><path d="M394.1,274.9L393.9,272.8L398.4,266.4L398.4,258.5L399.3,257.2L397.0,254.8L396.8,250.3L399.1,249.1L417.7,259.6L418.0,269.6L415.5,269.6L414.7,273.8L413.1,277.5L414.8,278.0L415.8,282.0L413.0,283.0L410.0,287.0L407.0,287.3L405.9,289.6L402.2,291.0L400.8,290.7L398.7,291.2L395.2,285.4L398.6,284.6L397.4,280.7L396.5,277.5L395.3,276.6Z" fill="#fa9fb5" stroke="#5a3048" stroke-width="0.35" stroke-opacity="0.8"/><path d="M419.7,253.0L446.9,253.0L447.7,255.6L448.2,260.9L451.3,263.5L448.7,265.9L447.7,268.0L446.7,271.2L447.0,273.3L446.2,277.5L444.0,279.9L443.6,282.2L442.2,283.0L441.8,285.9L441.3,284.1L439.7,282.8L439.5,278.8L437.0,279.3L435.1,285.2L432.3,283.8L430.0,285.4L424.4,285.9L422.5,283.6L420.2,285.2L417.3,288.1L417.4,284.9L415.8,282.0L414.8,278.0L413.1,277.5L414.7,273.8L415.5,269.6L418.0,269.6L417.7,259.6L417.6,258.2L419.9,258.2Z" fill="#fa9fb5" stroke="#5a3048" stroke-width="0.35" stroke-opacity="0.8"/><path d="M398.7,291.2L400.8,290.7L402.2,291.0L405.9,289.6L407.0,287.3L410.0,287.0L413.0,283.0L415.8,282.0L417.4,284.9L417.3,288.1L418.9,289.1L421.2,290.7L424.1,293.6L426.6,297.7L421.6,297.8L419.5,297.5L416.0,298.3L414.8,300.2L410.6,299.4L407.8,297.5L406.0,299.7L406.0,301.8L403.4,301.5L401.3,301.8L400.4,305.2L399.7,303.1L397.6,300.7L396.7,297.8L396.4,294.9L398.7,291.2Z" fill="#dd3497" stroke="#5a3048" stroke-width="0.35" stroke-opacity="0.8"/><path d="M441.8,285.9L441.3,284.1L439.7,282.8L439.5,278.8L437.0,279.3L435.1,285.2L432.3,283.8L430.0,285.4L424.4,285.9L422.5,283.6L420.2,285.2L417.3,288.1L418.9,289.1L421.2,290.7L424.1,293.6L426.6,297.7L428.8,299.7L431.4,298.9L434.4,301.8L436.7,301.2L439.5,300.7L441.8,299.9L446.2,298.9L446.2,297.0L444.8,296.8L443.4,293.3L439.4,290.2L441.4,288.8L441.8,285.9Z" fill="#f768a1" stroke="#5a3048" stroke-width="0.35" stroke-opacity="0.8"/><path d="M451.3,263.5L448.7,265.9L447.7,268.0L446.7,271.2L447.0,273.3L449.5,273.5L451.3,273.0L452.9,272.5L455.3,272.8L457.9,275.4L460.8,278.0L462.4,277.5L460.4,275.1L457.8,272.5L454.9,269.9L453.7,269.9L452.4,266.7Z" fill="#fa9fb5" stroke="#5a3048" stroke-width="0.35" stroke-opacity="0.8"/><path d="M447.0,273.3L449.5,273.5L451.3,273.0L452.9,272.5L455.3,272.8L457.9,275.4L460.8,278.0L459.5,280.4L459.6,282.0L462.1,282.1L463.2,285.7L464.8,287.3L471.9,289.9L474.2,289.9L467.4,297.8L463.9,298.3L460.5,300.2L460.2,300.6L457.7,299.9L454.7,302.0L451.4,301.5L448.6,299.4L446.2,298.9L446.2,297.0L444.8,296.8L443.4,293.3L439.4,290.2L441.4,288.8L441.8,285.9L442.2,283.0L443.6,282.2L444.0,279.9L446.2,277.5L447.0,273.3Z" fill="#dd3497" stroke="#5a3048" stroke-width="0.35" stroke-opacity="0.8"/><path d="M460.8,278.0L459.5,280.4L459.6,282.0L462.1,282.1L463.0,280.7L462.4,277.5Z" fill="#fa9fb5" stroke="#5a3048" stroke-width="0.35" stroke-opacity="0.8"/><path d="M463.0,280.7L465.9,283.6L471.6,281.5L476.2,281.2L480.3,279.6L481.5,279.9L481.2,283.6L480.6,286.2L478.4,290.7L474.4,297.8L469.8,304.7L465.2,308.4L460.6,313.4L459.6,315.5L458.2,313.4L458.2,303.6L460.2,300.6L460.2,300.6L460.5,300.2L463.9,298.3L467.4,297.8L474.2,289.9L471.9,289.9L464.8,287.3L463.2,285.7L462.1,282.1Z" fill="#fa9fb5" stroke="#5a3048" stroke-width="0.35" stroke-opacity="0.8"/><path d="M459.6,315.5L458.2,313.4L458.2,303.6L460.2,300.6L457.7,299.9L454.7,302.0L451.4,301.5L448.6,299.4L446.2,298.9L441.8,299.9L442.8,301.2L443.0,302.8L444.2,306.5L443.1,308.1L441.9,310.5L441.7,313.6L450.3,318.9L450.5,320.2L453.9,323.4L454.9,321.6L456.3,318.1Z" fill="#dd3497" stroke="#5a3048" stroke-width="0.35" stroke-opacity="0.8"/><path d="M434.4,301.8L436.7,301.2L439.5,300.7L441.8,299.9L442.8,301.2L443.0,302.8L444.2,306.5L443.1,308.1L441.9,310.5L441.7,313.6L433.8,313.8L431.7,314.7L431.7,312.3L432.4,309.4L433.1,307.8L435.6,305.2L434.4,304.7L434.4,301.8Z" fill="#f768a1" stroke="#5a3048" stroke-width="0.35" stroke-opacity="0.8"/><path d="M441.7,313.6L450.3,318.9L450.5,320.2L453.9,323.4L452.9,326.8L454.5,329.2L454.0,332.9L455.0,337.4L456.4,338.7L451.9,341.1L449.5,341.9L447.2,341.9L444.9,341.6L443.5,341.6L442.7,337.4L441.6,336.1L439.0,335.8L435.1,333.7L434.2,332.9L431.1,326.8L431.4,322.6L432.8,322.6L434.4,319.7L433.7,317.3L434.4,317.3L433.8,313.8Z" fill="#fcc5c0" stroke="#5a3048" stroke-width="0.35" stroke-opacity="0.8"/><path d="M430.2,318.1L431.7,314.7L433.8,313.8L434.4,317.3L433.7,317.3L432.3,318.4Z" fill="#fa9fb5" stroke="#5a3048" stroke-width="0.35" stroke-opacity="0.8"/><path d="M430.2,318.1L432.3,318.4L433.7,317.3L434.4,319.7L432.8,322.6L431.4,322.6L430.7,319.7Z" fill="#fa9fb5" stroke="#5a3048" stroke-width="0.35" stroke-opacity="0.8"/><path d="M391.3,327.1L393.4,326.4L401.3,326.6L402.0,330.0L403.6,332.4L407.8,332.1L407.8,330.3L410.3,329.5L413.4,330.3L413.5,336.1L414.1,340.5L418.1,339.8L418.3,339.8L419.2,341.1L421.3,340.8L422.9,342.4L425.2,342.7L428.4,344.0L429.7,346.3L431.6,346.5L431.7,343.2L428.5,342.4L428.8,339.2L429.3,336.8L429.8,333.4L434.2,332.9L431.1,326.8L431.4,322.6L430.7,319.7L430.2,318.1L431.7,314.7L431.7,312.3L432.4,309.4L433.1,307.8L435.6,305.2L434.4,304.7L434.4,301.8L431.4,298.9L428.8,299.7L426.6,297.7L421.6,297.8L419.5,297.5L416.0,298.3L414.8,300.2L410.6,299.4L407.8,297.5L406.0,299.7L406.0,301.8L404.6,304.9L404.2,310.2L402.3,313.9L400.4,316.8L400.0,320.2L398.1,322.3L396.4,323.9L393.9,323.9L393.2,323.1L392.5,324.2L391.8,326.0L391.1,326.4Z" fill="#fcc5c0" stroke="#5a3048" stroke-width="0.35" stroke-opacity="0.8"/><path d="M388.5,321.4L390.2,323.1L390.6,324.2L392.5,322.6L393.2,323.1L393.9,323.9L396.4,323.9L398.1,322.3L400.0,320.2L400.4,316.8L402.3,313.9L404.2,310.2L404.6,304.9L406.0,301.8L403.4,301.5L401.3,301.8L400.4,305.2L400.0,306.5L396.5,305.2L393.7,305.2L393.7,307.6L395.8,307.3L396.5,308.6L395.1,311.0L396.5,312.6L396.2,316.0L395.5,317.6L393.0,317.3L389.7,318.4L390.4,320.2L388.5,321.4Z" fill="#fcc5c0" stroke="#5a3048" stroke-width="0.35" stroke-opacity="0.8"/><path d="M388.5,321.4L386.0,318.6L384.4,316.0L383.2,312.8L384.4,310.2L385.1,308.4L389.0,308.4L389.0,305.2L393.7,305.2L393.7,307.6L395.8,307.3L396.5,308.6L395.1,311.0L396.5,312.6L396.2,316.0L395.5,317.6L393.0,317.3L389.7,318.4L390.4,320.2L388.5,321.4Z" fill="#fa9fb5" stroke="#5a3048" stroke-width="0.35" stroke-opacity="0.8"/><path d="M385.1,308.4L389.0,308.4L389.0,305.2L385.5,304.9ZM382.5,301.2L383.4,301.2L383.0,302.6Z" fill="#fa9fb5" stroke="#5a3048" stroke-width="0.35" stroke-opacity="0.8"/><path d="M390.6,324.2L392.5,322.6L393.2,323.1L392.5,324.2L391.8,326.0L391.1,326.4Z" fill="#fcc5c0" stroke="#5a3048" stroke-width="0.35" stroke-opacity="0.8"/><path d="M391.3,327.1L393.8,332.9L393.3,334.2L394.7,339.2L393.7,344.0L391.6,346.6L390.8,351.1L389.9,354.5L389.7,356.5L394.9,356.9L405.0,356.9L410.9,358.3L416.5,357.4L413.4,353.7L413.6,345.3L418.2,345.3L418.3,339.8L418.1,339.8L414.1,340.5L413.5,336.1L413.4,330.3L410.3,329.5L407.8,330.3L407.8,332.1L403.6,332.4L402.0,330.0L401.3,326.6L393.4,326.4L391.3,327.1Z" fill="#fcc5c0" stroke="#5a3048" stroke-width="0.35" stroke-opacity="0.8"/><path d="M416.5,357.4L413.4,353.7L413.6,345.3L418.2,345.3L418.3,339.8L419.2,341.1L421.3,340.8L422.9,342.4L425.2,342.7L428.4,344.0L429.7,346.3L431.6,346.5L431.7,343.2L428.5,342.4L428.8,339.2L429.3,336.8L429.8,333.4L434.2,332.9L435.1,333.7L439.0,335.8L439.9,339.5L439.5,344.0L438.3,346.9L439.4,347.9L432.4,350.0L432.8,352.1L429.5,352.9L429.0,354.5L424.7,358.2L420.8,358.0L418.3,357.2Z" fill="#fa9fb5" stroke="#5a3048" stroke-width="0.35" stroke-opacity="0.8"/><path d="M439.0,335.8L441.6,336.1L442.7,337.4L443.5,341.6L442.7,346.6L445.5,350.3L445.2,353.2L443.9,356.1L441.9,353.7L441.9,349.0L439.4,347.9L438.3,346.9L439.5,344.0L439.9,339.5L439.0,335.8Z" fill="#fa9fb5" stroke="#5a3048" stroke-width="0.35" stroke-opacity="0.8"/><path d="M456.4,338.7L456.6,344.0L456.9,349.2L456.3,351.9L454.1,354.5L450.1,356.6L447.4,358.2L443.6,362.4L442.6,363.5L443.7,369.0L443.4,373.8L437.5,377.5L437.1,379.3L437.0,381.8L435.1,381.8L435.1,379.6L434.9,379.3L435.4,374.3L434.0,370.1L436.7,367.2L438.2,363.2L437.7,360.9L438.6,356.6L438.4,355.0L434.8,353.2L432.8,352.1L432.4,350.0L439.4,347.9L441.9,349.0L441.9,353.7L443.9,356.1L445.2,353.2L445.5,350.3L442.7,346.6L443.5,341.6L444.9,341.6L447.2,341.9L449.5,341.9L451.9,341.1L456.4,338.7Z" fill="#fcc5c0" stroke="#5a3048" stroke-width="0.35" stroke-opacity="0.8"/><path d="M420.8,358.0L424.7,358.2L429.0,354.5L429.5,352.9L432.8,352.1L434.8,353.2L438.4,355.0L438.6,356.6L437.7,360.9L438.2,363.2L436.7,367.2L434.0,370.1L429.6,369.6L426.6,368.0L426.0,365.1L422.7,362.4L420.7,359.8L420.8,358.0Z" fill="#fa9fb5" stroke="#5a3048" stroke-width="0.35" stroke-opacity="0.8"/><path d="M420.8,358.0L420.7,359.8L422.7,362.4L426.0,365.1L426.6,368.0L429.6,369.6L427.2,370.9L424.1,373.2L423.6,375.1L421.5,376.2L420.4,378.8L414.8,377.7L413.8,379.8L411.7,381.7L409.4,381.7L408.1,376.4L408.3,369.0L410.6,369.0L410.9,359.3L416.2,358.5L418.3,358.5L420.8,358.0Z" fill="#fa9fb5" stroke="#5a3048" stroke-width="0.35" stroke-opacity="0.8"/><path d="M389.7,356.5L394.9,356.9L405.0,356.9L410.9,358.3L416.5,357.4L418.3,357.2L420.8,358.0L418.3,358.5L416.2,358.5L410.9,359.3L410.6,369.0L408.3,369.0L408.1,376.4L407.7,385.9L405.8,387.2L401.8,386.7L399.7,386.4L397.2,383.0L396.6,379.6L395.7,371.4L393.3,366.1L390.2,359.8Z" fill="#f768a1" stroke="#5a3048" stroke-width="0.35" stroke-opacity="0.8"/><path d="M399.7,386.4L401.8,386.7L405.8,387.2L407.7,385.9L408.1,376.4L409.4,381.7L411.7,381.7L413.8,379.8L414.8,377.7L420.4,378.8L421.5,376.2L423.6,375.1L424.1,373.2L427.2,370.9L429.6,369.6L434.0,370.1L435.4,374.3L434.9,379.3L435.1,379.6L435.1,381.8L437.0,381.8L435.9,386.2L432.8,389.6L429.5,393.6L425.4,397.0L422.4,399.4L419.4,400.7L412.3,400.7L406.7,402.8L403.2,401.2L402.6,397.5L403.4,394.4L401.4,390.9Z" fill="#f768a1" stroke="#5a3048" stroke-width="0.35" stroke-opacity="0.8"/><path d="M432.3,380.4L433.8,378.8L435.1,379.6L435.1,381.8L433.3,383.0L432.4,381.7Z" fill="#f768a1" stroke="#5a3048" stroke-width="0.35" stroke-opacity="0.8"/><path d="M423.2,389.1L426.9,386.4L428.6,388.5L426.1,391.7L423.9,390.9Z" fill="url(#hatch)" stroke="#cfcfcf" stroke-width="0.35" stroke-opacity="0.8"/><path d="M476.8,342.7L479.1,351.6L477.2,355.8L476.1,358.5L471.5,371.7L469.5,376.9L465.0,378.5L462.5,376.9L461.4,369.8L464.3,363.8L463.7,358.5L464.9,353.7L469.4,352.4L473.3,349.5L475.5,345.8Z" fill="#fa9fb5" stroke="#5a3048" stroke-width="0.35" stroke-opacity="0.8"/><path d="M306.6,266.4L307.5,266.2L307.2,267.2ZM308.1,270.6L308.7,271.2L308.0,271.7ZM309.9,268.3L310.4,268.3L310.2,268.9ZM377.8,309.9L378.4,310.2L378.0,310.9ZM462.8,341.1L463.4,341.9L462.9,342.4ZM494.0,364.0L494.9,364.3L494.2,365.1ZM489.1,366.1L490.2,366.7L489.2,367.2Z" fill="#fcc5c0" stroke="#5a3048" stroke-width="0.35" stroke-opacity="0.8"/><path d="M413.2,132.5L418.3,132.9L423.6,133.6L433.7,137.2L433.4,139.9L429.2,140.4L420.9,139.0L424.6,144.1L428.9,145.5L430.3,144.1L434.7,143.8L433.1,141.5L435.9,139.4L439.9,140.1L437.7,134.9L441.6,136.3L443.4,138.5L446.1,136.7L453.1,135.1L454.3,134.0L462.8,134.0L464.2,132.0L470.8,133.1L479.7,135.4L475.6,132.7L473.5,129.4L474.0,125.1L479.9,125.5L483.4,129.4L484.7,133.8L488.7,139.0L491.1,137.2L488.1,133.8L486.0,128.3L483.1,125.5L488.8,126.6L491.6,124.0L499.9,123.4L499.2,120.9L509.3,118.7L519.1,115.5L526.0,117.3L537.3,118.9L537.7,123.0L543.0,123.4L552.2,123.8L559.7,124.0L568.8,126.1L576.9,129.4L581.1,128.1L589.9,126.1L609.3,128.3L614.4,129.6L631.6,132.2L643.3,132.2L648.2,131.6L652.4,133.8L662.9,132.9L668.0,134.0L681.3,142.9L678.7,144.3L688.7,149.0L682.7,150.4L680.0,152.6L679.6,154.7L670.7,154.0L668.2,155.0L672.2,159.6L670.3,160.1L677.2,164.5L678.2,167.5L678.6,171.5L677.3,173.3L677.3,177.1L672.0,173.3L663.7,164.5L660.8,160.1L660.4,154.7L662.0,150.7L660.5,148.8L656.5,150.7L649.7,151.1L650.7,155.2L648.2,157.2L640.6,156.2L630.5,156.4L629.5,160.1L627.8,163.3L626.2,167.5L632.4,169.5L641.7,171.5L643.7,175.8L646.8,179.6L649.3,183.5L648.8,187.8L647.5,193.8L644.4,198.2L641.1,196.9L639.9,199.5L639.9,199.5L639.7,197.7L637.2,193.0L640.5,192.2L639.1,187.3L638.9,183.7L634.8,185.5L631.5,185.5L628.6,182.4L620.9,180.1L612.6,173.0L605.9,170.8L601.2,171.3L600.4,172.5L603.3,179.6L601.7,180.9L599.0,180.1L599.0,180.1L593.9,179.1L590.1,181.2L583.2,181.4L578.8,179.1L570.5,178.9L567.5,176.1L559.6,174.3L560.6,179.9L553.7,179.4L548.7,177.6L544.7,179.6L540.5,181.9L540.5,181.9L535.7,180.6L530.3,177.1L523.6,177.6L516.4,171.3L512.6,169.3L508.3,170.5L506.6,169.3L502.1,169.0L500.3,166.3L496.5,166.0L490.2,168.5L484.3,169.5L482.8,169.8L482.3,174.5L486.1,176.3L480.3,176.8L473.2,177.3L466.6,175.6L464.2,175.3L460.6,178.1L457.6,179.1L458.3,183.5L459.8,185.3L463.0,188.4L464.6,189.1L461.6,191.2L460.5,193.8L463.1,197.7L465.8,200.7L464.7,202.4L461.3,200.6L459.1,199.0L456.9,198.5L455.5,198.7L452.4,197.2L450.3,197.2L447.0,196.7L443.4,194.3L440.9,193.3L439.4,191.7L440.9,188.4L443.7,187.1L441.4,187.1L444.4,185.3L444.0,180.6L439.6,179.9L434.5,178.6L431.7,176.6L429.8,173.5L426.0,174.3L424.7,171.5L427.1,170.8L422.7,167.5L422.5,165.5L417.0,164.0L415.7,161.3L414.8,160.6L414.3,157.6L415.1,156.1L415.8,155.0L418.9,155.0L415.5,153.5L414.2,153.4L416.0,151.9L419.7,147.8L416.5,145.9L417.1,144.8L415.4,143.4L415.6,141.3L413.0,138.5L414.3,136.7L411.3,134.9L411.8,133.6ZM641.0,168.8L645.5,172.0L649.1,175.8L655.3,181.4L656.3,186.0L659.1,187.8L659.9,189.6L657.4,189.9L653.8,184.7L649.9,179.6L645.3,174.5ZM447.4,128.3L450.6,129.8L457.3,130.0L452.8,126.1L453.4,123.0L456.1,119.9L462.4,117.9L467.1,117.1L463.1,116.9L456.5,118.3L450.2,120.3L449.2,124.0L447.6,127.2ZM502.0,112.6L500.8,109.4L514.7,112.2L511.8,114.5ZM511.1,115.1L518.3,113.7L518.6,115.1ZM576.0,119.9L580.2,118.7L588.5,119.9L597.3,120.5L592.4,121.3L582.9,121.3ZM586.6,123.8L592.5,124.0L591.4,124.9ZM430.3,110.5L436.9,109.6L442.7,109.8L435.0,111.0ZM443.9,109.4L451.7,108.6L455.6,109.8L449.1,110.6ZM444.5,132.9L447.2,133.3L446.8,134.2L445.0,134.0ZM656.1,128.3L659.0,128.5L660.8,129.6L658.6,129.6ZM44.0,141.0L46.0,138.5L50.0,136.5L54.0,134.5L58.0,134.0L59.0,136.0L60.5,138.5L64.0,139.0L64.5,141.0L62.0,142.0L58.0,142.0L55.0,143.5L51.0,144.5L47.0,143.5ZM63.5,129.5L66.0,128.5L69.0,128.2L69.0,129.5L65.0,130.5Z" fill="#fcc5c0" stroke="#5a3048" stroke-width="0.35" stroke-opacity="0.8"/><path d="M540.5,181.9L544.7,179.6L548.7,177.6L553.7,179.4L560.6,179.9L559.6,174.3L567.5,176.1L570.5,178.9L578.8,179.1L583.2,181.4L590.1,181.2L593.9,179.1L599.0,180.1L599.0,180.1L599.8,185.0L604.7,185.0L610.1,188.1L604.9,188.9L603.3,191.5L596.2,192.5L598.2,195.9L594.7,199.0L586.3,201.3L576.6,198.7L566.7,198.5L562.7,194.3L552.5,192.0L550.3,187.6L543.9,184.2L540.5,181.9Z" fill="#fcc5c0" stroke="#5a3048" stroke-width="0.35" stroke-opacity="0.8"/><path d="M629.8,205.5L625.8,207.9L622.5,203.4L619.6,206.1L616.7,208.2L619.6,210.8L622.7,212.9L629.0,212.4L626.7,214.5L624.5,218.2L630.1,224.0L633.8,227.4L634.6,229.5L632.0,231.1L635.8,232.4L635.9,236.6L633.8,243.7L630.8,246.6L628.2,249.5L623.2,251.9L621.5,252.4L617.6,254.0L614.8,254.8L614.8,257.5L613.4,254.6L609.4,254.2L606.8,253.2L605.6,250.6L602.3,249.5L599.4,251.4L595.5,251.8L595.0,255.1L593.6,254.2L590.9,254.0L588.9,252.7L589.2,250.1L586.9,247.7L584.5,248.0L586.0,242.7L584.8,238.2L581.6,236.5L578.5,233.5L575.7,234.0L572.7,235.3L569.8,237.7L568.8,237.1L566.3,236.9L564.2,236.6L563.1,239.0L562.5,237.0L561.0,237.4L557.3,237.1L554.1,235.6L551.7,234.8L545.9,231.1L543.8,231.3L539.3,229.2L537.9,227.9L536.6,225.3L538.4,224.7L537.1,222.9L536.2,220.3L533.2,217.4L528.9,216.0L526.0,213.4L525.6,212.8L524.9,209.5L521.4,207.0L521.5,205.3L525.6,204.5L529.7,202.7L532.9,199.8L532.4,197.7L531.4,194.6L534.8,192.0L534.0,191.2L533.7,186.8L539.0,187.1L537.9,183.7L540.5,181.9L543.9,184.2L550.3,187.6L552.5,192.0L562.7,194.3L566.7,198.5L576.6,198.7L586.3,201.3L594.7,199.0L598.2,195.9L596.2,192.5L603.3,191.5L604.9,188.9L610.1,188.1L604.7,185.0L599.8,185.0L599.0,180.1L601.7,180.9L603.3,179.6L600.4,172.5L601.2,171.3L605.9,170.8L612.6,173.0L620.9,180.1L628.6,182.4L631.5,185.5L634.8,185.5L638.9,183.7L639.1,187.3L640.5,192.2L637.2,193.0L639.7,197.7L639.9,199.5L639.9,199.5L639.6,199.3L637.9,198.0L637.7,199.3L634.9,200.3L632.6,200.8L632.0,203.2L629.8,205.5ZM611.8,260.4L613.3,258.2L616.5,258.2L616.9,259.3L615.1,262.5L612.9,262.7Z" fill="#ae017e" stroke="#5a3048" stroke-width="0.35" stroke-opacity="0.8"/><path d="M637.0,245.1L639.1,245.1L639.0,249.0L638.5,253.2L636.1,250.3L636.3,247.7Z" fill="#f768a1" stroke="#5a3048" stroke-width="0.35" stroke-opacity="0.8"/><path d="M629.8,205.5L632.0,203.2L632.6,200.8L634.9,200.3L637.7,199.3L637.9,198.0L639.6,199.3L639.9,199.5L639.8,202.9L639.9,204.2L637.0,206.1L637.4,207.6L640.3,209.2L637.7,210.0L636.4,211.4L634.3,211.0L632.7,209.2L632.1,206.6Z" fill="#dd3497" stroke="#5a3048" stroke-width="0.35" stroke-opacity="0.8"/><path d="M641.2,220.3L643.0,219.2L646.3,218.2L645.0,214.5L640.3,209.2L637.7,210.0L636.4,211.4L638.4,213.4L639.2,216.0L640.3,218.2ZM641.5,222.6L643.1,222.6L642.8,223.4Z" fill="#7a0177" stroke="#5a3048" stroke-width="0.35" stroke-opacity="0.8"/><path d="M661.4,201.6L658.7,198.7L660.9,197.2L657.7,191.5L662.2,193.8L667.6,194.6L669.8,196.9L667.2,200.3L661.5,199.0ZM662.9,201.6L664.1,201.9L668.2,206.6L668.0,210.0L669.8,213.4L671.3,216.8L670.1,218.9L667.9,219.5L664.1,219.7L664.2,220.5L662.8,222.6L660.3,220.5L657.5,219.7L654.6,220.5L651.6,221.3L651.2,220.0L653.6,217.4L657.4,217.1L660.6,216.8L660.0,212.6L662.0,213.9L663.8,212.4L664.7,210.0L663.6,206.1L662.2,203.7L662.1,202.4ZM655.0,221.6L658.3,220.5L660.0,221.8L659.5,223.2L657.3,224.5L655.4,222.9ZM649.5,222.6L651.7,221.6L654.5,223.4L655.3,228.2L654.0,229.0L651.7,225.8L649.8,224.0ZM651.4,241.9L652.3,240.3L651.9,241.1Z" fill="#7a0177" stroke="#5a3048" stroke-width="0.35" stroke-opacity="0.8"/><path d="M464.6,189.1L463.0,188.4L459.8,185.3L458.3,183.5L457.6,179.1L460.6,178.1L464.2,175.3L466.6,175.6L473.2,177.3L480.3,176.8L486.1,176.3L482.3,174.5L482.8,169.8L484.3,169.5L490.2,168.5L496.5,166.0L500.3,166.3L502.1,169.0L506.6,169.3L508.3,170.5L512.6,169.3L516.4,171.3L523.6,177.6L530.3,177.1L535.7,180.6L540.5,181.9L540.5,181.9L537.9,183.7L539.0,187.1L533.7,186.8L534.0,191.2L534.8,192.0L531.4,194.6L532.4,197.7L532.9,199.8L532.9,199.8L529.8,198.2L523.4,198.0L519.9,197.2L518.4,199.0L513.1,198.7L513.3,199.5L513.3,199.5L512.2,201.3L508.5,204.0L505.0,202.4L502.6,199.3L502.4,197.7L499.3,195.9L493.3,196.4L490.5,194.1L484.4,190.9L479.6,192.5L482.1,202.1L478.9,200.3L474.2,201.0L473.7,198.2L470.3,195.1L468.0,193.5L469.6,191.7L473.2,191.7L472.5,187.6L468.3,187.3Z" fill="#fcc5c0" stroke="#5a3048" stroke-width="0.35" stroke-opacity="0.8"/><path d="M479.6,192.5L484.4,190.9L490.5,194.1L493.3,196.4L499.3,195.9L502.4,197.7L502.6,199.3L505.0,202.4L508.5,204.0L512.2,201.3L513.3,199.5L518.8,203.4L514.1,205.0L510.7,205.0L509.9,206.8L508.4,206.6L510.9,210.3L510.2,212.9L507.3,212.5L507.1,210.8L501.2,208.2L496.7,205.5L494.9,202.7L490.8,201.9L490.0,199.8L486.7,198.5L485.4,199.8L483.7,200.6L484.3,202.1L482.1,202.1Z" fill="#fa9fb5" stroke="#5a3048" stroke-width="0.35" stroke-opacity="0.8"/><path d="M474.2,201.0L478.9,200.3L482.1,202.1L482.1,202.1L484.3,202.1L483.7,200.6L485.4,199.8L486.7,198.5L490.0,199.8L490.8,201.9L494.9,202.7L496.7,205.5L501.2,208.2L507.1,210.8L507.3,212.5L503.8,213.2L503.6,215.3L500.8,216.6L499.4,217.9L496.8,217.1L496.0,214.5L494.3,214.5L491.6,212.1L486.8,210.3L484.7,210.5L481.8,212.4L479.9,212.5L478.8,208.2L477.1,207.1L475.6,204.2L475.9,202.9Z" fill="#fcc5c0" stroke="#5a3048" stroke-width="0.35" stroke-opacity="0.8"/><path d="M513.3,199.5L513.1,198.7L518.4,199.0L519.9,197.2L523.4,198.0L529.8,198.2L532.9,199.8L532.9,199.8L529.7,202.7L525.6,204.5L521.5,205.3L521.4,207.0L517.3,207.1L514.4,206.6L511.7,206.1L510.7,205.0L514.1,205.0L518.8,203.4Z" fill="#fcc5c0" stroke="#5a3048" stroke-width="0.35" stroke-opacity="0.8"/><path d="M510.2,212.9L510.9,210.3L508.4,206.6L509.9,206.8L510.7,205.0L511.7,206.1L514.4,206.6L517.3,207.1L521.4,207.0L524.9,209.5L525.6,212.8L522.0,212.2L519.1,214.2L517.8,211.0L516.1,209.7L513.6,213.2Z" fill="#fcc5c0" stroke="#5a3048" stroke-width="0.35" stroke-opacity="0.8"/><path d="M496.8,217.1L499.4,217.9L500.8,216.6L503.6,215.3L503.8,213.2L507.3,212.5L510.2,212.9L513.6,213.2L516.1,209.7L517.8,211.0L519.1,214.2L522.0,212.2L525.6,212.8L524.0,213.9L519.1,215.0L519.4,221.1L518.2,223.2L516.7,226.9L514.3,227.1L510.8,229.5L511.0,232.1L502.8,233.5L499.0,232.3L500.4,229.8L500.3,228.2L498.1,227.9L496.8,223.7L497.0,220.0L496.8,217.1Z" fill="#fa9fb5" stroke="#5a3048" stroke-width="0.35" stroke-opacity="0.8"/><path d="M459.0,206.3L460.7,208.2L462.2,208.4L463.1,208.4L465.9,206.3L468.5,209.7L471.4,212.4L475.0,214.2L480.1,213.4L479.9,212.5L481.8,212.4L484.7,210.5L486.8,210.3L491.6,212.1L494.3,214.5L496.0,214.5L496.8,217.1L497.0,220.0L496.8,223.7L498.1,227.9L500.3,228.2L500.4,229.8L499.0,232.3L501.7,235.6L503.9,236.6L504.3,239.3L505.7,240.8L502.4,241.9L502.3,244.5L496.3,244.0L492.4,242.9L490.8,239.5L486.5,241.1L483.3,240.6L481.2,238.7L478.4,237.4L476.7,234.8L474.5,231.3L471.9,230.8L471.3,232.0L469.7,229.2L468.7,226.9L467.6,225.3L464.8,224.0L462.8,221.3L464.1,216.6L462.0,216.0L460.2,212.9L458.5,210.8L458.3,207.1Z" fill="#f768a1" stroke="#5a3048" stroke-width="0.35" stroke-opacity="0.8"/><path d="M455.0,213.2L460.2,212.9L460.2,212.9L462.0,216.0L464.1,216.6L462.8,221.3L464.8,224.0L467.6,225.3L468.7,226.9L469.7,229.2L471.3,232.0L469.8,231.9L469.4,231.6L467.0,234.2L462.9,234.0L456.5,229.0L452.5,226.9L449.7,226.2L448.5,222.9L453.0,220.3L453.0,217.1L453.1,214.7Z" fill="#ae017e" stroke="#5a3048" stroke-width="0.35" stroke-opacity="0.8"/><path d="M442.0,216.6L442.9,215.5L442.7,213.9L447.3,214.2L451.5,213.2L455.0,213.2L453.1,214.7L453.0,217.1L453.0,220.3L448.5,222.9L444.4,225.8L441.8,224.7L441.4,223.3L442.1,222.9L443.4,220.8L442.8,219.7L441.8,219.6L441.4,217.6Z" fill="#f768a1" stroke="#5a3048" stroke-width="0.35" stroke-opacity="0.8"/><path d="M440.4,223.7L441.8,219.6L442.8,219.7L443.4,220.8L442.1,222.9L441.4,223.3Z" fill="#7a0177" stroke="#5a3048" stroke-width="0.35" stroke-opacity="0.8"/><path d="M438.9,228.4L440.9,233.2L441.7,228.2L441.6,225.5L441.8,224.7L441.4,223.3L440.4,223.7L440.1,225.3Z" fill="#ae017e" stroke="#5a3048" stroke-width="0.35" stroke-opacity="0.8"/><path d="M441.0,233.6L443.6,234.0L446.6,231.9L447.6,230.6L445.1,227.9L449.4,226.6L449.7,226.2L448.5,222.9L444.4,225.8L441.8,224.7L441.6,225.5L441.7,228.2L440.9,233.2Z" fill="#7a0177" stroke="#5a3048" stroke-width="0.35" stroke-opacity="0.8"/><path d="M441.0,233.6L443.6,234.0L446.6,231.9L447.6,230.6L445.1,227.9L449.4,226.6L449.7,226.2L449.7,226.2L452.5,226.9L456.5,229.0L462.9,234.0L467.0,234.2L469.2,234.5L469.9,235.8L471.5,235.8L473.1,238.2L475.8,240.6L476.3,243.2L477.9,245.7L478.9,246.1L479.9,247.0L479.9,247.4L482.5,250.6L488.4,251.1L489.7,253.0L488.6,258.2L481.9,260.9L475.3,261.9L473.3,263.0L471.9,265.9L470.1,265.4L465.0,265.1L462.4,264.8L461.2,267.7L460.6,266.4L455.5,259.6L452.2,254.3L449.1,247.4L445.1,241.9L443.2,238.9L440.6,237.1Z" fill="#7a0177" stroke="#5a3048" stroke-width="0.35" stroke-opacity="0.8"/><path d="M461.2,267.7L462.4,264.8L465.0,265.1L470.1,265.4L471.9,265.9L473.3,263.0L475.3,261.9L481.9,260.9L484.9,267.1L483.0,269.9L476.0,272.8L475.2,274.1L470.6,275.7L466.8,277.4L463.3,277.6L462.6,275.9L461.7,272.0ZM486.2,277.5L488.8,277.9L487.0,278.6Z" fill="#f768a1" stroke="#5a3048" stroke-width="0.35" stroke-opacity="0.8"/><path d="M484.9,267.1L481.9,260.9L488.6,258.2L489.7,253.0L488.4,251.1L489.4,247.2L490.6,245.2L495.9,248.8L499.0,251.7L497.2,257.2L495.2,260.9L495.0,261.1L492.0,263.8L489.2,266.2ZM489.6,242.2L490.4,241.6L490.2,243.5Z" fill="#f768a1" stroke="#5a3048" stroke-width="0.35" stroke-opacity="0.8"/><path d="M479.9,247.0L479.9,247.4L482.5,250.6L488.4,251.1L489.4,247.2L490.6,245.2L490.2,243.5L489.6,242.3L489.2,243.2L486.4,246.5L485.3,247.2L482.2,247.2Z" fill="#f768a1" stroke="#5a3048" stroke-width="0.35" stroke-opacity="0.8"/><path d="M477.9,245.7L478.9,246.1L479.6,244.3L478.7,242.2L477.7,243.7Z" fill="url(#hatch)" stroke="#cfcfcf" stroke-width="0.35" stroke-opacity="0.8"/><path d="M467.0,234.2L469.2,234.5L469.9,235.8L471.5,235.8L470.3,233.5L469.8,231.9L469.4,231.6Z" fill="#f768a1" stroke="#5a3048" stroke-width="0.35" stroke-opacity="0.8"/><path d="M447.0,196.7L450.3,197.2L452.4,197.2L455.5,198.7L456.9,198.5L459.1,199.0L461.3,200.6L462.0,202.7L458.7,202.1L455.6,202.7L453.9,201.6L451.1,201.6L451.3,200.0L450.3,198.5Z" fill="#fa9fb5" stroke="#5a3048" stroke-width="0.35" stroke-opacity="0.8"/><path d="M455.6,202.7L458.7,202.1L460.4,204.5L462.8,206.8L463.1,208.4L462.2,208.4L461.3,207.1L459.0,206.3L456.5,205.3Z" fill="#fa9fb5" stroke="#5a3048" stroke-width="0.35" stroke-opacity="0.8"/><path d="M458.7,202.1L462.0,202.7L461.3,200.6L464.7,202.4L465.8,200.7L467.8,202.9L470.5,204.5L469.1,207.1L468.5,209.7L465.9,206.3L463.1,208.4L462.8,206.8L460.4,204.5ZM459.0,206.3L461.3,207.1L462.2,208.4L460.7,208.2Z" fill="#fa9fb5" stroke="#5a3048" stroke-width="0.35" stroke-opacity="0.8"/><path d="M502.3,244.5L508.9,244.5L513.3,244.0L514.7,245.6L517.7,248.5L518.9,246.9L523.9,246.6L521.6,243.2L521.1,241.1L519.5,239.8L521.1,237.1L524.4,236.9L526.9,232.1L528.8,229.2L528.5,226.9L530.0,225.8L526.4,223.4L525.3,220.5L527.7,219.7L531.8,218.7L533.2,217.4L528.9,216.0L526.0,213.4L525.6,212.8L524.0,213.9L519.1,215.0L519.4,221.1L518.2,223.2L516.7,226.9L514.3,227.1L510.8,229.5L511.0,232.1L502.8,233.5L499.0,232.3L501.7,235.6L503.9,236.6L504.3,239.3L505.7,240.8L502.4,241.9L502.3,244.5Z" fill="#dd3497" stroke="#5a3048" stroke-width="0.35" stroke-opacity="0.8"/><path d="M517.7,248.5L518.6,249.8L520.5,252.4L523.6,256.1L525.0,256.4L527.6,255.3L528.0,252.4L529.0,255.6L529.6,260.9L531.3,266.2L534.7,272.8L535.7,277.0L539.7,284.9L542.8,289.7L544.2,287.5L546.3,286.5L547.7,283.8L547.7,279.9L548.4,276.4L547.6,270.1L549.9,268.0L552.1,267.2L554.1,264.3L557.4,259.8L560.6,257.7L561.3,254.3L563.8,254.0L566.0,253.5L564.1,247.2L562.5,245.3L562.4,241.4L565.8,242.4L566.1,244.3L572.2,245.1L569.9,247.4L570.7,250.1L572.7,249.8L573.9,253.0L575.1,252.2L575.0,248.5L576.5,248.0L577.2,244.3L577.7,240.8L579.6,239.3L581.7,239.5L581.6,236.5L578.5,233.5L575.7,234.0L572.7,235.3L569.8,237.7L570.6,240.2L565.5,240.6L563.1,239.0L562.5,237.0L561.0,237.4L561.8,241.4L556.5,240.8L552.5,238.7L550.5,238.9L546.8,237.4L542.5,235.0L543.8,231.3L539.3,229.2L537.9,227.9L536.6,225.3L538.4,224.7L537.1,222.9L536.2,220.3L533.2,217.4L531.8,218.7L527.7,219.7L525.3,220.5L526.4,223.4L530.0,225.8L528.5,226.9L528.8,229.2L526.9,232.1L524.4,236.9L521.1,237.1L519.5,239.8L521.1,241.1L521.6,243.2L523.9,246.6L518.9,246.9L517.7,248.5Z" fill="#dd3497" stroke="#5a3048" stroke-width="0.35" stroke-opacity="0.8"/><path d="M566.0,253.5L564.1,247.2L562.5,245.3L562.4,241.4L565.8,242.4L566.1,244.3L572.2,245.1L569.9,247.4L570.7,250.1L572.7,249.8L573.9,253.0L573.7,256.4L572.0,252.2L568.9,251.7Z" fill="#dd3497" stroke="#5a3048" stroke-width="0.35" stroke-opacity="0.8"/><path d="M542.5,235.0L543.8,231.3L545.9,231.1L551.7,234.8L554.1,235.6L557.3,237.1L561.0,237.4L561.8,241.4L556.5,240.8L552.5,238.7L550.5,238.9L546.8,237.4Z" fill="#dd3497" stroke="#5a3048" stroke-width="0.35" stroke-opacity="0.8"/><path d="M563.1,239.0L564.2,236.6L566.3,236.9L568.8,237.1L569.8,237.7L570.6,240.2L565.5,240.6Z" fill="#f768a1" stroke="#5a3048" stroke-width="0.35" stroke-opacity="0.8"/><path d="M548.7,285.2L551.3,288.6L553.0,292.0L551.5,294.6L549.2,295.2L547.9,291.2L548.2,288.6Z" fill="#fa9fb5" stroke="#5a3048" stroke-width="0.35" stroke-opacity="0.8"/><path d="M573.7,256.4L576.9,259.6L579.2,263.5L579.9,268.8L582.5,269.3L585.5,267.2L587.4,267.5L588.1,271.4L589.6,275.4L591.0,279.3L591.4,284.6L592.1,282.5L592.5,280.7L592.0,277.8L591.9,274.9L589.2,271.4L590.0,268.0L586.2,262.2L587.1,259.0L590.3,257.3L591.6,257.3L593.6,254.2L590.9,254.0L588.9,252.7L589.2,250.1L586.9,247.7L584.5,248.0L586.0,242.7L584.8,238.2L581.6,236.5L581.6,236.5L581.7,239.5L579.6,239.3L577.7,240.8L577.2,244.3L576.5,248.0L575.0,248.5L575.1,252.2L573.9,253.0Z" fill="#fa9fb5" stroke="#5a3048" stroke-width="0.35" stroke-opacity="0.8"/><path d="M591.4,284.6L590.7,288.6L591.1,290.2L593.5,292.5L595.4,294.0L595.9,293.3L597.9,296.0L600.1,294.5L597.5,292.8L596.0,291.7L594.9,288.3L593.1,286.5L592.7,283.6L593.3,279.9L594.0,277.0L593.8,275.7L595.9,275.7L596.4,277.8L599.5,278.8L601.0,280.3L599.8,277.5L599.3,275.1L600.5,273.3L603.9,273.0L605.6,273.1L606.1,270.1L604.0,267.7L603.6,265.1L601.2,262.7L599.2,263.5L597.1,263.0L595.0,264.8L594.7,259.6L592.9,259.6L592.8,257.7L591.6,257.3L591.6,257.3L590.3,257.3L587.1,259.0L586.2,262.2L590.0,268.0L589.2,271.4L591.9,274.9L592.0,277.8L592.5,280.7L592.1,282.5L591.4,284.6Z" fill="#dd3497" stroke="#5a3048" stroke-width="0.35" stroke-opacity="0.8"/><path d="M591.6,257.3L593.6,254.2L595.0,255.1L595.5,251.8L598.0,255.3L601.6,256.9L600.9,259.6L604.0,261.9L607.9,266.4L610.4,269.1L610.9,272.2L607.4,273.0L605.6,273.1L606.1,270.1L604.0,267.7L603.6,265.1L601.2,262.7L599.2,263.5L597.1,263.0L595.0,264.8L594.7,259.6L592.9,259.6L592.8,257.7L591.6,257.3Z" fill="#f768a1" stroke="#5a3048" stroke-width="0.35" stroke-opacity="0.8"/><path d="M609.4,254.2L606.8,253.2L605.6,250.6L602.3,249.5L599.4,251.4L595.5,251.8L598.0,255.3L601.6,256.9L600.9,259.6L604.0,261.9L607.9,266.4L610.4,269.1L610.9,272.2L611.4,278.3L609.1,279.9L608.1,282.0L606.3,282.2L604.9,283.6L606.2,284.9L606.0,288.3L610.3,285.7L610.3,283.6L612.8,282.8L615.6,280.4L615.7,277.2L615.0,274.6L613.8,270.6L611.9,268.5L608.7,265.6L607.3,263.8L605.0,260.9L605.3,258.2L606.6,256.4L608.4,255.1Z" fill="#dd3497" stroke="#5a3048" stroke-width="0.35" stroke-opacity="0.8"/><path d="M601.0,280.3L599.8,277.5L599.3,275.1L600.5,273.3L603.9,273.0L605.6,273.1L607.4,273.0L610.9,272.2L611.4,278.3L609.1,279.9L608.1,282.0L606.3,282.2L604.9,283.6L602.9,283.0L601.6,282.0Z" fill="#f768a1" stroke="#5a3048" stroke-width="0.35" stroke-opacity="0.8"/><path d="M595.4,294.0L595.9,293.3L597.9,296.0L600.1,294.5L603.3,298.3L603.7,303.6L605.5,307.3L603.8,307.6L600.3,304.9L598.6,303.4L596.9,299.9L596.0,296.5ZM618.0,306.0L621.3,307.0L622.2,304.4L625.8,302.6L628.0,298.9L629.2,300.2L630.6,299.7L631.0,297.8L631.2,296.8L634.2,292.5L636.4,294.4L640.0,297.0L638.0,299.7L636.4,299.9L631.8,299.9L631.9,303.1L629.7,307.0L626.0,307.3L623.2,308.6L620.2,308.8Z" fill="#fcc5c0" stroke="#5a3048" stroke-width="0.35" stroke-opacity="0.8"/><path d="M628.2,298.9L631.0,297.8L630.6,299.7L629.2,300.2Z" fill="#7a0177" stroke="#5a3048" stroke-width="0.35" stroke-opacity="0.8"/><path d="M584.4,296.2L589.5,297.3L596.5,303.9L603.6,309.4L604.5,313.6L609.5,318.9L608.8,326.3L606.0,326.6L600.8,321.6L596.6,313.6L592.6,306.5L588.5,301.8ZM607.2,328.9L609.5,326.6L614.9,328.4L620.3,327.9L624.7,329.2L628.7,331.3L628.3,333.9L620.5,332.9L613.6,331.6L609.9,330.5ZM628.6,332.4L631.4,332.9L630.1,334.2ZM632.1,332.9L633.7,333.2L632.9,334.5ZM633.9,333.2L639.3,332.9L638.7,334.2L634.3,334.7ZM640.9,333.2L648.1,332.6L647.8,333.9L641.3,334.5ZM638.8,335.8L642.9,337.1L641.4,338.2L638.7,336.8ZM649.1,338.2L650.9,335.5L652.8,335.0L652.5,336.6L650.2,338.2ZM618.0,306.0L616.7,310.2L617.4,313.4L619.3,318.6L622.8,320.2L629.2,321.8L632.8,320.5L634.1,316.3L636.5,308.9L640.0,308.4L637.0,303.9L636.4,299.9L631.8,299.9L631.9,303.1L629.7,307.0L626.0,307.3L623.2,308.6L620.2,308.8ZM641.6,309.2L644.1,307.4L650.4,308.5L654.4,306.6L652.3,310.1L645.6,309.8L642.5,311.5L644.1,314.7L650.0,313.4L649.0,315.2L646.0,316.0L647.7,319.7L649.4,322.3L647.3,323.7L645.5,323.1L644.5,318.1L643.1,318.9L642.8,325.8L640.4,325.5L640.9,320.2L639.4,318.1L640.6,314.7L641.8,311.3ZM659.7,305.7L660.9,307.8L662.5,307.0L660.9,309.9L661.9,313.4L660.2,311.8L659.8,308.4ZM660.8,318.6L667.3,319.7L665.3,320.8L660.7,320.2ZM656.3,319.2L658.9,319.7L658.4,321.0L656.3,320.5ZM667.7,314.7L671.2,311.9L675.4,313.1L675.0,317.6L676.8,319.7L679.5,317.1L684.0,315.0L691.1,317.9L690.0,335.0L687.6,332.4L683.2,333.2L685.7,330.0L683.7,325.5L678.1,322.6L673.5,321.3L671.8,321.6L671.7,318.4L669.9,318.4ZM674.8,326.3L676.0,326.6L675.1,328.9ZM608.9,316.3L611.2,317.6L610.0,318.9ZM589.1,307.3L590.8,309.2L589.6,308.6ZM592.4,313.6L594.0,315.7L593.1,315.2Z" fill="#fa9fb5" stroke="#5a3048" stroke-width="0.35" stroke-opacity="0.8"/><path d="M652.8,335.0L658.3,333.2L657.3,334.2L652.7,336.1Z" fill="#dd3497" stroke="#5a3048" stroke-width="0.35" stroke-opacity="0.8"/><path d="M639.4,262.2L643.1,262.2L644.0,266.2L642.9,269.3L643.7,273.3L646.0,273.3L648.9,274.6L649.8,277.8L647.8,276.7L645.7,274.3L643.0,275.1L641.2,273.5L639.8,272.0L638.5,268.0L640.0,268.3L639.4,264.8ZM641.0,275.7L643.6,276.2L643.6,278.6L642.2,278.0ZM634.9,288.8L637.9,285.9L639.5,281.2L638.2,284.1L635.2,287.5ZM645.2,279.9L647.8,280.7L647.4,283.3L645.5,283.3ZM646.8,284.9L648.4,282.2L649.0,283.0L648.2,287.0ZM650.3,278.0L652.8,278.0L653.9,281.7L652.3,281.5ZM650.8,280.9L652.6,282.0L653.1,284.4L651.9,284.1ZM646.3,292.5L646.8,289.9L649.2,288.1L652.2,287.3L653.8,285.2L656.0,289.4L656.9,292.0L655.9,294.4L654.4,296.2L654.9,292.3L651.2,292.8L649.5,291.5ZM648.9,284.4L650.0,281.5L650.2,283.8L649.0,285.9Z" fill="#fa9fb5" stroke="#5a3048" stroke-width="0.35" stroke-opacity="0.8"/><path d="M623.0,368.5L629.5,365.3L635.0,363.8L641.1,361.6L643.3,358.5L646.6,356.6L649.4,354.0L653.6,348.5L657.7,349.2L659.2,350.3L661.5,350.3L663.2,345.8L665.6,343.7L669.8,341.1L675.1,343.2L679.5,343.2L677.0,346.6L675.3,350.3L679.5,352.9L682.9,356.9L686.5,357.2L689.3,350.6L690.3,344.2L693.0,339.2L694.6,344.8L694.5,348.7L697.9,350.6L698.2,357.2L697.5,360.9L702.5,364.0L703.9,369.8L705.7,373.0L709.1,377.7L708.3,382.2L707.7,386.4L703.8,392.8L701.0,396.5L696.6,400.2L691.2,406.0L688.4,409.9L683.2,411.2L678.3,414.1L676.9,411.2L672.7,413.3L668.3,411.5L667.2,408.1L666.2,404.9L667.0,401.2L668.2,397.0L663.7,403.1L660.9,403.1L659.8,398.0L654.7,394.1L649.7,394.4L642.4,396.2L637.2,398.0L635.2,400.4L627.4,400.4L621.8,403.6L617.9,401.7L616.0,401.5L619.8,395.4L620.0,391.4L620.2,386.2L619.2,379.6L621.0,374.3ZM672.3,418.3L675.5,419.3L679.7,418.8L677.8,421.7L673.4,425.3L670.1,425.9L670.9,422.2Z" fill="#dd3497" stroke="#5a3048" stroke-width="0.35" stroke-opacity="0.8"/><path d="M743.0,401.7L744.9,404.1L743.8,408.3L744.8,410.2L748.9,410.2L750.2,410.4L746.4,414.1L743.7,415.2L741.8,417.5L736.0,420.7L735.5,419.9L738.3,417.0L737.2,414.6L741.3,411.5L742.9,408.3L742.6,403.8ZM732.6,417.8L734.7,419.6L732.6,421.4L727.0,425.3L726.3,426.6L721.9,427.7L717.0,431.8L713.2,433.6L710.7,433.6L708.1,432.6L709.1,431.1L715.8,427.2L722.9,424.3L726.7,421.7L730.5,418.8Z" fill="#7a0177" stroke="#5a3048" stroke-width="0.35" stroke-opacity="0.8"/><path d="M691.1,317.9L699.1,321.0L701.9,325.2L705.7,326.8L706.3,328.7L704.2,328.9L704.8,330.5L706.5,332.4L709.2,335.0L712.4,338.2L710.8,339.2L705.7,337.6L703.8,336.1L701.8,332.1L698.4,331.3L695.7,332.9L694.6,335.5L690.0,335.0ZM707.9,325.5L711.7,324.2L715.3,322.1L717.2,322.3L716.3,325.2L712.7,327.4L709.2,327.4ZM713.9,317.9L717.7,321.0L718.7,323.4L717.9,322.6L715.4,320.0ZM722.3,325.2L723.9,325.8L725.1,328.9L723.8,328.4ZM704.2,316.3L706.1,316.3L705.6,317.1Z" fill="#f768a1" stroke="#5a3048" stroke-width="0.35" stroke-opacity="0.8"/><path d="M726.5,328.7L728.7,330.3L727.5,330.5ZM731.2,331.0L734.0,333.2L733.1,333.4ZM733.1,335.5L735.7,336.8L733.8,337.1ZM735.6,333.2L737.0,336.1L736.1,335.5ZM736.7,337.9L738.9,339.2L737.7,339.5Z" fill="#fa9fb5" stroke="#5a3048" stroke-width="0.35" stroke-opacity="0.8"/><path d="M747.2,349.8L748.1,352.1L747.1,352.4ZM747.8,353.2L749.2,354.5L748.0,354.8ZM749.3,357.2L750.0,358.0L749.1,358.0Z" fill="#fcc5c0" stroke="#5a3048" stroke-width="0.35" stroke-opacity="0.8"/><path d="M738.0,364.0L740.8,366.4L743.4,369.6L742.2,369.8L739.3,367.7L737.7,365.1Z" fill="#fcc5c0" stroke="#5a3048" stroke-width="0.35" stroke-opacity="0.8"/><path d="M770.2,357.2L772.4,356.6L773.1,358.5L770.8,359.3L769.8,358.5ZM774.0,354.8L777.2,353.7L776.6,355.3Z" fill="#fa9fb5" stroke="#5a3048" stroke-width="0.35" stroke-opacity="0.8"/></g>
<g>
<rect x="36.400" y="502.600" width="47.800" height="9.800" fill="url(#hatch2)" stroke="#b5b5b5" stroke-width="0.5"/>
<path d="M109,502.500 L205.500,502.500 L205.500,512.500 L109,512.500 L103,507.500 Z" fill="#d8b894" stroke="#b89a78" stroke-width="0.4"/>
<rect x="205.5" y="502.500" width="101.0" height="10" fill="#fcc5c0" stroke="#000" stroke-opacity="0.18" stroke-width="0.4"/>
<rect x="306.5" y="502.500" width="101.3" height="10" fill="#fa9fb5" stroke="#000" stroke-opacity="0.18" stroke-width="0.4"/>
<rect x="407.8" y="502.500" width="101.3" height="10" fill="#f768a1" stroke="#000" stroke-opacity="0.18" stroke-width="0.4"/>
<rect x="509.1" y="502.500" width="101.3" height="10" fill="#dd3497" stroke="#000" stroke-opacity="0.18" stroke-width="0.4"/>
<rect x="610.4" y="502.500" width="101.3" height="10" fill="#ae017e" stroke="#000" stroke-opacity="0.18" stroke-width="0.4"/>
<rect x="711.7" y="502.500" width="101.3" height="10" fill="#7a0177" stroke="#000" stroke-opacity="0.18" stroke-width="0.4"/>
<g stroke="#444" stroke-opacity="0.7" stroke-width="0.5"><line x1="205.5" y1="500" x2="205.5" y2="512.500"/><line x1="306.5" y1="500" x2="306.5" y2="512.500"/><line x1="407.8" y1="500" x2="407.8" y2="512.500"/><line x1="509.1" y1="500" x2="509.1" y2="512.500"/><line x1="610.4" y1="500" x2="610.4" y2="512.500"/><line x1="711.7" y1="500" x2="711.7" y2="512.500"/><line x1="154.700" y1="500" x2="154.700" y2="502.500"/><line x1="60" y1="500" x2="60" y2="502.500"/></g>
</g>
</svg>
<div class="lg" style="left:60.0px">No data</div>
<div class="lg" style="left:154.7px">Phosphorus mining</div>
<div class="lg" style="left:306.5px">0 kg</div>
<div class="lg" style="left:407.8px">5 kg</div>
<div class="lg" style="left:509.6px">10 kg</div>
<div class="lg" style="left:610.9px">25 kg</div>
<div class="lg" style="left:712.5px">50 kg</div>
<div class="lg" style="left:814.0px">100 kg</div>
<div class="foot" style="top:534.5px;letter-spacing:-0.03px"><b style="letter-spacing:-0.35px">Data source:</b> West, Gerber, Engstrom, Mueller, Brauman, Carlson, Cassidy, Johnston, MacDonald, Ray &amp; Siebert (2014). Leverage points</div>
<div class="foot" style="top:550px;letter-spacing:0.1px">for improving global food security and the environment. Science.</div>
<div class="foot" style="top:570px">fertilizers | CC BY</div>
</body></html>
